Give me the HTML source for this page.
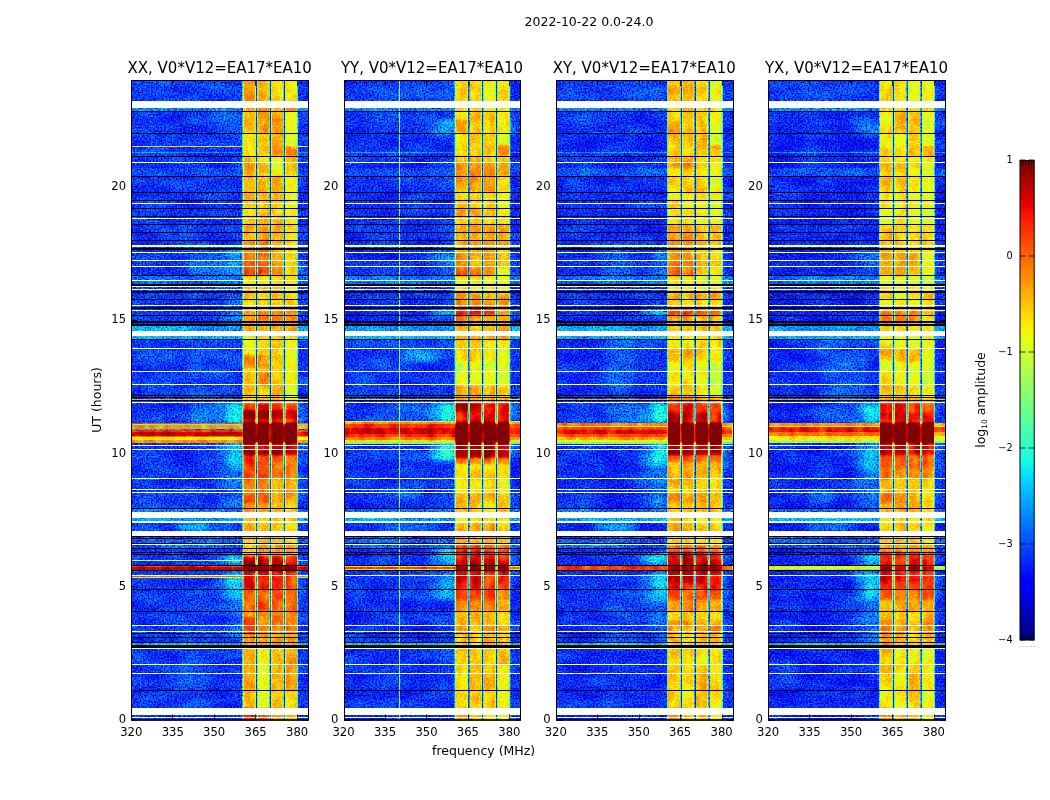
<!DOCTYPE html>
<html><head><meta charset="utf-8"><title>2022-10-22 0.0-24.0</title>
<style>html,body{margin:0;padding:0;background:#fff;overflow:hidden}svg{display:block}text{font-family:"DejaVu Sans","Liberation Sans",sans-serif;fill:#000}</style></head>
<body>
<svg width="1050" height="800" viewBox="0 0 1050 800">
<defs>
<filter id="jet0" filterUnits="userSpaceOnUse" x="131.5" y="80.5" width="177" height="639.5" color-interpolation-filters="sRGB">
<feTurbulence type="fractalNoise" baseFrequency="0.62 0.62" numOctaves="1" seed="3" result="t"/>
<feColorMatrix in="t" type="matrix" values="1 0 0 0 0 1 0 0 0 0 1 0 0 0 0 0 0 0 0 1" result="n0"/>
<feComponentTransfer in="n0" result="n"><feFuncR type="table" tableValues="0.000 0.000 0.000 0.000 0.000 0.000 0.006 0.062 0.113 0.162 0.207 0.249 0.287 0.322 0.355 0.385 0.412 0.437 0.460 0.481 0.500 0.518 0.534 0.549 0.563 0.576 0.588 0.600 0.610 0.620 0.630 0.639 0.647 0.655 0.663 0.670 0.677 0.684 0.690 0.691 0.691"/><feFuncG type="table" tableValues="0.000 0.000 0.000 0.000 0.000 0.000 0.006 0.062 0.113 0.162 0.207 0.249 0.287 0.322 0.355 0.385 0.412 0.437 0.460 0.481 0.500 0.518 0.534 0.549 0.563 0.576 0.588 0.600 0.610 0.620 0.630 0.639 0.647 0.655 0.663 0.670 0.677 0.684 0.690 0.691 0.691"/><feFuncB type="table" tableValues="0.000 0.000 0.000 0.000 0.000 0.000 0.006 0.062 0.113 0.162 0.207 0.249 0.287 0.322 0.355 0.385 0.412 0.437 0.460 0.481 0.500 0.518 0.534 0.549 0.563 0.576 0.588 0.600 0.610 0.620 0.630 0.639 0.647 0.655 0.663 0.670 0.677 0.684 0.690 0.691 0.691"/></feComponentTransfer>
<feTurbulence type="fractalNoise" baseFrequency="0.03 0.08" numOctaves="2" seed="11" result="t2"/>
<feColorMatrix in="t2" type="matrix" values="1 0 0 0 0 1 0 0 0 0 1 0 0 0 0 0 0 0 0 1" result="n2"/>
<feComposite in="SourceGraphic" in2="n2" operator="arithmetic" k1="-0.14" k2="1.07" k3="0.14" k4="-0.07" result="s1"/>
<feTurbulence type="fractalNoise" baseFrequency="0.11 0.07" numOctaves="2" seed="21" result="t3"/>
<feColorMatrix in="t3" type="matrix" values="1 0 0 0 0 1 0 0 0 0 1 0 0 0 0 0 0 0 0 1" result="n3"/>
<feComposite in="s1" in2="n3" operator="arithmetic" k1="0.22" k2="0.89" k3="0" k4="0" result="s2"/>
<feComposite in="s2" in2="n" operator="arithmetic" k1="-0.6624" k2="1.3312" k3="0.6429" k4="-0.3214" result="s"/>
<feComponentTransfer in="s"><feFuncR type="table" tableValues="0.000 0.000 0.000 0.000 0.000 0.000 0.000 0.000 0.000 0.000 0.000 0.000 0.000 0.000 0.000 0.000 0.000 0.000 0.000 0.000 0.000 0.000 0.000 0.000 0.000 0.000 0.000 0.000 0.000 0.000 0.000 0.000 0.022 0.060 0.098 0.136 0.174 0.212 0.237 0.275 0.313 0.351 0.389 0.427 0.465 0.503 0.528 0.566 0.604 0.642 0.680 0.718 0.756 0.781 0.819 0.857 0.895 0.933 0.971 1.000 1.000 1.000 1.000 1.000 1.000 1.000 1.000 1.000 1.000 1.000 1.000 1.000 1.000 1.000 1.000 1.000 1.000 1.000 1.000 1.000 0.963 0.910 0.857 0.821 0.767 0.714 0.660 0.607 0.553 0.500 0.500 0.500 0.500 0.500 0.500 0.500 0.500 0.500 0.500 0.500 0.500"/><feFuncG type="table" tableValues="0.000 0.000 0.000 0.000 0.000 0.000 0.000 0.000 0.000 0.000 0.000 0.000 0.033 0.080 0.127 0.175 0.206 0.253 0.300 0.347 0.394 0.441 0.488 0.520 0.567 0.614 0.661 0.708 0.755 0.802 0.849 0.880 0.927 0.975 1.000 1.000 1.000 1.000 1.000 1.000 1.000 1.000 1.000 1.000 1.000 1.000 1.000 1.000 1.000 1.000 1.000 1.000 1.000 1.000 1.000 1.000 1.000 1.000 0.959 0.916 0.872 0.843 0.800 0.756 0.712 0.669 0.625 0.582 0.553 0.509 0.466 0.422 0.378 0.335 0.291 0.248 0.219 0.175 0.131 0.088 0.044 0.001 0.000 0.000 0.000 0.000 0.000 0.000 0.000 0.000 0.000 0.000 0.000 0.000 0.000 0.000 0.000 0.000 0.000 0.000 0.000"/><feFuncB type="table" tableValues="0.500 0.536 0.589 0.643 0.696 0.750 0.803 0.857 0.892 0.946 0.999 1.000 1.000 1.000 1.000 1.000 1.000 1.000 1.000 1.000 1.000 1.000 1.000 1.000 1.000 1.000 1.000 1.000 1.000 1.000 1.000 0.984 0.946 0.908 0.870 0.832 0.794 0.756 0.731 0.693 0.655 0.617 0.579 0.541 0.503 0.465 0.440 0.402 0.364 0.326 0.288 0.250 0.212 0.187 0.149 0.111 0.073 0.035 0.000 0.000 0.000 0.000 0.000 0.000 0.000 0.000 0.000 0.000 0.000 0.000 0.000 0.000 0.000 0.000 0.000 0.000 0.000 0.000 0.000 0.000 0.000 0.000 0.000 0.000 0.000 0.000 0.000 0.000 0.000 0.000 0.000 0.000 0.000 0.000 0.000 0.000 0.000 0.000 0.000 0.000 0.000"/></feComponentTransfer>
</filter>
<filter id="jet1" filterUnits="userSpaceOnUse" x="344.5" y="80.5" width="176" height="639.5" color-interpolation-filters="sRGB">
<feTurbulence type="fractalNoise" baseFrequency="0.62 0.62" numOctaves="1" seed="4" result="t"/>
<feColorMatrix in="t" type="matrix" values="1 0 0 0 0 1 0 0 0 0 1 0 0 0 0 0 0 0 0 1" result="n0"/>
<feComponentTransfer in="n0" result="n"><feFuncR type="table" tableValues="0.000 0.000 0.000 0.000 0.000 0.000 0.006 0.062 0.113 0.162 0.207 0.249 0.287 0.322 0.355 0.385 0.412 0.437 0.460 0.481 0.500 0.518 0.534 0.549 0.563 0.576 0.588 0.600 0.610 0.620 0.630 0.639 0.647 0.655 0.663 0.670 0.677 0.684 0.690 0.691 0.691"/><feFuncG type="table" tableValues="0.000 0.000 0.000 0.000 0.000 0.000 0.006 0.062 0.113 0.162 0.207 0.249 0.287 0.322 0.355 0.385 0.412 0.437 0.460 0.481 0.500 0.518 0.534 0.549 0.563 0.576 0.588 0.600 0.610 0.620 0.630 0.639 0.647 0.655 0.663 0.670 0.677 0.684 0.690 0.691 0.691"/><feFuncB type="table" tableValues="0.000 0.000 0.000 0.000 0.000 0.000 0.006 0.062 0.113 0.162 0.207 0.249 0.287 0.322 0.355 0.385 0.412 0.437 0.460 0.481 0.500 0.518 0.534 0.549 0.563 0.576 0.588 0.600 0.610 0.620 0.630 0.639 0.647 0.655 0.663 0.670 0.677 0.684 0.690 0.691 0.691"/></feComponentTransfer>
<feTurbulence type="fractalNoise" baseFrequency="0.03 0.08" numOctaves="2" seed="12" result="t2"/>
<feColorMatrix in="t2" type="matrix" values="1 0 0 0 0 1 0 0 0 0 1 0 0 0 0 0 0 0 0 1" result="n2"/>
<feComposite in="SourceGraphic" in2="n2" operator="arithmetic" k1="-0.14" k2="1.07" k3="0.14" k4="-0.07" result="s1"/>
<feTurbulence type="fractalNoise" baseFrequency="0.11 0.07" numOctaves="2" seed="22" result="t3"/>
<feColorMatrix in="t3" type="matrix" values="1 0 0 0 0 1 0 0 0 0 1 0 0 0 0 0 0 0 0 1" result="n3"/>
<feComposite in="s1" in2="n3" operator="arithmetic" k1="0.22" k2="0.89" k3="0" k4="0" result="s2"/>
<feComposite in="s2" in2="n" operator="arithmetic" k1="-0.6624" k2="1.3312" k3="0.6429" k4="-0.3214" result="s"/>
<feComponentTransfer in="s"><feFuncR type="table" tableValues="0.000 0.000 0.000 0.000 0.000 0.000 0.000 0.000 0.000 0.000 0.000 0.000 0.000 0.000 0.000 0.000 0.000 0.000 0.000 0.000 0.000 0.000 0.000 0.000 0.000 0.000 0.000 0.000 0.000 0.000 0.000 0.000 0.022 0.060 0.098 0.136 0.174 0.212 0.237 0.275 0.313 0.351 0.389 0.427 0.465 0.503 0.528 0.566 0.604 0.642 0.680 0.718 0.756 0.781 0.819 0.857 0.895 0.933 0.971 1.000 1.000 1.000 1.000 1.000 1.000 1.000 1.000 1.000 1.000 1.000 1.000 1.000 1.000 1.000 1.000 1.000 1.000 1.000 1.000 1.000 0.963 0.910 0.857 0.821 0.767 0.714 0.660 0.607 0.553 0.500 0.500 0.500 0.500 0.500 0.500 0.500 0.500 0.500 0.500 0.500 0.500"/><feFuncG type="table" tableValues="0.000 0.000 0.000 0.000 0.000 0.000 0.000 0.000 0.000 0.000 0.000 0.000 0.033 0.080 0.127 0.175 0.206 0.253 0.300 0.347 0.394 0.441 0.488 0.520 0.567 0.614 0.661 0.708 0.755 0.802 0.849 0.880 0.927 0.975 1.000 1.000 1.000 1.000 1.000 1.000 1.000 1.000 1.000 1.000 1.000 1.000 1.000 1.000 1.000 1.000 1.000 1.000 1.000 1.000 1.000 1.000 1.000 1.000 0.959 0.916 0.872 0.843 0.800 0.756 0.712 0.669 0.625 0.582 0.553 0.509 0.466 0.422 0.378 0.335 0.291 0.248 0.219 0.175 0.131 0.088 0.044 0.001 0.000 0.000 0.000 0.000 0.000 0.000 0.000 0.000 0.000 0.000 0.000 0.000 0.000 0.000 0.000 0.000 0.000 0.000 0.000"/><feFuncB type="table" tableValues="0.500 0.536 0.589 0.643 0.696 0.750 0.803 0.857 0.892 0.946 0.999 1.000 1.000 1.000 1.000 1.000 1.000 1.000 1.000 1.000 1.000 1.000 1.000 1.000 1.000 1.000 1.000 1.000 1.000 1.000 1.000 0.984 0.946 0.908 0.870 0.832 0.794 0.756 0.731 0.693 0.655 0.617 0.579 0.541 0.503 0.465 0.440 0.402 0.364 0.326 0.288 0.250 0.212 0.187 0.149 0.111 0.073 0.035 0.000 0.000 0.000 0.000 0.000 0.000 0.000 0.000 0.000 0.000 0.000 0.000 0.000 0.000 0.000 0.000 0.000 0.000 0.000 0.000 0.000 0.000 0.000 0.000 0.000 0.000 0.000 0.000 0.000 0.000 0.000 0.000 0.000 0.000 0.000 0.000 0.000 0.000 0.000 0.000 0.000 0.000 0.000"/></feComponentTransfer>
</filter>
<filter id="jet2" filterUnits="userSpaceOnUse" x="556.5" y="80.5" width="177" height="639.5" color-interpolation-filters="sRGB">
<feTurbulence type="fractalNoise" baseFrequency="0.62 0.62" numOctaves="1" seed="5" result="t"/>
<feColorMatrix in="t" type="matrix" values="1 0 0 0 0 1 0 0 0 0 1 0 0 0 0 0 0 0 0 1" result="n0"/>
<feComponentTransfer in="n0" result="n"><feFuncR type="table" tableValues="0.000 0.000 0.000 0.000 0.000 0.000 0.006 0.062 0.113 0.162 0.207 0.249 0.287 0.322 0.355 0.385 0.412 0.437 0.460 0.481 0.500 0.518 0.534 0.549 0.563 0.576 0.588 0.600 0.610 0.620 0.630 0.639 0.647 0.655 0.663 0.670 0.677 0.684 0.690 0.691 0.691"/><feFuncG type="table" tableValues="0.000 0.000 0.000 0.000 0.000 0.000 0.006 0.062 0.113 0.162 0.207 0.249 0.287 0.322 0.355 0.385 0.412 0.437 0.460 0.481 0.500 0.518 0.534 0.549 0.563 0.576 0.588 0.600 0.610 0.620 0.630 0.639 0.647 0.655 0.663 0.670 0.677 0.684 0.690 0.691 0.691"/><feFuncB type="table" tableValues="0.000 0.000 0.000 0.000 0.000 0.000 0.006 0.062 0.113 0.162 0.207 0.249 0.287 0.322 0.355 0.385 0.412 0.437 0.460 0.481 0.500 0.518 0.534 0.549 0.563 0.576 0.588 0.600 0.610 0.620 0.630 0.639 0.647 0.655 0.663 0.670 0.677 0.684 0.690 0.691 0.691"/></feComponentTransfer>
<feTurbulence type="fractalNoise" baseFrequency="0.03 0.08" numOctaves="2" seed="13" result="t2"/>
<feColorMatrix in="t2" type="matrix" values="1 0 0 0 0 1 0 0 0 0 1 0 0 0 0 0 0 0 0 1" result="n2"/>
<feComposite in="SourceGraphic" in2="n2" operator="arithmetic" k1="-0.14" k2="1.07" k3="0.14" k4="-0.07" result="s1"/>
<feTurbulence type="fractalNoise" baseFrequency="0.11 0.07" numOctaves="2" seed="23" result="t3"/>
<feColorMatrix in="t3" type="matrix" values="1 0 0 0 0 1 0 0 0 0 1 0 0 0 0 0 0 0 0 1" result="n3"/>
<feComposite in="s1" in2="n3" operator="arithmetic" k1="0.22" k2="0.89" k3="0" k4="0" result="s2"/>
<feComposite in="s2" in2="n" operator="arithmetic" k1="-0.6624" k2="1.3312" k3="0.6429" k4="-0.3214" result="s"/>
<feComponentTransfer in="s"><feFuncR type="table" tableValues="0.000 0.000 0.000 0.000 0.000 0.000 0.000 0.000 0.000 0.000 0.000 0.000 0.000 0.000 0.000 0.000 0.000 0.000 0.000 0.000 0.000 0.000 0.000 0.000 0.000 0.000 0.000 0.000 0.000 0.000 0.000 0.000 0.022 0.060 0.098 0.136 0.174 0.212 0.237 0.275 0.313 0.351 0.389 0.427 0.465 0.503 0.528 0.566 0.604 0.642 0.680 0.718 0.756 0.781 0.819 0.857 0.895 0.933 0.971 1.000 1.000 1.000 1.000 1.000 1.000 1.000 1.000 1.000 1.000 1.000 1.000 1.000 1.000 1.000 1.000 1.000 1.000 1.000 1.000 1.000 0.963 0.910 0.857 0.821 0.767 0.714 0.660 0.607 0.553 0.500 0.500 0.500 0.500 0.500 0.500 0.500 0.500 0.500 0.500 0.500 0.500"/><feFuncG type="table" tableValues="0.000 0.000 0.000 0.000 0.000 0.000 0.000 0.000 0.000 0.000 0.000 0.000 0.033 0.080 0.127 0.175 0.206 0.253 0.300 0.347 0.394 0.441 0.488 0.520 0.567 0.614 0.661 0.708 0.755 0.802 0.849 0.880 0.927 0.975 1.000 1.000 1.000 1.000 1.000 1.000 1.000 1.000 1.000 1.000 1.000 1.000 1.000 1.000 1.000 1.000 1.000 1.000 1.000 1.000 1.000 1.000 1.000 1.000 0.959 0.916 0.872 0.843 0.800 0.756 0.712 0.669 0.625 0.582 0.553 0.509 0.466 0.422 0.378 0.335 0.291 0.248 0.219 0.175 0.131 0.088 0.044 0.001 0.000 0.000 0.000 0.000 0.000 0.000 0.000 0.000 0.000 0.000 0.000 0.000 0.000 0.000 0.000 0.000 0.000 0.000 0.000"/><feFuncB type="table" tableValues="0.500 0.536 0.589 0.643 0.696 0.750 0.803 0.857 0.892 0.946 0.999 1.000 1.000 1.000 1.000 1.000 1.000 1.000 1.000 1.000 1.000 1.000 1.000 1.000 1.000 1.000 1.000 1.000 1.000 1.000 1.000 0.984 0.946 0.908 0.870 0.832 0.794 0.756 0.731 0.693 0.655 0.617 0.579 0.541 0.503 0.465 0.440 0.402 0.364 0.326 0.288 0.250 0.212 0.187 0.149 0.111 0.073 0.035 0.000 0.000 0.000 0.000 0.000 0.000 0.000 0.000 0.000 0.000 0.000 0.000 0.000 0.000 0.000 0.000 0.000 0.000 0.000 0.000 0.000 0.000 0.000 0.000 0.000 0.000 0.000 0.000 0.000 0.000 0.000 0.000 0.000 0.000 0.000 0.000 0.000 0.000 0.000 0.000 0.000 0.000 0.000"/></feComponentTransfer>
</filter>
<filter id="jet3" filterUnits="userSpaceOnUse" x="768.5" y="80.5" width="177" height="639.5" color-interpolation-filters="sRGB">
<feTurbulence type="fractalNoise" baseFrequency="0.62 0.62" numOctaves="1" seed="6" result="t"/>
<feColorMatrix in="t" type="matrix" values="1 0 0 0 0 1 0 0 0 0 1 0 0 0 0 0 0 0 0 1" result="n0"/>
<feComponentTransfer in="n0" result="n"><feFuncR type="table" tableValues="0.000 0.000 0.000 0.000 0.000 0.000 0.006 0.062 0.113 0.162 0.207 0.249 0.287 0.322 0.355 0.385 0.412 0.437 0.460 0.481 0.500 0.518 0.534 0.549 0.563 0.576 0.588 0.600 0.610 0.620 0.630 0.639 0.647 0.655 0.663 0.670 0.677 0.684 0.690 0.691 0.691"/><feFuncG type="table" tableValues="0.000 0.000 0.000 0.000 0.000 0.000 0.006 0.062 0.113 0.162 0.207 0.249 0.287 0.322 0.355 0.385 0.412 0.437 0.460 0.481 0.500 0.518 0.534 0.549 0.563 0.576 0.588 0.600 0.610 0.620 0.630 0.639 0.647 0.655 0.663 0.670 0.677 0.684 0.690 0.691 0.691"/><feFuncB type="table" tableValues="0.000 0.000 0.000 0.000 0.000 0.000 0.006 0.062 0.113 0.162 0.207 0.249 0.287 0.322 0.355 0.385 0.412 0.437 0.460 0.481 0.500 0.518 0.534 0.549 0.563 0.576 0.588 0.600 0.610 0.620 0.630 0.639 0.647 0.655 0.663 0.670 0.677 0.684 0.690 0.691 0.691"/></feComponentTransfer>
<feTurbulence type="fractalNoise" baseFrequency="0.03 0.08" numOctaves="2" seed="14" result="t2"/>
<feColorMatrix in="t2" type="matrix" values="1 0 0 0 0 1 0 0 0 0 1 0 0 0 0 0 0 0 0 1" result="n2"/>
<feComposite in="SourceGraphic" in2="n2" operator="arithmetic" k1="-0.14" k2="1.07" k3="0.14" k4="-0.07" result="s1"/>
<feTurbulence type="fractalNoise" baseFrequency="0.11 0.07" numOctaves="2" seed="24" result="t3"/>
<feColorMatrix in="t3" type="matrix" values="1 0 0 0 0 1 0 0 0 0 1 0 0 0 0 0 0 0 0 1" result="n3"/>
<feComposite in="s1" in2="n3" operator="arithmetic" k1="0.22" k2="0.89" k3="0" k4="0" result="s2"/>
<feComposite in="s2" in2="n" operator="arithmetic" k1="-0.6624" k2="1.3312" k3="0.6429" k4="-0.3214" result="s"/>
<feComponentTransfer in="s"><feFuncR type="table" tableValues="0.000 0.000 0.000 0.000 0.000 0.000 0.000 0.000 0.000 0.000 0.000 0.000 0.000 0.000 0.000 0.000 0.000 0.000 0.000 0.000 0.000 0.000 0.000 0.000 0.000 0.000 0.000 0.000 0.000 0.000 0.000 0.000 0.022 0.060 0.098 0.136 0.174 0.212 0.237 0.275 0.313 0.351 0.389 0.427 0.465 0.503 0.528 0.566 0.604 0.642 0.680 0.718 0.756 0.781 0.819 0.857 0.895 0.933 0.971 1.000 1.000 1.000 1.000 1.000 1.000 1.000 1.000 1.000 1.000 1.000 1.000 1.000 1.000 1.000 1.000 1.000 1.000 1.000 1.000 1.000 0.963 0.910 0.857 0.821 0.767 0.714 0.660 0.607 0.553 0.500 0.500 0.500 0.500 0.500 0.500 0.500 0.500 0.500 0.500 0.500 0.500"/><feFuncG type="table" tableValues="0.000 0.000 0.000 0.000 0.000 0.000 0.000 0.000 0.000 0.000 0.000 0.000 0.033 0.080 0.127 0.175 0.206 0.253 0.300 0.347 0.394 0.441 0.488 0.520 0.567 0.614 0.661 0.708 0.755 0.802 0.849 0.880 0.927 0.975 1.000 1.000 1.000 1.000 1.000 1.000 1.000 1.000 1.000 1.000 1.000 1.000 1.000 1.000 1.000 1.000 1.000 1.000 1.000 1.000 1.000 1.000 1.000 1.000 0.959 0.916 0.872 0.843 0.800 0.756 0.712 0.669 0.625 0.582 0.553 0.509 0.466 0.422 0.378 0.335 0.291 0.248 0.219 0.175 0.131 0.088 0.044 0.001 0.000 0.000 0.000 0.000 0.000 0.000 0.000 0.000 0.000 0.000 0.000 0.000 0.000 0.000 0.000 0.000 0.000 0.000 0.000"/><feFuncB type="table" tableValues="0.500 0.536 0.589 0.643 0.696 0.750 0.803 0.857 0.892 0.946 0.999 1.000 1.000 1.000 1.000 1.000 1.000 1.000 1.000 1.000 1.000 1.000 1.000 1.000 1.000 1.000 1.000 1.000 1.000 1.000 1.000 0.984 0.946 0.908 0.870 0.832 0.794 0.756 0.731 0.693 0.655 0.617 0.579 0.541 0.503 0.465 0.440 0.402 0.364 0.326 0.288 0.250 0.212 0.187 0.149 0.111 0.073 0.035 0.000 0.000 0.000 0.000 0.000 0.000 0.000 0.000 0.000 0.000 0.000 0.000 0.000 0.000 0.000 0.000 0.000 0.000 0.000 0.000 0.000 0.000 0.000 0.000 0.000 0.000 0.000 0.000 0.000 0.000 0.000 0.000 0.000 0.000 0.000 0.000 0.000 0.000 0.000 0.000 0.000 0.000 0.000"/></feComponentTransfer>
</filter>
<filter id="bs" x="-10%" y="-5%" width="120%" height="110%" color-interpolation-filters="sRGB"><feGaussianBlur stdDeviation="3.5 2.5"/></filter>
<filter id="bm" x="-5%" y="-5%" width="110%" height="110%" color-interpolation-filters="sRGB"><feGaussianBlur stdDeviation="0 1.3"/></filter>
<linearGradient id="cb" x1="0" y1="0" x2="0" y2="1"><stop offset="0.0000" stop-color="#800000"/><stop offset="0.0156" stop-color="#8d0000"/><stop offset="0.0312" stop-color="#9f0000"/><stop offset="0.0469" stop-color="#b20000"/><stop offset="0.0625" stop-color="#c40000"/><stop offset="0.0781" stop-color="#d60000"/><stop offset="0.0938" stop-color="#e80000"/><stop offset="0.1094" stop-color="#fa0f00"/><stop offset="0.1250" stop-color="#ff1e00"/><stop offset="0.1406" stop-color="#ff2d00"/><stop offset="0.1562" stop-color="#ff3b00"/><stop offset="0.1719" stop-color="#ff4a00"/><stop offset="0.1875" stop-color="#ff5900"/><stop offset="0.2031" stop-color="#ff6800"/><stop offset="0.2188" stop-color="#ff7700"/><stop offset="0.2344" stop-color="#ff8600"/><stop offset="0.2500" stop-color="#ff9400"/><stop offset="0.2656" stop-color="#ffa300"/><stop offset="0.2812" stop-color="#ffb200"/><stop offset="0.2969" stop-color="#ffc100"/><stop offset="0.3125" stop-color="#ffd000"/><stop offset="0.3281" stop-color="#ffde00"/><stop offset="0.3438" stop-color="#feed00"/><stop offset="0.3594" stop-color="#f1fc06"/><stop offset="0.3750" stop-color="#e4ff13"/><stop offset="0.3906" stop-color="#d7ff1f"/><stop offset="0.4062" stop-color="#caff2c"/><stop offset="0.4219" stop-color="#beff39"/><stop offset="0.4375" stop-color="#b1ff46"/><stop offset="0.4531" stop-color="#a4ff53"/><stop offset="0.4688" stop-color="#97ff60"/><stop offset="0.4844" stop-color="#8aff6d"/><stop offset="0.5000" stop-color="#7dff7a"/><stop offset="0.5156" stop-color="#70ff87"/><stop offset="0.5312" stop-color="#63ff94"/><stop offset="0.5469" stop-color="#56ffa0"/><stop offset="0.5625" stop-color="#49ffad"/><stop offset="0.5781" stop-color="#3cffba"/><stop offset="0.5938" stop-color="#30ffc7"/><stop offset="0.6094" stop-color="#23ffd4"/><stop offset="0.6250" stop-color="#16ffe1"/><stop offset="0.6406" stop-color="#09f0ee"/><stop offset="0.6562" stop-color="#00e0fb"/><stop offset="0.6719" stop-color="#00d0ff"/><stop offset="0.6875" stop-color="#00c0ff"/><stop offset="0.7031" stop-color="#00b0ff"/><stop offset="0.7188" stop-color="#00a0ff"/><stop offset="0.7344" stop-color="#0090ff"/><stop offset="0.7500" stop-color="#0080ff"/><stop offset="0.7656" stop-color="#0070ff"/><stop offset="0.7812" stop-color="#0060ff"/><stop offset="0.7969" stop-color="#0050ff"/><stop offset="0.8125" stop-color="#0040ff"/><stop offset="0.8281" stop-color="#0030ff"/><stop offset="0.8438" stop-color="#0020ff"/><stop offset="0.8594" stop-color="#0010ff"/><stop offset="0.8750" stop-color="#0000ff"/><stop offset="0.8906" stop-color="#0000ff"/><stop offset="0.9062" stop-color="#0000ed"/><stop offset="0.9219" stop-color="#0000da"/><stop offset="0.9375" stop-color="#0000c8"/><stop offset="0.9531" stop-color="#0000b6"/><stop offset="0.9688" stop-color="#0000a4"/><stop offset="0.9844" stop-color="#000092"/><stop offset="1.0000" stop-color="#000080"/></linearGradient>
</defs>
<text x="589" y="26" font-size="12.5" text-anchor="middle">2022-10-22 0.0-24.0</text>
<g filter="url(#jet0)">
<g filter="url(#bs)"><rect x="119.25" y="60" width="200.9" height="680" fill="#292929"/><rect x="131.25" y="80" width="112" height="21" fill="#2c2c2c"/><rect x="188.25" y="246" width="52" height="30" fill="#353535"/><rect x="144.25" y="336" width="28" height="64" fill="#2c2c2c"/><rect x="188.25" y="336" width="48" height="64" fill="#2e2e2e"/><rect x="191.25" y="404" width="40" height="19" fill="#383838"/><rect x="178.25" y="523" width="28" height="8" fill="#4a4a4a"/><rect x="206.25" y="523" width="25" height="8" fill="#383838"/><rect x="181.25" y="648" width="30" height="60" fill="#2e2e2e"/><rect x="191.25" y="589" width="35" height="56" fill="#2c2c2c"/><rect x="217.25" y="108" width="10" height="25" fill="#2e2e2e"/><rect x="227.25" y="108" width="17" height="25" fill="#323232"/><rect x="296.25" y="108" width="6" height="25" fill="#2e2e2e"/><rect x="217.25" y="246" width="10" height="30" fill="#343434"/><rect x="227.25" y="246" width="17" height="30" fill="#404040"/><rect x="296.25" y="246" width="6" height="30" fill="#343434"/><rect x="217.25" y="276" width="10" height="60" fill="#2f2f2f"/><rect x="227.25" y="276" width="17" height="60" fill="#343434"/><rect x="296.25" y="276" width="6" height="60" fill="#2f2f2f"/><rect x="217.25" y="403" width="10" height="20" fill="#3d3d3d"/><rect x="227.25" y="403" width="17" height="20" fill="#525252"/><rect x="296.25" y="403" width="6" height="20" fill="#3d3d3d"/><rect x="217.25" y="443" width="10" height="27" fill="#393939"/><rect x="227.25" y="443" width="17" height="27" fill="#494949"/><rect x="296.25" y="443" width="6" height="27" fill="#393939"/><rect x="217.25" y="470" width="10" height="40" fill="#303030"/><rect x="227.25" y="470" width="17" height="40" fill="#373737"/><rect x="296.25" y="470" width="6" height="40" fill="#303030"/><rect x="217.25" y="556" width="10" height="9" fill="#3b3b3b"/><rect x="227.25" y="556" width="17" height="9" fill="#4d4d4d"/><rect x="296.25" y="556" width="6" height="9" fill="#3b3b3b"/><rect x="217.25" y="571" width="10" height="29" fill="#393939"/><rect x="227.25" y="571" width="17" height="29" fill="#494949"/><rect x="296.25" y="571" width="6" height="29" fill="#393939"/><rect x="217.25" y="600" width="10" height="48" fill="#2f2f2f"/><rect x="227.25" y="600" width="17" height="48" fill="#343434"/><rect x="296.25" y="600" width="6" height="48" fill="#2f2f2f"/></g>
<g filter="url(#bm)"><rect x="242.25" y="60" width="55.8" height="48" fill="#5b5b5b"/><rect x="255.95" y="60" width="1.3" height="48" fill="#242424"/><rect x="269.65" y="60" width="1.4" height="48" fill="#242424"/><rect x="283.65" y="60" width="1.3" height="48" fill="#242424"/><rect x="243.25" y="60" width="12.3" height="48" fill="#a8a8a8"/><rect x="257.65" y="60" width="11.6" height="48" fill="#a6a6a6"/><rect x="271.45" y="60" width="11.8" height="48" fill="#9a9a9a"/><rect x="285.35" y="60" width="11.7" height="48" fill="#989898"/><rect x="242.25" y="108" width="55.8" height="3" fill="#5b5b5b"/><rect x="255.95" y="108" width="1.3" height="3" fill="#2a2a2a"/><rect x="269.65" y="108" width="1.4" height="3" fill="#2a2a2a"/><rect x="283.65" y="108" width="1.3" height="3" fill="#2a2a2a"/><rect x="243.25" y="108" width="12.3" height="3" fill="#a6a6a6"/><rect x="257.65" y="108" width="11.6" height="3" fill="#aaaaaa"/><rect x="271.45" y="108" width="11.8" height="3" fill="#a6a6a6"/><rect x="285.35" y="108" width="11.7" height="3" fill="#b8b8b8"/><rect x="242.25" y="111" width="55.8" height="22" fill="#5b5b5b"/><rect x="255.95" y="111" width="1.3" height="22" fill="#242424"/><rect x="269.65" y="111" width="1.4" height="22" fill="#242424"/><rect x="283.65" y="111" width="1.3" height="22" fill="#242424"/><rect x="243.25" y="111" width="12.3" height="22" fill="#a1a1a1"/><rect x="257.65" y="111" width="11.6" height="22" fill="#aaaaaa"/><rect x="271.45" y="111" width="11.8" height="22" fill="#a6a6a6"/><rect x="285.35" y="111" width="11.7" height="22" fill="#919191"/><rect x="242.25" y="133" width="55.8" height="13" fill="#5b5b5b"/><rect x="255.95" y="133" width="1.3" height="13" fill="#242424"/><rect x="269.65" y="133" width="1.4" height="13" fill="#242424"/><rect x="283.65" y="133" width="1.3" height="13" fill="#242424"/><rect x="243.25" y="133" width="12.3" height="13" fill="#989898"/><rect x="257.65" y="133" width="11.6" height="13" fill="#9d9d9d"/><rect x="271.45" y="133" width="11.8" height="13" fill="#a6a6a6"/><rect x="285.35" y="133" width="11.7" height="13" fill="#8a8a8a"/><rect x="242.25" y="146" width="55.8" height="10" fill="#5b5b5b"/><rect x="255.95" y="146" width="1.3" height="10" fill="#242424"/><rect x="269.65" y="146" width="1.4" height="10" fill="#242424"/><rect x="283.65" y="146" width="1.3" height="10" fill="#242424"/><rect x="243.25" y="146" width="12.3" height="10" fill="#9d9d9d"/><rect x="257.65" y="146" width="11.6" height="10" fill="#9d9d9d"/><rect x="271.45" y="146" width="11.8" height="10" fill="#aaaaaa"/><rect x="285.35" y="146" width="11.7" height="10" fill="#adadad"/><rect x="242.25" y="156" width="55.8" height="6" fill="#5b5b5b"/><rect x="255.95" y="156" width="1.3" height="6" fill="#242424"/><rect x="269.65" y="156" width="1.4" height="6" fill="#242424"/><rect x="283.65" y="156" width="1.3" height="6" fill="#242424"/><rect x="243.25" y="156" width="12.3" height="6" fill="#9d9d9d"/><rect x="257.65" y="156" width="11.6" height="6" fill="#989898"/><rect x="271.45" y="156" width="11.8" height="6" fill="#949494"/><rect x="285.35" y="156" width="11.7" height="6" fill="#a1a1a1"/><rect x="242.25" y="162" width="55.8" height="14" fill="#5b5b5b"/><rect x="255.95" y="162" width="1.3" height="14" fill="#242424"/><rect x="269.65" y="162" width="1.4" height="14" fill="#242424"/><rect x="283.65" y="162" width="1.3" height="14" fill="#242424"/><rect x="243.25" y="162" width="12.3" height="14" fill="#a3a3a3"/><rect x="257.65" y="162" width="11.6" height="14" fill="#a1a1a1"/><rect x="271.45" y="162" width="11.8" height="14" fill="#8f8f8f"/><rect x="285.35" y="162" width="11.7" height="14" fill="#9d9d9d"/><rect x="242.25" y="176" width="55.8" height="16" fill="#5b5b5b"/><rect x="255.95" y="176" width="1.3" height="16" fill="#242424"/><rect x="269.65" y="176" width="1.4" height="16" fill="#242424"/><rect x="283.65" y="176" width="1.3" height="16" fill="#242424"/><rect x="243.25" y="176" width="12.3" height="16" fill="#a1a1a1"/><rect x="257.65" y="176" width="11.6" height="16" fill="#a6a6a6"/><rect x="271.45" y="176" width="11.8" height="16" fill="#a3a3a3"/><rect x="285.35" y="176" width="11.7" height="16" fill="#949494"/><rect x="242.25" y="192" width="55.8" height="8" fill="#5b5b5b"/><rect x="255.95" y="192" width="1.3" height="8" fill="#242424"/><rect x="269.65" y="192" width="1.4" height="8" fill="#242424"/><rect x="283.65" y="192" width="1.3" height="8" fill="#242424"/><rect x="243.25" y="192" width="12.3" height="8" fill="#a6a6a6"/><rect x="257.65" y="192" width="11.6" height="8" fill="#a1a1a1"/><rect x="271.45" y="192" width="11.8" height="8" fill="#a1a1a1"/><rect x="285.35" y="192" width="11.7" height="8" fill="#949494"/><rect x="242.25" y="200" width="55.8" height="8" fill="#5b5b5b"/><rect x="255.95" y="200" width="1.3" height="8" fill="#242424"/><rect x="269.65" y="200" width="1.4" height="8" fill="#242424"/><rect x="283.65" y="200" width="1.3" height="8" fill="#242424"/><rect x="243.25" y="200" width="12.3" height="8" fill="#a1a1a1"/><rect x="257.65" y="200" width="11.6" height="8" fill="#a1a1a1"/><rect x="271.45" y="200" width="11.8" height="8" fill="#9d9d9d"/><rect x="285.35" y="200" width="11.7" height="8" fill="#949494"/><rect x="242.25" y="208" width="55.8" height="16" fill="#5b5b5b"/><rect x="255.95" y="208" width="1.3" height="16" fill="#242424"/><rect x="269.65" y="208" width="1.4" height="16" fill="#242424"/><rect x="283.65" y="208" width="1.3" height="16" fill="#242424"/><rect x="243.25" y="208" width="12.3" height="16" fill="#989898"/><rect x="257.65" y="208" width="11.6" height="16" fill="#a1a1a1"/><rect x="271.45" y="208" width="11.8" height="16" fill="#9d9d9d"/><rect x="285.35" y="208" width="11.7" height="16" fill="#949494"/><rect x="242.25" y="224" width="55.8" height="16" fill="#5b5b5b"/><rect x="255.95" y="224" width="1.3" height="16" fill="#242424"/><rect x="269.65" y="224" width="1.4" height="16" fill="#242424"/><rect x="283.65" y="224" width="1.3" height="16" fill="#242424"/><rect x="243.25" y="224" width="12.3" height="16" fill="#a6a6a6"/><rect x="257.65" y="224" width="11.6" height="16" fill="#aaaaaa"/><rect x="271.45" y="224" width="11.8" height="16" fill="#a1a1a1"/><rect x="285.35" y="224" width="11.7" height="16" fill="#989898"/><rect x="242.25" y="240" width="55.8" height="13" fill="#5b5b5b"/><rect x="255.95" y="240" width="1.3" height="13" fill="#272727"/><rect x="269.65" y="240" width="1.4" height="13" fill="#272727"/><rect x="283.65" y="240" width="1.3" height="13" fill="#272727"/><rect x="243.25" y="240" width="12.3" height="13" fill="#afafaf"/><rect x="257.65" y="240" width="11.6" height="13" fill="#afafaf"/><rect x="271.45" y="240" width="11.8" height="13" fill="#a6a6a6"/><rect x="285.35" y="240" width="11.7" height="13" fill="#9d9d9d"/><rect x="242.25" y="253" width="55.8" height="8" fill="#5b5b5b"/><rect x="255.95" y="253" width="1.3" height="8" fill="#2b2b2b"/><rect x="269.65" y="253" width="1.4" height="8" fill="#2b2b2b"/><rect x="283.65" y="253" width="1.3" height="8" fill="#2b2b2b"/><rect x="243.25" y="253" width="12.3" height="8" fill="#b3b3b3"/><rect x="257.65" y="253" width="11.6" height="8" fill="#b3b3b3"/><rect x="271.45" y="253" width="11.8" height="8" fill="#aaaaaa"/><rect x="285.35" y="253" width="11.7" height="8" fill="#a1a1a1"/><rect x="242.25" y="261" width="55.8" height="7" fill="#5b5b5b"/><rect x="255.95" y="261" width="1.3" height="7" fill="#303030"/><rect x="269.65" y="261" width="1.4" height="7" fill="#303030"/><rect x="283.65" y="261" width="1.3" height="7" fill="#303030"/><rect x="243.25" y="261" width="12.3" height="7" fill="#bdbdbd"/><rect x="257.65" y="261" width="11.6" height="7" fill="#bababa"/><rect x="271.45" y="261" width="11.8" height="7" fill="#afafaf"/><rect x="285.35" y="261" width="11.7" height="7" fill="#a1a1a1"/><rect x="242.25" y="268" width="55.8" height="8" fill="#5b5b5b"/><rect x="255.95" y="268" width="1.3" height="8" fill="#303030"/><rect x="269.65" y="268" width="1.4" height="8" fill="#303030"/><rect x="283.65" y="268" width="1.3" height="8" fill="#303030"/><rect x="243.25" y="268" width="12.3" height="8" fill="#bfbfbf"/><rect x="257.65" y="268" width="11.6" height="8" fill="#bababa"/><rect x="271.45" y="268" width="11.8" height="8" fill="#afafaf"/><rect x="285.35" y="268" width="11.7" height="8" fill="#9d9d9d"/><rect x="242.25" y="276" width="55.8" height="10" fill="#5b5b5b"/><rect x="255.95" y="276" width="1.3" height="10" fill="#242424"/><rect x="269.65" y="276" width="1.4" height="10" fill="#242424"/><rect x="283.65" y="276" width="1.3" height="10" fill="#242424"/><rect x="243.25" y="276" width="12.3" height="10" fill="#949494"/><rect x="257.65" y="276" width="11.6" height="10" fill="#989898"/><rect x="271.45" y="276" width="11.8" height="10" fill="#989898"/><rect x="285.35" y="276" width="11.7" height="10" fill="#949494"/><rect x="242.25" y="286" width="55.8" height="7" fill="#5b5b5b"/><rect x="255.95" y="286" width="1.3" height="7" fill="#242424"/><rect x="269.65" y="286" width="1.4" height="7" fill="#242424"/><rect x="283.65" y="286" width="1.3" height="7" fill="#242424"/><rect x="243.25" y="286" width="12.3" height="7" fill="#9d9d9d"/><rect x="257.65" y="286" width="11.6" height="7" fill="#9d9d9d"/><rect x="271.45" y="286" width="11.8" height="7" fill="#a1a1a1"/><rect x="285.35" y="286" width="11.7" height="7" fill="#9d9d9d"/><rect x="242.25" y="293" width="55.8" height="7" fill="#5b5b5b"/><rect x="255.95" y="293" width="1.3" height="7" fill="#242424"/><rect x="269.65" y="293" width="1.4" height="7" fill="#242424"/><rect x="283.65" y="293" width="1.3" height="7" fill="#242424"/><rect x="243.25" y="293" width="12.3" height="7" fill="#a1a1a1"/><rect x="257.65" y="293" width="11.6" height="7" fill="#989898"/><rect x="271.45" y="293" width="11.8" height="7" fill="#a6a6a6"/><rect x="285.35" y="293" width="11.7" height="7" fill="#a1a1a1"/><rect x="242.25" y="300" width="55.8" height="9" fill="#5b5b5b"/><rect x="255.95" y="300" width="1.3" height="9" fill="#242424"/><rect x="269.65" y="300" width="1.4" height="9" fill="#242424"/><rect x="283.65" y="300" width="1.3" height="9" fill="#242424"/><rect x="243.25" y="300" width="12.3" height="9" fill="#989898"/><rect x="257.65" y="300" width="11.6" height="9" fill="#9d9d9d"/><rect x="271.45" y="300" width="11.8" height="9" fill="#9d9d9d"/><rect x="285.35" y="300" width="11.7" height="9" fill="#9d9d9d"/><rect x="242.25" y="309" width="55.8" height="7" fill="#5b5b5b"/><rect x="255.95" y="309" width="1.3" height="7" fill="#2c2c2c"/><rect x="269.65" y="309" width="1.4" height="7" fill="#2c2c2c"/><rect x="283.65" y="309" width="1.3" height="7" fill="#2c2c2c"/><rect x="243.25" y="309" width="12.3" height="7" fill="#afafaf"/><rect x="257.65" y="309" width="11.6" height="7" fill="#afafaf"/><rect x="271.45" y="309" width="11.8" height="7" fill="#afafaf"/><rect x="285.35" y="309" width="11.7" height="7" fill="#aaaaaa"/><rect x="242.25" y="316" width="55.8" height="8" fill="#5b5b5b"/><rect x="255.95" y="316" width="1.3" height="8" fill="#2f2f2f"/><rect x="269.65" y="316" width="1.4" height="8" fill="#2f2f2f"/><rect x="283.65" y="316" width="1.3" height="8" fill="#2f2f2f"/><rect x="243.25" y="316" width="12.3" height="8" fill="#aaaaaa"/><rect x="257.65" y="316" width="11.6" height="8" fill="#afafaf"/><rect x="271.45" y="316" width="11.8" height="8" fill="#b3b3b3"/><rect x="285.35" y="316" width="11.7" height="8" fill="#b3b3b3"/><rect x="242.25" y="324" width="55.8" height="12" fill="#5b5b5b"/><rect x="255.95" y="324" width="1.3" height="12" fill="#242424"/><rect x="269.65" y="324" width="1.4" height="12" fill="#242424"/><rect x="283.65" y="324" width="1.3" height="12" fill="#242424"/><rect x="243.25" y="324" width="12.3" height="12" fill="#a6a6a6"/><rect x="257.65" y="324" width="11.6" height="12" fill="#a6a6a6"/><rect x="271.45" y="324" width="11.8" height="12" fill="#a6a6a6"/><rect x="285.35" y="324" width="11.7" height="12" fill="#a6a6a6"/><rect x="242.25" y="336" width="55.8" height="13" fill="#5b5b5b"/><rect x="255.95" y="336" width="1.3" height="13" fill="#242424"/><rect x="269.65" y="336" width="1.4" height="13" fill="#242424"/><rect x="283.65" y="336" width="1.3" height="13" fill="#242424"/><rect x="243.25" y="336" width="12.3" height="13" fill="#949494"/><rect x="257.65" y="336" width="11.6" height="13" fill="#989898"/><rect x="271.45" y="336" width="11.8" height="13" fill="#9d9d9d"/><rect x="285.35" y="336" width="11.7" height="13" fill="#949494"/><rect x="242.25" y="349" width="55.8" height="6" fill="#5b5b5b"/><rect x="255.95" y="349" width="1.3" height="6" fill="#242424"/><rect x="269.65" y="349" width="1.4" height="6" fill="#242424"/><rect x="283.65" y="349" width="1.3" height="6" fill="#242424"/><rect x="243.25" y="349" width="12.3" height="6" fill="#989898"/><rect x="257.65" y="349" width="11.6" height="6" fill="#9d9d9d"/><rect x="271.45" y="349" width="11.8" height="6" fill="#9d9d9d"/><rect x="285.35" y="349" width="11.7" height="6" fill="#949494"/><rect x="242.25" y="355" width="55.8" height="13" fill="#5b5b5b"/><rect x="255.95" y="355" width="1.3" height="13" fill="#242424"/><rect x="269.65" y="355" width="1.4" height="13" fill="#242424"/><rect x="283.65" y="355" width="1.3" height="13" fill="#242424"/><rect x="243.25" y="355" width="12.3" height="13" fill="#adadad"/><rect x="257.65" y="355" width="11.6" height="13" fill="#aaaaaa"/><rect x="271.45" y="355" width="11.8" height="13" fill="#a1a1a1"/><rect x="285.35" y="355" width="11.7" height="13" fill="#949494"/><rect x="242.25" y="368" width="55.8" height="4" fill="#5b5b5b"/><rect x="255.95" y="368" width="1.3" height="4" fill="#242424"/><rect x="269.65" y="368" width="1.4" height="4" fill="#242424"/><rect x="283.65" y="368" width="1.3" height="4" fill="#242424"/><rect x="243.25" y="368" width="12.3" height="4" fill="#989898"/><rect x="257.65" y="368" width="11.6" height="4" fill="#989898"/><rect x="271.45" y="368" width="11.8" height="4" fill="#9d9d9d"/><rect x="285.35" y="368" width="11.7" height="4" fill="#8f8f8f"/><rect x="242.25" y="372" width="55.8" height="14" fill="#5b5b5b"/><rect x="255.95" y="372" width="1.3" height="14" fill="#242424"/><rect x="269.65" y="372" width="1.4" height="14" fill="#242424"/><rect x="283.65" y="372" width="1.3" height="14" fill="#242424"/><rect x="243.25" y="372" width="12.3" height="14" fill="#a1a1a1"/><rect x="257.65" y="372" width="11.6" height="14" fill="#adadad"/><rect x="271.45" y="372" width="11.8" height="14" fill="#a1a1a1"/><rect x="285.35" y="372" width="11.7" height="14" fill="#8f8f8f"/><rect x="242.25" y="386" width="55.8" height="17" fill="#5b5b5b"/><rect x="255.95" y="386" width="1.3" height="17" fill="#242424"/><rect x="269.65" y="386" width="1.4" height="17" fill="#242424"/><rect x="283.65" y="386" width="1.3" height="17" fill="#242424"/><rect x="243.25" y="386" width="12.3" height="17" fill="#9d9d9d"/><rect x="257.65" y="386" width="11.6" height="17" fill="#a1a1a1"/><rect x="271.45" y="386" width="11.8" height="17" fill="#a1a1a1"/><rect x="285.35" y="386" width="11.7" height="17" fill="#949494"/><rect x="242.25" y="403" width="55.8" height="7" fill="#5b5b5b"/><rect x="255.95" y="403" width="1.3" height="7" fill="#404040"/><rect x="269.65" y="403" width="1.4" height="7" fill="#404040"/><rect x="283.65" y="403" width="1.3" height="7" fill="#404040"/><rect x="243.25" y="403" width="12.3" height="7" fill="#c6c6c6"/><rect x="257.65" y="403" width="11.6" height="7" fill="#c6c6c6"/><rect x="271.45" y="403" width="11.8" height="7" fill="#c1c1c1"/><rect x="285.35" y="403" width="11.7" height="7" fill="#b8b8b8"/><rect x="242.25" y="410" width="55.8" height="9" fill="#898989"/><rect x="255.95" y="410" width="1.3" height="9" fill="#585858"/><rect x="269.65" y="410" width="1.4" height="9" fill="#585858"/><rect x="283.65" y="410" width="1.3" height="9" fill="#585858"/><rect x="243.25" y="410" width="12.3" height="9" fill="#e1e1e1"/><rect x="257.65" y="410" width="11.6" height="9" fill="#dcdcdc"/><rect x="271.45" y="410" width="11.8" height="9" fill="#d8d8d8"/><rect x="285.35" y="410" width="11.7" height="9" fill="#cfcfcf"/><rect x="242.25" y="419" width="55.8" height="4" fill="#5b5b5b"/><rect x="255.95" y="419" width="1.3" height="4" fill="#454545"/><rect x="269.65" y="419" width="1.4" height="4" fill="#454545"/><rect x="283.65" y="419" width="1.3" height="4" fill="#454545"/><rect x="243.25" y="419" width="12.3" height="4" fill="#cacaca"/><rect x="257.65" y="419" width="11.6" height="4" fill="#cacaca"/><rect x="271.45" y="419" width="11.8" height="4" fill="#c6c6c6"/><rect x="285.35" y="419" width="11.7" height="4" fill="#c1c1c1"/><rect x="242.25" y="423" width="55.8" height="20" fill="#bfbfbf"/><rect x="255.95" y="423" width="1.3" height="20" fill="#dbdbdb"/><rect x="269.65" y="423" width="1.4" height="20" fill="#dbdbdb"/><rect x="283.65" y="423" width="1.3" height="20" fill="#dbdbdb"/><rect x="243.25" y="423" width="12.3" height="20" fill="#fafafa"/><rect x="257.65" y="423" width="11.6" height="20" fill="#fafafa"/><rect x="271.45" y="423" width="11.8" height="20" fill="#fafafa"/><rect x="285.35" y="423" width="11.7" height="20" fill="#fafafa"/><rect x="242.25" y="443" width="55.8" height="7" fill="#5b5b5b"/><rect x="255.95" y="443" width="1.3" height="7" fill="#515151"/><rect x="269.65" y="443" width="1.4" height="7" fill="#515151"/><rect x="283.65" y="443" width="1.3" height="7" fill="#515151"/><rect x="243.25" y="443" width="12.3" height="7" fill="#d3d3d3"/><rect x="257.65" y="443" width="11.6" height="7" fill="#d3d3d3"/><rect x="271.45" y="443" width="11.8" height="7" fill="#d3d3d3"/><rect x="285.35" y="443" width="11.7" height="7" fill="#cfcfcf"/><rect x="242.25" y="450" width="55.8" height="5" fill="#898989"/><rect x="255.95" y="450" width="1.3" height="5" fill="#5c5c5c"/><rect x="269.65" y="450" width="1.4" height="5" fill="#5c5c5c"/><rect x="283.65" y="450" width="1.3" height="5" fill="#5c5c5c"/><rect x="243.25" y="450" width="12.3" height="5" fill="#e1e1e1"/><rect x="257.65" y="450" width="11.6" height="5" fill="#e1e1e1"/><rect x="271.45" y="450" width="11.8" height="5" fill="#dcdcdc"/><rect x="285.35" y="450" width="11.7" height="5" fill="#d8d8d8"/><rect x="242.25" y="455" width="55.8" height="24" fill="#5b5b5b"/><rect x="255.95" y="455" width="1.3" height="24" fill="#373737"/><rect x="269.65" y="455" width="1.4" height="24" fill="#373737"/><rect x="283.65" y="455" width="1.3" height="24" fill="#373737"/><rect x="243.25" y="455" width="12.3" height="24" fill="#bdbdbd"/><rect x="257.65" y="455" width="11.6" height="24" fill="#bdbdbd"/><rect x="271.45" y="455" width="11.8" height="24" fill="#b8b8b8"/><rect x="285.35" y="455" width="11.7" height="24" fill="#b1b1b1"/><rect x="242.25" y="479" width="55.8" height="14" fill="#5b5b5b"/><rect x="255.95" y="479" width="1.3" height="14" fill="#292929"/><rect x="269.65" y="479" width="1.4" height="14" fill="#292929"/><rect x="283.65" y="479" width="1.3" height="14" fill="#292929"/><rect x="243.25" y="479" width="12.3" height="14" fill="#afafaf"/><rect x="257.65" y="479" width="11.6" height="14" fill="#afafaf"/><rect x="271.45" y="479" width="11.8" height="14" fill="#a6a6a6"/><rect x="285.35" y="479" width="11.7" height="14" fill="#a6a6a6"/><rect x="242.25" y="493" width="55.8" height="10" fill="#5b5b5b"/><rect x="255.95" y="493" width="1.3" height="10" fill="#303030"/><rect x="269.65" y="493" width="1.4" height="10" fill="#303030"/><rect x="283.65" y="493" width="1.3" height="10" fill="#303030"/><rect x="243.25" y="493" width="12.3" height="10" fill="#bdbdbd"/><rect x="257.65" y="493" width="11.6" height="10" fill="#b8b8b8"/><rect x="271.45" y="493" width="11.8" height="10" fill="#aaaaaa"/><rect x="285.35" y="493" width="11.7" height="10" fill="#a6a6a6"/><rect x="242.25" y="503" width="55.8" height="15" fill="#5b5b5b"/><rect x="255.95" y="503" width="1.3" height="15" fill="#242424"/><rect x="269.65" y="503" width="1.4" height="15" fill="#242424"/><rect x="283.65" y="503" width="1.3" height="15" fill="#242424"/><rect x="243.25" y="503" width="12.3" height="15" fill="#aaaaaa"/><rect x="257.65" y="503" width="11.6" height="15" fill="#aaaaaa"/><rect x="271.45" y="503" width="11.8" height="15" fill="#a1a1a1"/><rect x="285.35" y="503" width="11.7" height="15" fill="#a1a1a1"/><rect x="242.25" y="518" width="55.8" height="5" fill="#5b5b5b"/><rect x="255.95" y="518" width="1.3" height="5" fill="#242424"/><rect x="269.65" y="518" width="1.4" height="5" fill="#242424"/><rect x="283.65" y="518" width="1.3" height="5" fill="#242424"/><rect x="243.25" y="518" width="12.3" height="5" fill="#9d9d9d"/><rect x="257.65" y="518" width="11.6" height="5" fill="#9d9d9d"/><rect x="271.45" y="518" width="11.8" height="5" fill="#9d9d9d"/><rect x="285.35" y="518" width="11.7" height="5" fill="#9d9d9d"/><rect x="242.25" y="523" width="55.8" height="14" fill="#5b5b5b"/><rect x="255.95" y="523" width="1.3" height="14" fill="#242424"/><rect x="269.65" y="523" width="1.4" height="14" fill="#242424"/><rect x="283.65" y="523" width="1.3" height="14" fill="#242424"/><rect x="243.25" y="523" width="12.3" height="14" fill="#a1a1a1"/><rect x="257.65" y="523" width="11.6" height="14" fill="#a1a1a1"/><rect x="271.45" y="523" width="11.8" height="14" fill="#9d9d9d"/><rect x="285.35" y="523" width="11.7" height="14" fill="#989898"/><rect x="242.25" y="537" width="55.8" height="8" fill="#5b5b5b"/><rect x="255.95" y="537" width="1.3" height="8" fill="#242424"/><rect x="269.65" y="537" width="1.4" height="8" fill="#242424"/><rect x="283.65" y="537" width="1.3" height="8" fill="#242424"/><rect x="243.25" y="537" width="12.3" height="8" fill="#a1a1a1"/><rect x="257.65" y="537" width="11.6" height="8" fill="#a1a1a1"/><rect x="271.45" y="537" width="11.8" height="8" fill="#a1a1a1"/><rect x="285.35" y="537" width="11.7" height="8" fill="#9d9d9d"/><rect x="242.25" y="545" width="55.8" height="11" fill="#5b5b5b"/><rect x="255.95" y="545" width="1.3" height="11" fill="#262626"/><rect x="269.65" y="545" width="1.4" height="11" fill="#262626"/><rect x="283.65" y="545" width="1.3" height="11" fill="#262626"/><rect x="243.25" y="545" width="12.3" height="11" fill="#aaaaaa"/><rect x="257.65" y="545" width="11.6" height="11" fill="#aaaaaa"/><rect x="271.45" y="545" width="11.8" height="11" fill="#a6a6a6"/><rect x="285.35" y="545" width="11.7" height="11" fill="#a1a1a1"/><rect x="242.25" y="556" width="55.8" height="4" fill="#5b5b5b"/><rect x="255.95" y="556" width="1.3" height="4" fill="#4a4a4a"/><rect x="269.65" y="556" width="1.4" height="4" fill="#4a4a4a"/><rect x="283.65" y="556" width="1.3" height="4" fill="#4a4a4a"/><rect x="243.25" y="556" width="12.3" height="4" fill="#cfcfcf"/><rect x="257.65" y="556" width="11.6" height="4" fill="#cfcfcf"/><rect x="271.45" y="556" width="11.8" height="4" fill="#cacaca"/><rect x="285.35" y="556" width="11.7" height="4" fill="#c6c6c6"/><rect x="242.25" y="560" width="55.8" height="5" fill="#5b5b5b"/><rect x="255.95" y="560" width="1.3" height="5" fill="#4f4f4f"/><rect x="269.65" y="560" width="1.4" height="5" fill="#4f4f4f"/><rect x="283.65" y="560" width="1.3" height="5" fill="#4f4f4f"/><rect x="243.25" y="560" width="12.3" height="5" fill="#d3d3d3"/><rect x="257.65" y="560" width="11.6" height="5" fill="#d3d3d3"/><rect x="271.45" y="560" width="11.8" height="5" fill="#cfcfcf"/><rect x="285.35" y="560" width="11.7" height="5" fill="#cacaca"/><rect x="242.25" y="565" width="55.8" height="6" fill="#bfbfbf"/><rect x="255.95" y="565" width="1.3" height="6" fill="#dbdbdb"/><rect x="269.65" y="565" width="1.4" height="6" fill="#dbdbdb"/><rect x="283.65" y="565" width="1.3" height="6" fill="#dbdbdb"/><rect x="243.25" y="565" width="12.3" height="6" fill="#f1f1f1"/><rect x="257.65" y="565" width="11.6" height="6" fill="#f1f1f1"/><rect x="271.45" y="565" width="11.8" height="6" fill="#f1f1f1"/><rect x="285.35" y="565" width="11.7" height="6" fill="#ededed"/><rect x="242.25" y="571" width="55.8" height="5" fill="#5b5b5b"/><rect x="255.95" y="571" width="1.3" height="5" fill="#4a4a4a"/><rect x="269.65" y="571" width="1.4" height="5" fill="#4a4a4a"/><rect x="283.65" y="571" width="1.3" height="5" fill="#4a4a4a"/><rect x="243.25" y="571" width="12.3" height="5" fill="#cfcfcf"/><rect x="257.65" y="571" width="11.6" height="5" fill="#cfcfcf"/><rect x="271.45" y="571" width="11.8" height="5" fill="#cacaca"/><rect x="285.35" y="571" width="11.7" height="5" fill="#c6c6c6"/><rect x="242.25" y="576" width="55.8" height="13" fill="#5b5b5b"/><rect x="255.95" y="576" width="1.3" height="13" fill="#444444"/><rect x="269.65" y="576" width="1.4" height="13" fill="#444444"/><rect x="283.65" y="576" width="1.3" height="13" fill="#444444"/><rect x="243.25" y="576" width="12.3" height="13" fill="#cacaca"/><rect x="257.65" y="576" width="11.6" height="13" fill="#cacaca"/><rect x="271.45" y="576" width="11.8" height="13" fill="#c6c6c6"/><rect x="285.35" y="576" width="11.7" height="13" fill="#bdbdbd"/><rect x="242.25" y="589" width="55.8" height="22" fill="#5b5b5b"/><rect x="255.95" y="589" width="1.3" height="22" fill="#363636"/><rect x="269.65" y="589" width="1.4" height="22" fill="#363636"/><rect x="283.65" y="589" width="1.3" height="22" fill="#363636"/><rect x="243.25" y="589" width="12.3" height="22" fill="#b6b6b6"/><rect x="257.65" y="589" width="11.6" height="22" fill="#b8b8b8"/><rect x="271.45" y="589" width="11.8" height="22" fill="#bababa"/><rect x="285.35" y="589" width="11.7" height="22" fill="#b3b3b3"/><rect x="242.25" y="611" width="55.8" height="6" fill="#5b5b5b"/><rect x="255.95" y="611" width="1.3" height="6" fill="#2d2d2d"/><rect x="269.65" y="611" width="1.4" height="6" fill="#2d2d2d"/><rect x="283.65" y="611" width="1.3" height="6" fill="#2d2d2d"/><rect x="243.25" y="611" width="12.3" height="6" fill="#afafaf"/><rect x="257.65" y="611" width="11.6" height="6" fill="#afafaf"/><rect x="271.45" y="611" width="11.8" height="6" fill="#afafaf"/><rect x="285.35" y="611" width="11.7" height="6" fill="#adadad"/><rect x="242.25" y="617" width="55.8" height="9" fill="#5b5b5b"/><rect x="255.95" y="617" width="1.3" height="9" fill="#313131"/><rect x="269.65" y="617" width="1.4" height="9" fill="#313131"/><rect x="283.65" y="617" width="1.3" height="9" fill="#313131"/><rect x="243.25" y="617" width="12.3" height="9" fill="#bfbfbf"/><rect x="257.65" y="617" width="11.6" height="9" fill="#afafaf"/><rect x="271.45" y="617" width="11.8" height="9" fill="#afafaf"/><rect x="285.35" y="617" width="11.7" height="9" fill="#adadad"/><rect x="242.25" y="626" width="55.8" height="8" fill="#5b5b5b"/><rect x="255.95" y="626" width="1.3" height="8" fill="#323232"/><rect x="269.65" y="626" width="1.4" height="8" fill="#323232"/><rect x="283.65" y="626" width="1.3" height="8" fill="#323232"/><rect x="243.25" y="626" width="12.3" height="8" fill="#bdbdbd"/><rect x="257.65" y="626" width="11.6" height="8" fill="#afafaf"/><rect x="271.45" y="626" width="11.8" height="8" fill="#afafaf"/><rect x="285.35" y="626" width="11.7" height="8" fill="#b3b3b3"/><rect x="242.25" y="634" width="55.8" height="14" fill="#5b5b5b"/><rect x="255.95" y="634" width="1.3" height="14" fill="#2a2a2a"/><rect x="269.65" y="634" width="1.4" height="14" fill="#2a2a2a"/><rect x="283.65" y="634" width="1.3" height="14" fill="#2a2a2a"/><rect x="243.25" y="634" width="12.3" height="14" fill="#afafaf"/><rect x="257.65" y="634" width="11.6" height="14" fill="#aaaaaa"/><rect x="271.45" y="634" width="11.8" height="14" fill="#aaaaaa"/><rect x="285.35" y="634" width="11.7" height="14" fill="#aaaaaa"/><rect x="242.25" y="648" width="55.8" height="17" fill="#5b5b5b"/><rect x="255.95" y="648" width="1.3" height="17" fill="#242424"/><rect x="269.65" y="648" width="1.4" height="17" fill="#242424"/><rect x="283.65" y="648" width="1.3" height="17" fill="#242424"/><rect x="243.25" y="648" width="12.3" height="17" fill="#a6a6a6"/><rect x="257.65" y="648" width="11.6" height="17" fill="#949494"/><rect x="271.45" y="648" width="11.8" height="17" fill="#9d9d9d"/><rect x="285.35" y="648" width="11.7" height="17" fill="#a8a8a8"/><rect x="242.25" y="665" width="55.8" height="9" fill="#5b5b5b"/><rect x="255.95" y="665" width="1.3" height="9" fill="#242424"/><rect x="269.65" y="665" width="1.4" height="9" fill="#242424"/><rect x="283.65" y="665" width="1.3" height="9" fill="#242424"/><rect x="243.25" y="665" width="12.3" height="9" fill="#aaaaaa"/><rect x="257.65" y="665" width="11.6" height="9" fill="#8f8f8f"/><rect x="271.45" y="665" width="11.8" height="9" fill="#a1a1a1"/><rect x="285.35" y="665" width="11.7" height="9" fill="#a6a6a6"/><rect x="242.25" y="674" width="55.8" height="17" fill="#5b5b5b"/><rect x="255.95" y="674" width="1.3" height="17" fill="#242424"/><rect x="269.65" y="674" width="1.4" height="17" fill="#242424"/><rect x="283.65" y="674" width="1.3" height="17" fill="#242424"/><rect x="243.25" y="674" width="12.3" height="17" fill="#a8a8a8"/><rect x="257.65" y="674" width="11.6" height="17" fill="#8f8f8f"/><rect x="271.45" y="674" width="11.8" height="17" fill="#a1a1a1"/><rect x="285.35" y="674" width="11.7" height="17" fill="#a6a6a6"/><rect x="242.25" y="691" width="55.8" height="17" fill="#5b5b5b"/><rect x="255.95" y="691" width="1.3" height="17" fill="#242424"/><rect x="269.65" y="691" width="1.4" height="17" fill="#242424"/><rect x="283.65" y="691" width="1.3" height="17" fill="#242424"/><rect x="243.25" y="691" width="12.3" height="17" fill="#a1a1a1"/><rect x="257.65" y="691" width="11.6" height="17" fill="#8f8f8f"/><rect x="271.45" y="691" width="11.8" height="17" fill="#9d9d9d"/><rect x="285.35" y="691" width="11.7" height="17" fill="#9a9a9a"/><rect x="242.25" y="708" width="55.8" height="32" fill="#5b5b5b"/><rect x="255.95" y="708" width="1.3" height="32" fill="#323232"/><rect x="269.65" y="708" width="1.4" height="32" fill="#323232"/><rect x="283.65" y="708" width="1.3" height="32" fill="#323232"/><rect x="243.25" y="708" width="12.3" height="32" fill="#cacaca"/><rect x="257.65" y="708" width="11.6" height="32" fill="#b8b8b8"/><rect x="271.45" y="708" width="11.8" height="32" fill="#aaaaaa"/><rect x="285.35" y="708" width="11.7" height="32" fill="#a1a1a1"/></g>
<rect x="131.25" y="108" width="111.2" height="3" fill="#3b3b3b"/><rect x="297.85" y="108" width="10.3" height="3" fill="#3b3b3b"/><rect x="131.25" y="168" width="111.2" height="8" fill="#303030"/><rect x="297.85" y="168" width="10.3" height="8" fill="#303030"/><rect x="131.25" y="276" width="111.2" height="8" fill="#343434"/><rect x="297.85" y="276" width="10.3" height="8" fill="#343434"/><rect x="131.25" y="326" width="111.2" height="5" fill="#404040"/><rect x="297.85" y="326" width="10.3" height="5" fill="#404040"/><rect x="131.25" y="336" width="111.2" height="3" fill="#444444"/><rect x="297.85" y="336" width="10.3" height="3" fill="#444444"/><rect x="131.25" y="509" width="111.2" height="3" fill="#373737"/><rect x="297.85" y="509" width="10.3" height="3" fill="#373737"/><rect x="131.25" y="518" width="111.2" height="3" fill="#444444"/><rect x="297.85" y="518" width="10.3" height="3" fill="#444444"/><rect x="131.25" y="643" width="111.2" height="2" fill="#474747"/><rect x="297.85" y="643" width="10.3" height="2" fill="#474747"/><rect x="131.25" y="152" width="111.2" height="1" fill="#404040"/><rect x="297.85" y="152" width="10.3" height="1" fill="#404040"/><rect x="131.25" y="536" width="111.2" height="12" fill="#323232"/><rect x="297.85" y="536" width="10.3" height="12" fill="#323232"/><rect x="131.25" y="423" width="111.6" height="1" fill="#bbbbbb"/><rect x="297.45" y="423" width="10.7" height="1" fill="#b2b2b2"/><rect x="131.25" y="424" width="111.6" height="1" fill="#696969"/><rect x="297.45" y="424" width="10.7" height="1" fill="#606060"/><rect x="131.25" y="425" width="111.6" height="4" fill="#ababab"/><rect x="297.45" y="425" width="10.7" height="4" fill="#a2a2a2"/><rect x="131.25" y="429" width="111.6" height="1" fill="#404040"/><rect x="297.45" y="429" width="10.7" height="1" fill="#373737"/><rect x="131.25" y="430" width="111.6" height="2" fill="#c4c4c4"/><rect x="297.45" y="430" width="10.7" height="2" fill="#bbbbbb"/><rect x="131.25" y="432" width="111.6" height="4" fill="#d6d6d6"/><rect x="297.45" y="432" width="10.7" height="4" fill="#cdcdcd"/><rect x="131.25" y="436" width="111.6" height="1" fill="#b6b6b6"/><rect x="297.45" y="436" width="10.7" height="1" fill="#adadad"/><rect x="131.25" y="437" width="111.6" height="3" fill="#969696"/><rect x="297.45" y="437" width="10.7" height="3" fill="#8d8d8d"/><rect x="131.25" y="440" width="111.6" height="3" fill="#adadad"/><rect x="297.45" y="440" width="10.7" height="3" fill="#a4a4a4"/><rect x="131.25" y="566" width="111.6" height="1" fill="#c4c4c4"/><rect x="297.45" y="566" width="10.7" height="1" fill="#bbbbbb"/><rect x="131.25" y="567" width="111.6" height="3" fill="#d8d8d8"/><rect x="297.45" y="567" width="10.7" height="3" fill="#cfcfcf"/><rect x="131.25" y="576" width="111.6" height="1" fill="#b6b6b6"/><rect x="297.45" y="576" width="10.7" height="1" fill="#adadad"/><rect x="131.25" y="577" width="111.6" height="1" fill="#7f7f7f"/><rect x="297.45" y="577" width="10.7" height="1" fill="#767676"/><rect x="131.25" y="399" width="111.6" height="1" fill="#a8a8a8"/><rect x="297.45" y="399" width="10.7" height="1" fill="#9f9f9f"/><rect x="131.25" y="146" width="111.6" height="1" fill="#9b9b9b"/><rect x="297.45" y="146" width="10.7" height="1" fill="#929292"/><rect x="131.25" y="560" width="111.6" height="1" fill="#898989"/><rect x="297.45" y="560" width="10.7" height="1" fill="#7f7f7f"/>
</g>
<path d="M132 101h176v7h-176zM132 162h176v1h-176zM132 203h176v1h-176zM132 218h176v1h-176zM132 245h176v2h-176zM132 252h176v1h-176zM132 260h176v1h-176zM132 266h176v1h-176zM132 280h176v1h-176zM132 286h176v1h-176zM132 289h176v1h-176zM132 305h176v1h-176zM132 310h176v1h-176zM132 331h176v5h-176zM132 348h176v1h-176zM132 371h176v1h-176zM132 384h176v1h-176zM132 402h176v1h-176zM132 445h176v1h-176zM132 449h176v1h-176zM132 478h176v1h-176zM132 489h176v1h-176zM132 492h176v1h-176zM132 512h176v6h-176zM132 521h176v2h-176zM132 531h176v5h-176zM132 544h176v1h-176zM132 575h176v1h-176zM132 625h176v1h-176zM132 631h176v1h-176zM132 648h176v1h-176zM132 664h176v1h-176zM132 673h176v1h-176zM132 708h176v7h-176zM132 717h176v1h-176z" fill="#fff"/>
<path d="M132 111h176v1h-176zM132 133h176v1h-176zM132 156h176v1h-176zM132 176h176v1h-176zM132 192h176v1h-176zM132 200h176v1h-176zM132 208h176v1h-176zM132 216h176v1h-176zM132 224h176v1h-176zM132 232h176v1h-176zM132 240h176v1h-176zM132 248h176v2h-176zM132 275h176v1h-176zM132 284h176v2h-176zM132 291h176v2h-176zM132 299h176v1h-176zM132 307h176v2h-176zM132 315h176v1h-176zM132 321h176v2h-176zM132 324h176v2h-176zM132 339h176v1h-176zM132 395h176v1h-176zM132 397h176v1h-176zM132 400h176v1h-176zM132 508h176v1h-176zM132 536h176v1h-176zM132 538h176v1h-176zM132 543h176v1h-176zM132 548h176v1h-176zM132 552h176v1h-176zM132 554h176v1h-176zM132 565h176v1h-176zM132 570h176v1h-176zM132 589h176v1h-176zM132 611h176v1h-176zM132 633h176v1h-176zM132 637h176v1h-176zM132 642h176v1h-176zM132 645h176v3h-176zM132 690h176v1h-176z" fill="#000"/>
<path d="M131.5 720V80.5H308.5V720M131 720H309" fill="none" stroke="#000" stroke-width="1"/><path d="M131 720H309" fill="none" stroke="#000" stroke-width="1.3"/>
<path d="M131.5 720v-5.56M131.5 80.5v5.56M172.5 720v-5.56M172.5 80.5v5.56M214.5 720v-5.56M214.5 80.5v5.56M255.5 720v-5.56M255.5 80.5v5.56M297.5 720v-5.56M297.5 80.5v5.56M131.5 720.5h5.56M308.5 720.5h-5.56M131.5 586.5h5.56M308.5 586.5h-5.56M131.5 453.5h5.56M308.5 453.5h-5.56M131.5 320.5h5.56M308.5 320.5h-5.56M131.5 186.5h5.56M308.5 186.5h-5.56" stroke="#000" stroke-width="0.8" fill="none"/>
<text x="131.25" y="735.6" font-size="11.6" text-anchor="middle">320</text><text x="172.71" y="735.6" font-size="11.6" text-anchor="middle">335</text><text x="214.17" y="735.6" font-size="11.6" text-anchor="middle">350</text><text x="255.63" y="735.6" font-size="11.6" text-anchor="middle">365</text><text x="297.09" y="735.6" font-size="11.6" text-anchor="middle">380</text><text x="126.05" y="723.3" font-size="11.6" text-anchor="end">0</text><text x="126.05" y="589.97" font-size="11.6" text-anchor="end">5</text><text x="126.05" y="456.63" font-size="11.6" text-anchor="end">10</text><text x="126.05" y="323.3" font-size="11.6" text-anchor="end">15</text><text x="126.05" y="189.97" font-size="11.6" text-anchor="end">20</text>
<text x="219.7" y="73" font-size="16.67" font-family="DejaVu Sans Condensed,DejaVu Sans,sans-serif" font-stretch="condensed" text-anchor="middle">XX, V0*V12=EA17*EA10</text>
<g filter="url(#jet1)">
<g filter="url(#bs)"><rect x="331.53" y="60" width="200.9" height="680" fill="#282828"/><rect x="343.53" y="80" width="112" height="21" fill="#2c2c2c"/><rect x="401.53" y="349" width="34" height="13" fill="#434343"/><rect x="353.53" y="340" width="40" height="60" fill="#2c2c2c"/><rect x="398.53" y="404" width="40" height="19" fill="#333333"/><rect x="383.53" y="523" width="50" height="8" fill="#383838"/><rect x="398.53" y="480" width="25" height="20" fill="#333333"/><rect x="429.53" y="120" width="10" height="15" fill="#363636"/><rect x="439.53" y="120" width="17" height="15" fill="#444444"/><rect x="508.53" y="120" width="6" height="15" fill="#363636"/><rect x="429.53" y="246" width="10" height="30" fill="#2f2f2f"/><rect x="439.53" y="246" width="17" height="30" fill="#373737"/><rect x="508.53" y="246" width="6" height="30" fill="#2f2f2f"/><rect x="429.53" y="309" width="10" height="7" fill="#3b3b3b"/><rect x="439.53" y="309" width="17" height="7" fill="#4d4d4d"/><rect x="508.53" y="309" width="6" height="7" fill="#3b3b3b"/><rect x="429.53" y="403" width="10" height="20" fill="#414141"/><rect x="439.53" y="403" width="17" height="20" fill="#5b5b5b"/><rect x="508.53" y="403" width="6" height="20" fill="#414141"/><rect x="429.53" y="443" width="10" height="17" fill="#414141"/><rect x="439.53" y="443" width="17" height="17" fill="#5b5b5b"/><rect x="508.53" y="443" width="6" height="17" fill="#414141"/><rect x="429.53" y="545" width="10" height="20" fill="#383838"/><rect x="439.53" y="545" width="17" height="20" fill="#494949"/><rect x="508.53" y="545" width="6" height="20" fill="#383838"/><rect x="429.53" y="571" width="10" height="29" fill="#363636"/><rect x="439.53" y="571" width="17" height="29" fill="#444444"/><rect x="508.53" y="571" width="6" height="29" fill="#363636"/></g>
<g filter="url(#bm)"><rect x="454.53" y="60" width="55.8" height="48" fill="#5b5b5b"/><rect x="468.23" y="60" width="1.3" height="48" fill="#242424"/><rect x="481.93" y="60" width="1.4" height="48" fill="#242424"/><rect x="495.93" y="60" width="1.3" height="48" fill="#242424"/><rect x="455.53" y="60" width="12.3" height="48" fill="#9c9c9c"/><rect x="469.93" y="60" width="11.6" height="48" fill="#9c9c9c"/><rect x="483.73" y="60" width="11.8" height="48" fill="#939393"/><rect x="497.63" y="60" width="11.7" height="48" fill="#979797"/><rect x="454.53" y="108" width="55.8" height="3" fill="#5b5b5b"/><rect x="468.23" y="108" width="1.3" height="3" fill="#242424"/><rect x="481.93" y="108" width="1.4" height="3" fill="#242424"/><rect x="495.93" y="108" width="1.3" height="3" fill="#242424"/><rect x="455.53" y="108" width="12.3" height="3" fill="#a0a0a0"/><rect x="469.93" y="108" width="11.6" height="3" fill="#a0a0a0"/><rect x="483.73" y="108" width="11.8" height="3" fill="#9c9c9c"/><rect x="497.63" y="108" width="11.7" height="3" fill="#979797"/><rect x="454.53" y="111" width="55.8" height="9" fill="#5b5b5b"/><rect x="468.23" y="111" width="1.3" height="9" fill="#242424"/><rect x="481.93" y="111" width="1.4" height="9" fill="#242424"/><rect x="495.93" y="111" width="1.3" height="9" fill="#242424"/><rect x="455.53" y="111" width="12.3" height="9" fill="#979797"/><rect x="469.93" y="111" width="11.6" height="9" fill="#a0a0a0"/><rect x="483.73" y="111" width="11.8" height="9" fill="#a0a0a0"/><rect x="497.63" y="111" width="11.7" height="9" fill="#979797"/><rect x="454.53" y="120" width="55.8" height="13" fill="#5b5b5b"/><rect x="468.23" y="120" width="1.3" height="13" fill="#242424"/><rect x="481.93" y="120" width="1.4" height="13" fill="#242424"/><rect x="495.93" y="120" width="1.3" height="13" fill="#242424"/><rect x="455.53" y="120" width="12.3" height="13" fill="#a9a9a9"/><rect x="469.93" y="120" width="11.6" height="13" fill="#9c9c9c"/><rect x="483.73" y="120" width="11.8" height="13" fill="#9c9c9c"/><rect x="497.63" y="120" width="11.7" height="13" fill="#979797"/><rect x="454.53" y="133" width="55.8" height="12" fill="#5b5b5b"/><rect x="468.23" y="133" width="1.3" height="12" fill="#242424"/><rect x="481.93" y="133" width="1.4" height="12" fill="#242424"/><rect x="495.93" y="133" width="1.3" height="12" fill="#242424"/><rect x="455.53" y="133" width="12.3" height="12" fill="#979797"/><rect x="469.93" y="133" width="11.6" height="12" fill="#9c9c9c"/><rect x="483.73" y="133" width="11.8" height="12" fill="#9c9c9c"/><rect x="497.63" y="133" width="11.7" height="12" fill="#8e8e8e"/><rect x="454.53" y="145" width="55.8" height="11" fill="#5b5b5b"/><rect x="468.23" y="145" width="1.3" height="11" fill="#242424"/><rect x="481.93" y="145" width="1.4" height="11" fill="#242424"/><rect x="495.93" y="145" width="1.3" height="11" fill="#242424"/><rect x="455.53" y="145" width="12.3" height="11" fill="#979797"/><rect x="469.93" y="145" width="11.6" height="11" fill="#9c9c9c"/><rect x="483.73" y="145" width="11.8" height="11" fill="#a0a0a0"/><rect x="497.63" y="145" width="11.7" height="11" fill="#a9a9a9"/><rect x="454.53" y="156" width="55.8" height="6" fill="#5b5b5b"/><rect x="468.23" y="156" width="1.3" height="6" fill="#242424"/><rect x="481.93" y="156" width="1.4" height="6" fill="#242424"/><rect x="495.93" y="156" width="1.3" height="6" fill="#242424"/><rect x="455.53" y="156" width="12.3" height="6" fill="#a0a0a0"/><rect x="469.93" y="156" width="11.6" height="6" fill="#a5a5a5"/><rect x="483.73" y="156" width="11.8" height="6" fill="#a0a0a0"/><rect x="497.63" y="156" width="11.7" height="6" fill="#9c9c9c"/><rect x="454.53" y="162" width="55.8" height="14" fill="#5b5b5b"/><rect x="468.23" y="162" width="1.3" height="14" fill="#2b2b2b"/><rect x="481.93" y="162" width="1.4" height="14" fill="#2b2b2b"/><rect x="495.93" y="162" width="1.3" height="14" fill="#2b2b2b"/><rect x="455.53" y="162" width="12.3" height="14" fill="#a9a9a9"/><rect x="469.93" y="162" width="11.6" height="14" fill="#aeaeae"/><rect x="483.73" y="162" width="11.8" height="14" fill="#b0b0b0"/><rect x="497.63" y="162" width="11.7" height="14" fill="#a5a5a5"/><rect x="454.53" y="176" width="55.8" height="16" fill="#5b5b5b"/><rect x="468.23" y="176" width="1.3" height="16" fill="#242424"/><rect x="481.93" y="176" width="1.4" height="16" fill="#242424"/><rect x="495.93" y="176" width="1.3" height="16" fill="#242424"/><rect x="455.53" y="176" width="12.3" height="16" fill="#a5a5a5"/><rect x="469.93" y="176" width="11.6" height="16" fill="#a9a9a9"/><rect x="483.73" y="176" width="11.8" height="16" fill="#a9a9a9"/><rect x="497.63" y="176" width="11.7" height="16" fill="#9c9c9c"/><rect x="454.53" y="192" width="55.8" height="8" fill="#5b5b5b"/><rect x="468.23" y="192" width="1.3" height="8" fill="#242424"/><rect x="481.93" y="192" width="1.4" height="8" fill="#242424"/><rect x="495.93" y="192" width="1.3" height="8" fill="#242424"/><rect x="455.53" y="192" width="12.3" height="8" fill="#9c9c9c"/><rect x="469.93" y="192" width="11.6" height="8" fill="#9c9c9c"/><rect x="483.73" y="192" width="11.8" height="8" fill="#979797"/><rect x="497.63" y="192" width="11.7" height="8" fill="#939393"/><rect x="454.53" y="200" width="55.8" height="8" fill="#5b5b5b"/><rect x="468.23" y="200" width="1.3" height="8" fill="#242424"/><rect x="481.93" y="200" width="1.4" height="8" fill="#242424"/><rect x="495.93" y="200" width="1.3" height="8" fill="#242424"/><rect x="455.53" y="200" width="12.3" height="8" fill="#9c9c9c"/><rect x="469.93" y="200" width="11.6" height="8" fill="#979797"/><rect x="483.73" y="200" width="11.8" height="8" fill="#9c9c9c"/><rect x="497.63" y="200" width="11.7" height="8" fill="#939393"/><rect x="454.53" y="208" width="55.8" height="10" fill="#5b5b5b"/><rect x="468.23" y="208" width="1.3" height="10" fill="#242424"/><rect x="481.93" y="208" width="1.4" height="10" fill="#242424"/><rect x="495.93" y="208" width="1.3" height="10" fill="#242424"/><rect x="455.53" y="208" width="12.3" height="10" fill="#a9a9a9"/><rect x="469.93" y="208" width="11.6" height="10" fill="#a5a5a5"/><rect x="483.73" y="208" width="11.8" height="10" fill="#a0a0a0"/><rect x="497.63" y="208" width="11.7" height="10" fill="#979797"/><rect x="454.53" y="218" width="55.8" height="6" fill="#5b5b5b"/><rect x="468.23" y="218" width="1.3" height="6" fill="#242424"/><rect x="481.93" y="218" width="1.4" height="6" fill="#242424"/><rect x="495.93" y="218" width="1.3" height="6" fill="#242424"/><rect x="455.53" y="218" width="12.3" height="6" fill="#a0a0a0"/><rect x="469.93" y="218" width="11.6" height="6" fill="#a0a0a0"/><rect x="483.73" y="218" width="11.8" height="6" fill="#9c9c9c"/><rect x="497.63" y="218" width="11.7" height="6" fill="#979797"/><rect x="454.53" y="224" width="55.8" height="8" fill="#5b5b5b"/><rect x="468.23" y="224" width="1.3" height="8" fill="#2a2a2a"/><rect x="481.93" y="224" width="1.4" height="8" fill="#2a2a2a"/><rect x="495.93" y="224" width="1.3" height="8" fill="#2a2a2a"/><rect x="455.53" y="224" width="12.3" height="8" fill="#a9a9a9"/><rect x="469.93" y="224" width="11.6" height="8" fill="#a9a9a9"/><rect x="483.73" y="224" width="11.8" height="8" fill="#acacac"/><rect x="497.63" y="224" width="11.7" height="8" fill="#a9a9a9"/><rect x="454.53" y="232" width="55.8" height="8" fill="#5b5b5b"/><rect x="468.23" y="232" width="1.3" height="8" fill="#242424"/><rect x="481.93" y="232" width="1.4" height="8" fill="#242424"/><rect x="495.93" y="232" width="1.3" height="8" fill="#242424"/><rect x="455.53" y="232" width="12.3" height="8" fill="#a5a5a5"/><rect x="469.93" y="232" width="11.6" height="8" fill="#a5a5a5"/><rect x="483.73" y="232" width="11.8" height="8" fill="#a5a5a5"/><rect x="497.63" y="232" width="11.7" height="8" fill="#a5a5a5"/><rect x="454.53" y="240" width="55.8" height="7" fill="#5b5b5b"/><rect x="468.23" y="240" width="1.3" height="7" fill="#292929"/><rect x="481.93" y="240" width="1.4" height="7" fill="#292929"/><rect x="495.93" y="240" width="1.3" height="7" fill="#292929"/><rect x="455.53" y="240" width="12.3" height="7" fill="#a9a9a9"/><rect x="469.93" y="240" width="11.6" height="7" fill="#a9a9a9"/><rect x="483.73" y="240" width="11.8" height="7" fill="#a9a9a9"/><rect x="497.63" y="240" width="11.7" height="7" fill="#a9a9a9"/><rect x="454.53" y="247" width="55.8" height="6" fill="#5b5b5b"/><rect x="468.23" y="247" width="1.3" height="6" fill="#242424"/><rect x="481.93" y="247" width="1.4" height="6" fill="#242424"/><rect x="495.93" y="247" width="1.3" height="6" fill="#242424"/><rect x="455.53" y="247" width="12.3" height="6" fill="#a5a5a5"/><rect x="469.93" y="247" width="11.6" height="6" fill="#a0a0a0"/><rect x="483.73" y="247" width="11.8" height="6" fill="#a5a5a5"/><rect x="497.63" y="247" width="11.7" height="6" fill="#a0a0a0"/><rect x="454.53" y="253" width="55.8" height="8" fill="#5b5b5b"/><rect x="468.23" y="253" width="1.3" height="8" fill="#272727"/><rect x="481.93" y="253" width="1.4" height="8" fill="#272727"/><rect x="495.93" y="253" width="1.3" height="8" fill="#272727"/><rect x="455.53" y="253" width="12.3" height="8" fill="#a9a9a9"/><rect x="469.93" y="253" width="11.6" height="8" fill="#a5a5a5"/><rect x="483.73" y="253" width="11.8" height="8" fill="#a9a9a9"/><rect x="497.63" y="253" width="11.7" height="8" fill="#a5a5a5"/><rect x="454.53" y="261" width="55.8" height="7" fill="#5b5b5b"/><rect x="468.23" y="261" width="1.3" height="7" fill="#282828"/><rect x="481.93" y="261" width="1.4" height="7" fill="#282828"/><rect x="495.93" y="261" width="1.3" height="7" fill="#282828"/><rect x="455.53" y="261" width="12.3" height="7" fill="#aeaeae"/><rect x="469.93" y="261" width="11.6" height="7" fill="#a9a9a9"/><rect x="483.73" y="261" width="11.8" height="7" fill="#acacac"/><rect x="497.63" y="261" width="11.7" height="7" fill="#a0a0a0"/><rect x="454.53" y="268" width="55.8" height="8" fill="#5b5b5b"/><rect x="468.23" y="268" width="1.3" height="8" fill="#2a2a2a"/><rect x="481.93" y="268" width="1.4" height="8" fill="#2a2a2a"/><rect x="495.93" y="268" width="1.3" height="8" fill="#2a2a2a"/><rect x="455.53" y="268" width="12.3" height="8" fill="#b7b7b7"/><rect x="469.93" y="268" width="11.6" height="8" fill="#b2b2b2"/><rect x="483.73" y="268" width="11.8" height="8" fill="#aeaeae"/><rect x="497.63" y="268" width="11.7" height="8" fill="#939393"/><rect x="454.53" y="276" width="55.8" height="10" fill="#5b5b5b"/><rect x="468.23" y="276" width="1.3" height="10" fill="#242424"/><rect x="481.93" y="276" width="1.4" height="10" fill="#242424"/><rect x="495.93" y="276" width="1.3" height="10" fill="#242424"/><rect x="455.53" y="276" width="12.3" height="10" fill="#939393"/><rect x="469.93" y="276" width="11.6" height="10" fill="#939393"/><rect x="483.73" y="276" width="11.8" height="10" fill="#8e8e8e"/><rect x="497.63" y="276" width="11.7" height="10" fill="#8e8e8e"/><rect x="454.53" y="286" width="55.8" height="7" fill="#5b5b5b"/><rect x="468.23" y="286" width="1.3" height="7" fill="#242424"/><rect x="481.93" y="286" width="1.4" height="7" fill="#242424"/><rect x="495.93" y="286" width="1.3" height="7" fill="#242424"/><rect x="455.53" y="286" width="12.3" height="7" fill="#979797"/><rect x="469.93" y="286" width="11.6" height="7" fill="#979797"/><rect x="483.73" y="286" width="11.8" height="7" fill="#979797"/><rect x="497.63" y="286" width="11.7" height="7" fill="#979797"/><rect x="454.53" y="293" width="55.8" height="7" fill="#5b5b5b"/><rect x="468.23" y="293" width="1.3" height="7" fill="#282828"/><rect x="481.93" y="293" width="1.4" height="7" fill="#282828"/><rect x="495.93" y="293" width="1.3" height="7" fill="#282828"/><rect x="455.53" y="293" width="12.3" height="7" fill="#acacac"/><rect x="469.93" y="293" width="11.6" height="7" fill="#a9a9a9"/><rect x="483.73" y="293" width="11.8" height="7" fill="#a5a5a5"/><rect x="497.63" y="293" width="11.7" height="7" fill="#a9a9a9"/><rect x="454.53" y="300" width="55.8" height="9" fill="#5b5b5b"/><rect x="468.23" y="300" width="1.3" height="9" fill="#292929"/><rect x="481.93" y="300" width="1.4" height="9" fill="#292929"/><rect x="495.93" y="300" width="1.3" height="9" fill="#292929"/><rect x="455.53" y="300" width="12.3" height="9" fill="#a9a9a9"/><rect x="469.93" y="300" width="11.6" height="9" fill="#a9a9a9"/><rect x="483.73" y="300" width="11.8" height="9" fill="#a9a9a9"/><rect x="497.63" y="300" width="11.7" height="9" fill="#a9a9a9"/><rect x="454.53" y="309" width="55.8" height="7" fill="#5b5b5b"/><rect x="468.23" y="309" width="1.3" height="7" fill="#3f3f3f"/><rect x="481.93" y="309" width="1.4" height="7" fill="#3f3f3f"/><rect x="495.93" y="309" width="1.3" height="7" fill="#3f3f3f"/><rect x="455.53" y="309" width="12.3" height="7" fill="#c7c7c7"/><rect x="469.93" y="309" width="11.6" height="7" fill="#c7c7c7"/><rect x="483.73" y="309" width="11.8" height="7" fill="#c2c2c2"/><rect x="497.63" y="309" width="11.7" height="7" fill="#acacac"/><rect x="454.53" y="316" width="55.8" height="8" fill="#5b5b5b"/><rect x="468.23" y="316" width="1.3" height="8" fill="#2b2b2b"/><rect x="481.93" y="316" width="1.4" height="8" fill="#2b2b2b"/><rect x="495.93" y="316" width="1.3" height="8" fill="#2b2b2b"/><rect x="455.53" y="316" width="12.3" height="8" fill="#b2b2b2"/><rect x="469.93" y="316" width="11.6" height="8" fill="#aeaeae"/><rect x="483.73" y="316" width="11.8" height="8" fill="#a9a9a9"/><rect x="497.63" y="316" width="11.7" height="8" fill="#a5a5a5"/><rect x="454.53" y="324" width="55.8" height="12" fill="#5b5b5b"/><rect x="468.23" y="324" width="1.3" height="12" fill="#242424"/><rect x="481.93" y="324" width="1.4" height="12" fill="#242424"/><rect x="495.93" y="324" width="1.3" height="12" fill="#242424"/><rect x="455.53" y="324" width="12.3" height="12" fill="#a5a5a5"/><rect x="469.93" y="324" width="11.6" height="12" fill="#a0a0a0"/><rect x="483.73" y="324" width="11.8" height="12" fill="#a0a0a0"/><rect x="497.63" y="324" width="11.7" height="12" fill="#a5a5a5"/><rect x="454.53" y="336" width="55.8" height="4" fill="#5b5b5b"/><rect x="468.23" y="336" width="1.3" height="4" fill="#242424"/><rect x="481.93" y="336" width="1.4" height="4" fill="#242424"/><rect x="495.93" y="336" width="1.3" height="4" fill="#242424"/><rect x="455.53" y="336" width="12.3" height="4" fill="#a9a9a9"/><rect x="469.93" y="336" width="11.6" height="4" fill="#a5a5a5"/><rect x="483.73" y="336" width="11.8" height="4" fill="#a0a0a0"/><rect x="497.63" y="336" width="11.7" height="4" fill="#a0a0a0"/><rect x="454.53" y="340" width="55.8" height="9" fill="#5b5b5b"/><rect x="468.23" y="340" width="1.3" height="9" fill="#242424"/><rect x="481.93" y="340" width="1.4" height="9" fill="#242424"/><rect x="495.93" y="340" width="1.3" height="9" fill="#242424"/><rect x="455.53" y="340" width="12.3" height="9" fill="#9c9c9c"/><rect x="469.93" y="340" width="11.6" height="9" fill="#9c9c9c"/><rect x="483.73" y="340" width="11.8" height="9" fill="#979797"/><rect x="497.63" y="340" width="11.7" height="9" fill="#979797"/><rect x="454.53" y="349" width="55.8" height="13" fill="#5b5b5b"/><rect x="468.23" y="349" width="1.3" height="13" fill="#242424"/><rect x="481.93" y="349" width="1.4" height="13" fill="#242424"/><rect x="495.93" y="349" width="1.3" height="13" fill="#242424"/><rect x="455.53" y="349" width="12.3" height="13" fill="#9c9c9c"/><rect x="469.93" y="349" width="11.6" height="13" fill="#a0a0a0"/><rect x="483.73" y="349" width="11.8" height="13" fill="#979797"/><rect x="497.63" y="349" width="11.7" height="13" fill="#939393"/><rect x="454.53" y="362" width="55.8" height="10" fill="#5b5b5b"/><rect x="468.23" y="362" width="1.3" height="10" fill="#242424"/><rect x="481.93" y="362" width="1.4" height="10" fill="#242424"/><rect x="495.93" y="362" width="1.3" height="10" fill="#242424"/><rect x="455.53" y="362" width="12.3" height="10" fill="#8a8a8a"/><rect x="469.93" y="362" width="11.6" height="10" fill="#939393"/><rect x="483.73" y="362" width="11.8" height="10" fill="#8e8e8e"/><rect x="497.63" y="362" width="11.7" height="10" fill="#8e8e8e"/><rect x="454.53" y="372" width="55.8" height="14" fill="#5b5b5b"/><rect x="468.23" y="372" width="1.3" height="14" fill="#242424"/><rect x="481.93" y="372" width="1.4" height="14" fill="#242424"/><rect x="495.93" y="372" width="1.3" height="14" fill="#242424"/><rect x="455.53" y="372" width="12.3" height="14" fill="#8e8e8e"/><rect x="469.93" y="372" width="11.6" height="14" fill="#939393"/><rect x="483.73" y="372" width="11.8" height="14" fill="#8e8e8e"/><rect x="497.63" y="372" width="11.7" height="14" fill="#8e8e8e"/><rect x="454.53" y="386" width="55.8" height="10" fill="#5b5b5b"/><rect x="468.23" y="386" width="1.3" height="10" fill="#242424"/><rect x="481.93" y="386" width="1.4" height="10" fill="#242424"/><rect x="495.93" y="386" width="1.3" height="10" fill="#242424"/><rect x="455.53" y="386" width="12.3" height="10" fill="#a9a9a9"/><rect x="469.93" y="386" width="11.6" height="10" fill="#a9a9a9"/><rect x="483.73" y="386" width="11.8" height="10" fill="#a5a5a5"/><rect x="497.63" y="386" width="11.7" height="10" fill="#9c9c9c"/><rect x="454.53" y="396" width="55.8" height="7" fill="#5b5b5b"/><rect x="468.23" y="396" width="1.3" height="7" fill="#242424"/><rect x="481.93" y="396" width="1.4" height="7" fill="#242424"/><rect x="495.93" y="396" width="1.3" height="7" fill="#242424"/><rect x="455.53" y="396" width="12.3" height="7" fill="#a5a5a5"/><rect x="469.93" y="396" width="11.6" height="7" fill="#a5a5a5"/><rect x="483.73" y="396" width="11.8" height="7" fill="#a5a5a5"/><rect x="497.63" y="396" width="11.7" height="7" fill="#a0a0a0"/><rect x="454.53" y="403" width="55.8" height="9" fill="#898989"/><rect x="468.23" y="403" width="1.3" height="9" fill="#525252"/><rect x="481.93" y="403" width="1.4" height="9" fill="#525252"/><rect x="495.93" y="403" width="1.3" height="9" fill="#525252"/><rect x="455.53" y="403" width="12.3" height="9" fill="#d7d7d7"/><rect x="469.93" y="403" width="11.6" height="9" fill="#d7d7d7"/><rect x="483.73" y="403" width="11.8" height="9" fill="#d2d2d2"/><rect x="497.63" y="403" width="11.7" height="9" fill="#c9c9c9"/><rect x="454.53" y="412" width="55.8" height="8" fill="#5b5b5b"/><rect x="468.23" y="412" width="1.3" height="8" fill="#494949"/><rect x="481.93" y="412" width="1.4" height="8" fill="#494949"/><rect x="495.93" y="412" width="1.3" height="8" fill="#494949"/><rect x="455.53" y="412" width="12.3" height="8" fill="#c9c9c9"/><rect x="469.93" y="412" width="11.6" height="8" fill="#c9c9c9"/><rect x="483.73" y="412" width="11.8" height="8" fill="#cecece"/><rect x="497.63" y="412" width="11.7" height="8" fill="#c5c5c5"/><rect x="454.53" y="420" width="55.8" height="3" fill="#5b5b5b"/><rect x="468.23" y="420" width="1.3" height="3" fill="#515151"/><rect x="481.93" y="420" width="1.4" height="3" fill="#515151"/><rect x="495.93" y="420" width="1.3" height="3" fill="#515151"/><rect x="455.53" y="420" width="12.3" height="3" fill="#d2d2d2"/><rect x="469.93" y="420" width="11.6" height="3" fill="#d2d2d2"/><rect x="483.73" y="420" width="11.8" height="3" fill="#d2d2d2"/><rect x="497.63" y="420" width="11.7" height="3" fill="#cecece"/><rect x="454.53" y="423" width="55.8" height="20" fill="#bfbfbf"/><rect x="468.23" y="423" width="1.3" height="20" fill="#dbdbdb"/><rect x="481.93" y="423" width="1.4" height="20" fill="#dbdbdb"/><rect x="495.93" y="423" width="1.3" height="20" fill="#dbdbdb"/><rect x="455.53" y="423" width="12.3" height="20" fill="#fafafa"/><rect x="469.93" y="423" width="11.6" height="20" fill="#fafafa"/><rect x="483.73" y="423" width="11.8" height="20" fill="#fafafa"/><rect x="497.63" y="423" width="11.7" height="20" fill="#fafafa"/><rect x="454.53" y="443" width="55.8" height="7" fill="#898989"/><rect x="468.23" y="443" width="1.3" height="7" fill="#555555"/><rect x="481.93" y="443" width="1.4" height="7" fill="#555555"/><rect x="495.93" y="443" width="1.3" height="7" fill="#555555"/><rect x="455.53" y="443" width="12.3" height="7" fill="#d7d7d7"/><rect x="469.93" y="443" width="11.6" height="7" fill="#d7d7d7"/><rect x="483.73" y="443" width="11.8" height="7" fill="#d7d7d7"/><rect x="497.63" y="443" width="11.7" height="7" fill="#d2d2d2"/><rect x="454.53" y="450" width="55.8" height="8" fill="#898989"/><rect x="468.23" y="450" width="1.3" height="8" fill="#5a5a5a"/><rect x="481.93" y="450" width="1.4" height="8" fill="#5a5a5a"/><rect x="495.93" y="450" width="1.3" height="8" fill="#5a5a5a"/><rect x="455.53" y="450" width="12.3" height="8" fill="#dbdbdb"/><rect x="469.93" y="450" width="11.6" height="8" fill="#dbdbdb"/><rect x="483.73" y="450" width="11.8" height="8" fill="#dbdbdb"/><rect x="497.63" y="450" width="11.7" height="8" fill="#d7d7d7"/><rect x="454.53" y="458" width="55.8" height="6" fill="#5b5b5b"/><rect x="468.23" y="458" width="1.3" height="6" fill="#323232"/><rect x="481.93" y="458" width="1.4" height="6" fill="#323232"/><rect x="495.93" y="458" width="1.3" height="6" fill="#323232"/><rect x="455.53" y="458" width="12.3" height="6" fill="#b2b2b2"/><rect x="469.93" y="458" width="11.6" height="6" fill="#b2b2b2"/><rect x="483.73" y="458" width="11.8" height="6" fill="#b2b2b2"/><rect x="497.63" y="458" width="11.7" height="6" fill="#b2b2b2"/><rect x="454.53" y="464" width="55.8" height="15" fill="#5b5b5b"/><rect x="468.23" y="464" width="1.3" height="15" fill="#242424"/><rect x="481.93" y="464" width="1.4" height="15" fill="#242424"/><rect x="495.93" y="464" width="1.3" height="15" fill="#242424"/><rect x="455.53" y="464" width="12.3" height="15" fill="#999999"/><rect x="469.93" y="464" width="11.6" height="15" fill="#9c9c9c"/><rect x="483.73" y="464" width="11.8" height="15" fill="#9c9c9c"/><rect x="497.63" y="464" width="11.7" height="15" fill="#9c9c9c"/><rect x="454.53" y="479" width="55.8" height="14" fill="#5b5b5b"/><rect x="468.23" y="479" width="1.3" height="14" fill="#242424"/><rect x="481.93" y="479" width="1.4" height="14" fill="#242424"/><rect x="495.93" y="479" width="1.3" height="14" fill="#242424"/><rect x="455.53" y="479" width="12.3" height="14" fill="#979797"/><rect x="469.93" y="479" width="11.6" height="14" fill="#979797"/><rect x="483.73" y="479" width="11.8" height="14" fill="#979797"/><rect x="497.63" y="479" width="11.7" height="14" fill="#979797"/><rect x="454.53" y="493" width="55.8" height="10" fill="#5b5b5b"/><rect x="468.23" y="493" width="1.3" height="10" fill="#242424"/><rect x="481.93" y="493" width="1.4" height="10" fill="#242424"/><rect x="495.93" y="493" width="1.3" height="10" fill="#242424"/><rect x="455.53" y="493" width="12.3" height="10" fill="#a5a5a5"/><rect x="469.93" y="493" width="11.6" height="10" fill="#a5a5a5"/><rect x="483.73" y="493" width="11.8" height="10" fill="#a5a5a5"/><rect x="497.63" y="493" width="11.7" height="10" fill="#a0a0a0"/><rect x="454.53" y="503" width="55.8" height="15" fill="#5b5b5b"/><rect x="468.23" y="503" width="1.3" height="15" fill="#242424"/><rect x="481.93" y="503" width="1.4" height="15" fill="#242424"/><rect x="495.93" y="503" width="1.3" height="15" fill="#242424"/><rect x="455.53" y="503" width="12.3" height="15" fill="#9e9e9e"/><rect x="469.93" y="503" width="11.6" height="15" fill="#9e9e9e"/><rect x="483.73" y="503" width="11.8" height="15" fill="#9e9e9e"/><rect x="497.63" y="503" width="11.7" height="15" fill="#9c9c9c"/><rect x="454.53" y="518" width="55.8" height="5" fill="#5b5b5b"/><rect x="468.23" y="518" width="1.3" height="5" fill="#242424"/><rect x="481.93" y="518" width="1.4" height="5" fill="#242424"/><rect x="495.93" y="518" width="1.3" height="5" fill="#242424"/><rect x="455.53" y="518" width="12.3" height="5" fill="#939393"/><rect x="469.93" y="518" width="11.6" height="5" fill="#939393"/><rect x="483.73" y="518" width="11.8" height="5" fill="#939393"/><rect x="497.63" y="518" width="11.7" height="5" fill="#939393"/><rect x="454.53" y="523" width="55.8" height="14" fill="#5b5b5b"/><rect x="468.23" y="523" width="1.3" height="14" fill="#242424"/><rect x="481.93" y="523" width="1.4" height="14" fill="#242424"/><rect x="495.93" y="523" width="1.3" height="14" fill="#242424"/><rect x="455.53" y="523" width="12.3" height="14" fill="#a5a5a5"/><rect x="469.93" y="523" width="11.6" height="14" fill="#a0a0a0"/><rect x="483.73" y="523" width="11.8" height="14" fill="#a7a7a7"/><rect x="497.63" y="523" width="11.7" height="14" fill="#a0a0a0"/><rect x="454.53" y="537" width="55.8" height="8" fill="#5b5b5b"/><rect x="468.23" y="537" width="1.3" height="8" fill="#242424"/><rect x="481.93" y="537" width="1.4" height="8" fill="#242424"/><rect x="495.93" y="537" width="1.3" height="8" fill="#242424"/><rect x="455.53" y="537" width="12.3" height="8" fill="#a5a5a5"/><rect x="469.93" y="537" width="11.6" height="8" fill="#a0a0a0"/><rect x="483.73" y="537" width="11.8" height="8" fill="#a5a5a5"/><rect x="497.63" y="537" width="11.7" height="8" fill="#a0a0a0"/><rect x="454.53" y="545" width="55.8" height="5" fill="#5b5b5b"/><rect x="468.23" y="545" width="1.3" height="5" fill="#3d3d3d"/><rect x="481.93" y="545" width="1.4" height="5" fill="#3d3d3d"/><rect x="495.93" y="545" width="1.3" height="5" fill="#3d3d3d"/><rect x="455.53" y="545" width="12.3" height="5" fill="#c0c0c0"/><rect x="469.93" y="545" width="11.6" height="5" fill="#c0c0c0"/><rect x="483.73" y="545" width="11.8" height="5" fill="#c0c0c0"/><rect x="497.63" y="545" width="11.7" height="5" fill="#b7b7b7"/><rect x="454.53" y="550" width="55.8" height="6" fill="#5b5b5b"/><rect x="468.23" y="550" width="1.3" height="6" fill="#4b4b4b"/><rect x="481.93" y="550" width="1.4" height="6" fill="#4b4b4b"/><rect x="495.93" y="550" width="1.3" height="6" fill="#4b4b4b"/><rect x="455.53" y="550" width="12.3" height="6" fill="#cecece"/><rect x="469.93" y="550" width="11.6" height="6" fill="#cecece"/><rect x="483.73" y="550" width="11.8" height="6" fill="#cecece"/><rect x="497.63" y="550" width="11.7" height="6" fill="#c5c5c5"/><rect x="454.53" y="556" width="55.8" height="4" fill="#5b5b5b"/><rect x="468.23" y="556" width="1.3" height="4" fill="#474747"/><rect x="481.93" y="556" width="1.4" height="4" fill="#474747"/><rect x="495.93" y="556" width="1.3" height="4" fill="#474747"/><rect x="455.53" y="556" width="12.3" height="4" fill="#c8c8c8"/><rect x="469.93" y="556" width="11.6" height="4" fill="#c8c8c8"/><rect x="483.73" y="556" width="11.8" height="4" fill="#c8c8c8"/><rect x="497.63" y="556" width="11.7" height="4" fill="#c4c4c4"/><rect x="454.53" y="560" width="55.8" height="5" fill="#5b5b5b"/><rect x="468.23" y="560" width="1.3" height="5" fill="#505050"/><rect x="481.93" y="560" width="1.4" height="5" fill="#505050"/><rect x="495.93" y="560" width="1.3" height="5" fill="#505050"/><rect x="455.53" y="560" width="12.3" height="5" fill="#d1d1d1"/><rect x="469.93" y="560" width="11.6" height="5" fill="#d1d1d1"/><rect x="483.73" y="560" width="11.8" height="5" fill="#d1d1d1"/><rect x="497.63" y="560" width="11.7" height="5" fill="#cdcdcd"/><rect x="454.53" y="565" width="55.8" height="6" fill="#898989"/><rect x="468.23" y="565" width="1.3" height="6" fill="#616161"/><rect x="481.93" y="565" width="1.4" height="6" fill="#616161"/><rect x="495.93" y="565" width="1.3" height="6" fill="#616161"/><rect x="455.53" y="565" width="12.3" height="6" fill="#dfdfdf"/><rect x="469.93" y="565" width="11.6" height="6" fill="#e0e0e0"/><rect x="483.73" y="565" width="11.8" height="6" fill="#dfdfdf"/><rect x="497.63" y="565" width="11.7" height="6" fill="#dbdbdb"/><rect x="454.53" y="571" width="55.8" height="5" fill="#5b5b5b"/><rect x="468.23" y="571" width="1.3" height="5" fill="#4a4a4a"/><rect x="481.93" y="571" width="1.4" height="5" fill="#4a4a4a"/><rect x="495.93" y="571" width="1.3" height="5" fill="#4a4a4a"/><rect x="455.53" y="571" width="12.3" height="5" fill="#cdcdcd"/><rect x="469.93" y="571" width="11.6" height="5" fill="#cdcdcd"/><rect x="483.73" y="571" width="11.8" height="5" fill="#c8c8c8"/><rect x="497.63" y="571" width="11.7" height="5" fill="#c8c8c8"/><rect x="454.53" y="576" width="55.8" height="7" fill="#5b5b5b"/><rect x="468.23" y="576" width="1.3" height="7" fill="#484848"/><rect x="481.93" y="576" width="1.4" height="7" fill="#484848"/><rect x="495.93" y="576" width="1.3" height="7" fill="#484848"/><rect x="455.53" y="576" width="12.3" height="7" fill="#d1d1d1"/><rect x="469.93" y="576" width="11.6" height="7" fill="#cdcdcd"/><rect x="483.73" y="576" width="11.8" height="7" fill="#bfbfbf"/><rect x="497.63" y="576" width="11.7" height="7" fill="#c4c4c4"/><rect x="454.53" y="583" width="55.8" height="6" fill="#5b5b5b"/><rect x="468.23" y="583" width="1.3" height="6" fill="#424242"/><rect x="481.93" y="583" width="1.4" height="6" fill="#424242"/><rect x="495.93" y="583" width="1.3" height="6" fill="#424242"/><rect x="455.53" y="583" width="12.3" height="6" fill="#c4c4c4"/><rect x="469.93" y="583" width="11.6" height="6" fill="#c8c8c8"/><rect x="483.73" y="583" width="11.8" height="6" fill="#bfbfbf"/><rect x="497.63" y="583" width="11.7" height="6" fill="#bfbfbf"/><rect x="454.53" y="589" width="55.8" height="11" fill="#5b5b5b"/><rect x="468.23" y="589" width="1.3" height="11" fill="#3c3c3c"/><rect x="481.93" y="589" width="1.4" height="11" fill="#3c3c3c"/><rect x="495.93" y="589" width="1.3" height="11" fill="#3c3c3c"/><rect x="455.53" y="589" width="12.3" height="11" fill="#c0c0c0"/><rect x="469.93" y="589" width="11.6" height="11" fill="#c0c0c0"/><rect x="483.73" y="589" width="11.8" height="11" fill="#c0c0c0"/><rect x="497.63" y="589" width="11.7" height="11" fill="#b2b2b2"/><rect x="454.53" y="600" width="55.8" height="11" fill="#5b5b5b"/><rect x="468.23" y="600" width="1.3" height="11" fill="#2c2c2c"/><rect x="481.93" y="600" width="1.4" height="11" fill="#2c2c2c"/><rect x="495.93" y="600" width="1.3" height="11" fill="#2c2c2c"/><rect x="455.53" y="600" width="12.3" height="11" fill="#aeaeae"/><rect x="469.93" y="600" width="11.6" height="11" fill="#b2b2b2"/><rect x="483.73" y="600" width="11.8" height="11" fill="#b2b2b2"/><rect x="497.63" y="600" width="11.7" height="11" fill="#a0a0a0"/><rect x="454.53" y="611" width="55.8" height="15" fill="#5b5b5b"/><rect x="468.23" y="611" width="1.3" height="15" fill="#242424"/><rect x="481.93" y="611" width="1.4" height="15" fill="#242424"/><rect x="495.93" y="611" width="1.3" height="15" fill="#242424"/><rect x="455.53" y="611" width="12.3" height="15" fill="#a0a0a0"/><rect x="469.93" y="611" width="11.6" height="15" fill="#a0a0a0"/><rect x="483.73" y="611" width="11.8" height="15" fill="#a0a0a0"/><rect x="497.63" y="611" width="11.7" height="15" fill="#9c9c9c"/><rect x="454.53" y="626" width="55.8" height="8" fill="#5b5b5b"/><rect x="468.23" y="626" width="1.3" height="8" fill="#282828"/><rect x="481.93" y="626" width="1.4" height="8" fill="#282828"/><rect x="495.93" y="626" width="1.3" height="8" fill="#282828"/><rect x="455.53" y="626" width="12.3" height="8" fill="#a9a9a9"/><rect x="469.93" y="626" width="11.6" height="8" fill="#a0a0a0"/><rect x="483.73" y="626" width="11.8" height="8" fill="#aeaeae"/><rect x="497.63" y="626" width="11.7" height="8" fill="#a9a9a9"/><rect x="454.53" y="634" width="55.8" height="14" fill="#5b5b5b"/><rect x="468.23" y="634" width="1.3" height="14" fill="#242424"/><rect x="481.93" y="634" width="1.4" height="14" fill="#242424"/><rect x="495.93" y="634" width="1.3" height="14" fill="#242424"/><rect x="455.53" y="634" width="12.3" height="14" fill="#a0a0a0"/><rect x="469.93" y="634" width="11.6" height="14" fill="#9c9c9c"/><rect x="483.73" y="634" width="11.8" height="14" fill="#a5a5a5"/><rect x="497.63" y="634" width="11.7" height="14" fill="#a5a5a5"/><rect x="454.53" y="648" width="55.8" height="17" fill="#5b5b5b"/><rect x="468.23" y="648" width="1.3" height="17" fill="#242424"/><rect x="481.93" y="648" width="1.4" height="17" fill="#242424"/><rect x="495.93" y="648" width="1.3" height="17" fill="#242424"/><rect x="455.53" y="648" width="12.3" height="17" fill="#a0a0a0"/><rect x="469.93" y="648" width="11.6" height="17" fill="#9e9e9e"/><rect x="483.73" y="648" width="11.8" height="17" fill="#9c9c9c"/><rect x="497.63" y="648" width="11.7" height="17" fill="#a0a0a0"/><rect x="454.53" y="665" width="55.8" height="9" fill="#5b5b5b"/><rect x="468.23" y="665" width="1.3" height="9" fill="#242424"/><rect x="481.93" y="665" width="1.4" height="9" fill="#242424"/><rect x="495.93" y="665" width="1.3" height="9" fill="#242424"/><rect x="455.53" y="665" width="12.3" height="9" fill="#979797"/><rect x="469.93" y="665" width="11.6" height="9" fill="#a0a0a0"/><rect x="483.73" y="665" width="11.8" height="9" fill="#9c9c9c"/><rect x="497.63" y="665" width="11.7" height="9" fill="#939393"/><rect x="454.53" y="674" width="55.8" height="17" fill="#5b5b5b"/><rect x="468.23" y="674" width="1.3" height="17" fill="#242424"/><rect x="481.93" y="674" width="1.4" height="17" fill="#242424"/><rect x="495.93" y="674" width="1.3" height="17" fill="#242424"/><rect x="455.53" y="674" width="12.3" height="17" fill="#939393"/><rect x="469.93" y="674" width="11.6" height="17" fill="#a5a5a5"/><rect x="483.73" y="674" width="11.8" height="17" fill="#a7a7a7"/><rect x="497.63" y="674" width="11.7" height="17" fill="#939393"/><rect x="454.53" y="691" width="55.8" height="17" fill="#5b5b5b"/><rect x="468.23" y="691" width="1.3" height="17" fill="#242424"/><rect x="481.93" y="691" width="1.4" height="17" fill="#242424"/><rect x="495.93" y="691" width="1.3" height="17" fill="#242424"/><rect x="455.53" y="691" width="12.3" height="17" fill="#9c9c9c"/><rect x="469.93" y="691" width="11.6" height="17" fill="#9e9e9e"/><rect x="483.73" y="691" width="11.8" height="17" fill="#9c9c9c"/><rect x="497.63" y="691" width="11.7" height="17" fill="#959595"/><rect x="454.53" y="708" width="55.8" height="32" fill="#5b5b5b"/><rect x="468.23" y="708" width="1.3" height="32" fill="#242424"/><rect x="481.93" y="708" width="1.4" height="32" fill="#242424"/><rect x="495.93" y="708" width="1.3" height="32" fill="#242424"/><rect x="455.53" y="708" width="12.3" height="32" fill="#aeaeae"/><rect x="469.93" y="708" width="11.6" height="32" fill="#a0a0a0"/><rect x="483.73" y="708" width="11.8" height="32" fill="#979797"/><rect x="497.63" y="708" width="11.7" height="32" fill="#939393"/></g>
<rect x="343.53" y="108" width="111.2" height="3" fill="#3b3b3b"/><rect x="510.13" y="108" width="10.3" height="3" fill="#3b3b3b"/><rect x="343.53" y="168" width="111.2" height="8" fill="#303030"/><rect x="510.13" y="168" width="10.3" height="8" fill="#303030"/><rect x="343.53" y="276" width="111.2" height="8" fill="#343434"/><rect x="510.13" y="276" width="10.3" height="8" fill="#343434"/><rect x="343.53" y="326" width="111.2" height="5" fill="#404040"/><rect x="510.13" y="326" width="10.3" height="5" fill="#404040"/><rect x="343.53" y="336" width="111.2" height="3" fill="#444444"/><rect x="510.13" y="336" width="10.3" height="3" fill="#444444"/><rect x="343.53" y="509" width="111.2" height="3" fill="#373737"/><rect x="510.13" y="509" width="10.3" height="3" fill="#373737"/><rect x="343.53" y="518" width="111.2" height="3" fill="#444444"/><rect x="510.13" y="518" width="10.3" height="3" fill="#444444"/><rect x="343.53" y="643" width="111.2" height="2" fill="#474747"/><rect x="510.13" y="643" width="10.3" height="2" fill="#474747"/><rect x="343.53" y="152" width="111.2" height="1" fill="#404040"/><rect x="510.13" y="152" width="10.3" height="1" fill="#404040"/><rect x="343.53" y="536" width="111.2" height="12" fill="#323232"/><rect x="510.13" y="536" width="10.3" height="12" fill="#323232"/><rect x="343.53" y="421" width="111.6" height="1" fill="#8d8d8d"/><rect x="509.73" y="421" width="10.7" height="1" fill="#848484"/><rect x="343.53" y="422" width="111.6" height="2" fill="#adadad"/><rect x="509.73" y="422" width="10.7" height="2" fill="#a4a4a4"/><rect x="343.53" y="424" width="111.6" height="4" fill="#c4c4c4"/><rect x="509.73" y="424" width="10.7" height="4" fill="#bbbbbb"/><rect x="343.53" y="428" width="111.6" height="6" fill="#d1d1d1"/><rect x="509.73" y="428" width="10.7" height="6" fill="#c8c8c8"/><rect x="343.53" y="434" width="111.6" height="3" fill="#c4c4c4"/><rect x="509.73" y="434" width="10.7" height="3" fill="#bbbbbb"/><rect x="343.53" y="437" width="111.6" height="3" fill="#b2b2b2"/><rect x="509.73" y="437" width="10.7" height="3" fill="#a8a8a8"/><rect x="343.53" y="440" width="111.6" height="2" fill="#9b9b9b"/><rect x="509.73" y="440" width="10.7" height="2" fill="#929292"/><rect x="343.53" y="442" width="111.6" height="2" fill="#727272"/><rect x="509.73" y="442" width="10.7" height="2" fill="#696969"/><rect x="343.53" y="566" width="111.6" height="1" fill="#969696"/><rect x="509.73" y="566" width="10.7" height="1" fill="#8d8d8d"/><rect x="343.53" y="567" width="111.6" height="2" fill="#c4c4c4"/><rect x="509.73" y="567" width="10.7" height="2" fill="#bbbbbb"/><rect x="343.53" y="569" width="111.6" height="1" fill="#969696"/><rect x="509.73" y="569" width="10.7" height="1" fill="#8d8d8d"/><rect x="343.53" y="399" width="111.6" height="1" fill="#9f9f9f"/><rect x="509.73" y="399" width="10.7" height="1" fill="#969696"/><rect x="399" y="80" width="1" height="640" fill="#727272"/>
</g>
<path d="M345 101h175v7h-175zM345 162h175v1h-175zM345 203h175v1h-175zM345 218h175v1h-175zM345 245h175v2h-175zM345 252h175v1h-175zM345 260h175v1h-175zM345 266h175v1h-175zM345 280h175v1h-175zM345 286h175v1h-175zM345 289h175v1h-175zM345 305h175v1h-175zM345 310h175v1h-175zM345 331h175v5h-175zM345 348h175v1h-175zM345 371h175v1h-175zM345 384h175v1h-175zM345 402h175v1h-175zM345 445h175v1h-175zM345 449h175v1h-175zM345 478h175v1h-175zM345 489h175v1h-175zM345 492h175v1h-175zM345 512h175v6h-175zM345 521h175v2h-175zM345 531h175v5h-175zM345 544h175v1h-175zM345 575h175v1h-175zM345 625h175v1h-175zM345 631h175v1h-175zM345 648h175v1h-175zM345 664h175v1h-175zM345 673h175v1h-175zM345 708h175v7h-175zM345 717h175v1h-175z" fill="#fff"/>
<path d="M345 111h175v1h-175zM345 133h175v1h-175zM345 156h175v1h-175zM345 176h175v1h-175zM345 192h175v1h-175zM345 200h175v1h-175zM345 208h175v1h-175zM345 216h175v1h-175zM345 224h175v1h-175zM345 232h175v1h-175zM345 240h175v1h-175zM345 248h175v2h-175zM345 275h175v1h-175zM345 284h175v2h-175zM345 291h175v2h-175zM345 299h175v1h-175zM345 307h175v2h-175zM345 315h175v1h-175zM345 321h175v2h-175zM345 324h175v2h-175zM345 339h175v1h-175zM345 395h175v1h-175zM345 397h175v1h-175zM345 400h175v1h-175zM345 508h175v1h-175zM345 536h175v1h-175zM345 538h175v1h-175zM345 543h175v1h-175zM345 548h175v1h-175zM345 552h175v1h-175zM345 554h175v1h-175zM345 565h175v1h-175zM345 570h175v1h-175zM345 589h175v1h-175zM345 611h175v1h-175zM345 633h175v1h-175zM345 637h175v1h-175zM345 642h175v1h-175zM345 645h175v3h-175zM345 690h175v1h-175z" fill="#000"/>
<path d="M344.5 720V80.5H520.5V720M344 720H521" fill="none" stroke="#000" stroke-width="1"/><path d="M344 720H521" fill="none" stroke="#000" stroke-width="1.3"/>
<path d="M344.5 720v-5.56M344.5 80.5v5.56M385.5 720v-5.56M385.5 80.5v5.56M426.5 720v-5.56M426.5 80.5v5.56M468.5 720v-5.56M468.5 80.5v5.56M509.5 720v-5.56M509.5 80.5v5.56M344.5 720.5h5.56M520.5 720.5h-5.56M344.5 586.5h5.56M520.5 586.5h-5.56M344.5 453.5h5.56M520.5 453.5h-5.56M344.5 320.5h5.56M520.5 320.5h-5.56M344.5 186.5h5.56M520.5 186.5h-5.56" stroke="#000" stroke-width="0.8" fill="none"/>
<text x="343.53" y="735.6" font-size="11.6" text-anchor="middle">320</text><text x="384.99" y="735.6" font-size="11.6" text-anchor="middle">335</text><text x="426.45" y="735.6" font-size="11.6" text-anchor="middle">350</text><text x="467.91" y="735.6" font-size="11.6" text-anchor="middle">365</text><text x="509.37" y="735.6" font-size="11.6" text-anchor="middle">380</text><text x="338.33" y="723.3" font-size="11.6" text-anchor="end">0</text><text x="338.33" y="589.97" font-size="11.6" text-anchor="end">5</text><text x="338.33" y="456.63" font-size="11.6" text-anchor="end">10</text><text x="338.33" y="323.3" font-size="11.6" text-anchor="end">15</text><text x="338.33" y="189.97" font-size="11.6" text-anchor="end">20</text>
<text x="431.98" y="73" font-size="16.67" font-family="DejaVu Sans Condensed,DejaVu Sans,sans-serif" font-stretch="condensed" text-anchor="middle">YY, V0*V12=EA17*EA10</text>
<g filter="url(#jet2)">
<g filter="url(#bs)"><rect x="543.81" y="60" width="200.9" height="680" fill="#272727"/><rect x="555.81" y="80" width="112" height="21" fill="#2c2c2c"/><rect x="595.81" y="246" width="60" height="30" fill="#2c2c2c"/><rect x="605.81" y="336" width="30" height="64" fill="#313131"/><rect x="605.81" y="404" width="45" height="19" fill="#353535"/><rect x="595.81" y="523" width="40" height="8" fill="#3c3c3c"/><rect x="605.81" y="589" width="45" height="56" fill="#2c2c2c"/><rect x="641.81" y="246" width="10" height="30" fill="#2f2f2f"/><rect x="651.81" y="246" width="17" height="30" fill="#373737"/><rect x="720.81" y="246" width="6" height="30" fill="#2f2f2f"/><rect x="641.81" y="309" width="10" height="7" fill="#3a3a3a"/><rect x="651.81" y="309" width="17" height="7" fill="#4d4d4d"/><rect x="720.81" y="309" width="6" height="7" fill="#3a3a3a"/><rect x="641.81" y="403" width="10" height="20" fill="#3f3f3f"/><rect x="651.81" y="403" width="17" height="20" fill="#575757"/><rect x="720.81" y="403" width="6" height="20" fill="#3f3f3f"/><rect x="641.81" y="443" width="10" height="22" fill="#3c3c3c"/><rect x="651.81" y="443" width="17" height="22" fill="#525252"/><rect x="720.81" y="443" width="6" height="22" fill="#3c3c3c"/><rect x="641.81" y="465" width="10" height="45" fill="#2f2f2f"/><rect x="651.81" y="465" width="17" height="45" fill="#373737"/><rect x="720.81" y="465" width="6" height="45" fill="#2f2f2f"/><rect x="641.81" y="552" width="10" height="13" fill="#3a3a3a"/><rect x="651.81" y="552" width="17" height="13" fill="#4d4d4d"/><rect x="720.81" y="552" width="6" height="13" fill="#3a3a3a"/><rect x="641.81" y="571" width="10" height="29" fill="#3a3a3a"/><rect x="651.81" y="571" width="17" height="29" fill="#4d4d4d"/><rect x="720.81" y="571" width="6" height="29" fill="#3a3a3a"/><rect x="641.81" y="600" width="10" height="48" fill="#2e2e2e"/><rect x="651.81" y="600" width="17" height="48" fill="#343434"/><rect x="720.81" y="600" width="6" height="48" fill="#2e2e2e"/></g>
<g filter="url(#bm)"><rect x="667.21" y="60" width="55.8" height="48" fill="#5b5b5b"/><rect x="680.91" y="60" width="1.3" height="48" fill="#242424"/><rect x="694.61" y="60" width="1.4" height="48" fill="#242424"/><rect x="708.61" y="60" width="1.3" height="48" fill="#242424"/><rect x="667.81" y="60" width="12.3" height="48" fill="#a2a2a2"/><rect x="682.21" y="60" width="11.6" height="48" fill="#a2a2a2"/><rect x="696.01" y="60" width="11.8" height="48" fill="#9b9b9b"/><rect x="709.91" y="60" width="11.7" height="48" fill="#929292"/><rect x="667.21" y="108" width="55.8" height="3" fill="#5b5b5b"/><rect x="680.91" y="108" width="1.3" height="3" fill="#242424"/><rect x="694.61" y="108" width="1.4" height="3" fill="#242424"/><rect x="708.61" y="108" width="1.3" height="3" fill="#242424"/><rect x="667.81" y="108" width="12.3" height="3" fill="#9f9f9f"/><rect x="682.21" y="108" width="11.6" height="3" fill="#9f9f9f"/><rect x="696.01" y="108" width="11.8" height="3" fill="#9b9b9b"/><rect x="709.91" y="108" width="11.7" height="3" fill="#969696"/><rect x="667.21" y="111" width="55.8" height="11" fill="#5b5b5b"/><rect x="680.91" y="111" width="1.3" height="11" fill="#242424"/><rect x="694.61" y="111" width="1.4" height="11" fill="#242424"/><rect x="708.61" y="111" width="1.3" height="11" fill="#242424"/><rect x="667.81" y="111" width="12.3" height="11" fill="#9b9b9b"/><rect x="682.21" y="111" width="11.6" height="11" fill="#a4a4a4"/><rect x="696.01" y="111" width="11.8" height="11" fill="#9f9f9f"/><rect x="709.91" y="111" width="11.7" height="11" fill="#929292"/><rect x="667.21" y="122" width="55.8" height="11" fill="#5b5b5b"/><rect x="680.91" y="122" width="1.3" height="11" fill="#242424"/><rect x="694.61" y="122" width="1.4" height="11" fill="#242424"/><rect x="708.61" y="122" width="1.3" height="11" fill="#242424"/><rect x="667.81" y="122" width="12.3" height="11" fill="#a6a6a6"/><rect x="682.21" y="122" width="11.6" height="11" fill="#a2a2a2"/><rect x="696.01" y="122" width="11.8" height="11" fill="#9d9d9d"/><rect x="709.91" y="122" width="11.7" height="11" fill="#8d8d8d"/><rect x="667.21" y="133" width="55.8" height="12" fill="#5b5b5b"/><rect x="680.91" y="133" width="1.3" height="12" fill="#242424"/><rect x="694.61" y="133" width="1.4" height="12" fill="#242424"/><rect x="708.61" y="133" width="1.3" height="12" fill="#242424"/><rect x="667.81" y="133" width="12.3" height="12" fill="#9d9d9d"/><rect x="682.21" y="133" width="11.6" height="12" fill="#9f9f9f"/><rect x="696.01" y="133" width="11.8" height="12" fill="#9f9f9f"/><rect x="709.91" y="133" width="11.7" height="12" fill="#898989"/><rect x="667.21" y="145" width="55.8" height="11" fill="#5b5b5b"/><rect x="680.91" y="145" width="1.3" height="11" fill="#242424"/><rect x="694.61" y="145" width="1.4" height="11" fill="#242424"/><rect x="708.61" y="145" width="1.3" height="11" fill="#242424"/><rect x="667.81" y="145" width="12.3" height="11" fill="#9b9b9b"/><rect x="682.21" y="145" width="11.6" height="11" fill="#9b9b9b"/><rect x="696.01" y="145" width="11.8" height="11" fill="#a4a4a4"/><rect x="709.91" y="145" width="11.7" height="11" fill="#a6a6a6"/><rect x="667.21" y="156" width="55.8" height="6" fill="#5b5b5b"/><rect x="680.91" y="156" width="1.3" height="6" fill="#242424"/><rect x="694.61" y="156" width="1.4" height="6" fill="#242424"/><rect x="708.61" y="156" width="1.3" height="6" fill="#242424"/><rect x="667.81" y="156" width="12.3" height="6" fill="#9f9f9f"/><rect x="682.21" y="156" width="11.6" height="6" fill="#a4a4a4"/><rect x="696.01" y="156" width="11.8" height="6" fill="#969696"/><rect x="709.91" y="156" width="11.7" height="6" fill="#969696"/><rect x="667.21" y="162" width="55.8" height="6" fill="#5b5b5b"/><rect x="680.91" y="162" width="1.3" height="6" fill="#242424"/><rect x="694.61" y="162" width="1.4" height="6" fill="#242424"/><rect x="708.61" y="162" width="1.3" height="6" fill="#242424"/><rect x="667.81" y="162" width="12.3" height="6" fill="#a8a8a8"/><rect x="682.21" y="162" width="11.6" height="6" fill="#ababab"/><rect x="696.01" y="162" width="11.8" height="6" fill="#9b9b9b"/><rect x="709.91" y="162" width="11.7" height="6" fill="#969696"/><rect x="667.21" y="168" width="55.8" height="8" fill="#5b5b5b"/><rect x="680.91" y="168" width="1.3" height="8" fill="#242424"/><rect x="694.61" y="168" width="1.4" height="8" fill="#242424"/><rect x="708.61" y="168" width="1.3" height="8" fill="#242424"/><rect x="667.81" y="168" width="12.3" height="8" fill="#969696"/><rect x="682.21" y="168" width="11.6" height="8" fill="#9b9b9b"/><rect x="696.01" y="168" width="11.8" height="8" fill="#969696"/><rect x="709.91" y="168" width="11.7" height="8" fill="#929292"/><rect x="667.21" y="176" width="55.8" height="16" fill="#5b5b5b"/><rect x="680.91" y="176" width="1.3" height="16" fill="#242424"/><rect x="694.61" y="176" width="1.4" height="16" fill="#242424"/><rect x="708.61" y="176" width="1.3" height="16" fill="#242424"/><rect x="667.81" y="176" width="12.3" height="16" fill="#9b9b9b"/><rect x="682.21" y="176" width="11.6" height="16" fill="#9f9f9f"/><rect x="696.01" y="176" width="11.8" height="16" fill="#9f9f9f"/><rect x="709.91" y="176" width="11.7" height="16" fill="#929292"/><rect x="667.21" y="192" width="55.8" height="8" fill="#5b5b5b"/><rect x="680.91" y="192" width="1.3" height="8" fill="#242424"/><rect x="694.61" y="192" width="1.4" height="8" fill="#242424"/><rect x="708.61" y="192" width="1.3" height="8" fill="#242424"/><rect x="667.81" y="192" width="12.3" height="8" fill="#969696"/><rect x="682.21" y="192" width="11.6" height="8" fill="#969696"/><rect x="696.01" y="192" width="11.8" height="8" fill="#969696"/><rect x="709.91" y="192" width="11.7" height="8" fill="#8d8d8d"/><rect x="667.21" y="200" width="55.8" height="8" fill="#5b5b5b"/><rect x="680.91" y="200" width="1.3" height="8" fill="#242424"/><rect x="694.61" y="200" width="1.4" height="8" fill="#242424"/><rect x="708.61" y="200" width="1.3" height="8" fill="#242424"/><rect x="667.81" y="200" width="12.3" height="8" fill="#9b9b9b"/><rect x="682.21" y="200" width="11.6" height="8" fill="#969696"/><rect x="696.01" y="200" width="11.8" height="8" fill="#969696"/><rect x="709.91" y="200" width="11.7" height="8" fill="#8d8d8d"/><rect x="667.21" y="208" width="55.8" height="10" fill="#5b5b5b"/><rect x="680.91" y="208" width="1.3" height="10" fill="#242424"/><rect x="694.61" y="208" width="1.4" height="10" fill="#242424"/><rect x="708.61" y="208" width="1.3" height="10" fill="#242424"/><rect x="667.81" y="208" width="12.3" height="10" fill="#969696"/><rect x="682.21" y="208" width="11.6" height="10" fill="#9b9b9b"/><rect x="696.01" y="208" width="11.8" height="10" fill="#969696"/><rect x="709.91" y="208" width="11.7" height="10" fill="#8d8d8d"/><rect x="667.21" y="218" width="55.8" height="6" fill="#5b5b5b"/><rect x="680.91" y="218" width="1.3" height="6" fill="#242424"/><rect x="694.61" y="218" width="1.4" height="6" fill="#242424"/><rect x="708.61" y="218" width="1.3" height="6" fill="#242424"/><rect x="667.81" y="218" width="12.3" height="6" fill="#969696"/><rect x="682.21" y="218" width="11.6" height="6" fill="#969696"/><rect x="696.01" y="218" width="11.8" height="6" fill="#929292"/><rect x="709.91" y="218" width="11.7" height="6" fill="#8d8d8d"/><rect x="667.21" y="224" width="55.8" height="8" fill="#5b5b5b"/><rect x="680.91" y="224" width="1.3" height="8" fill="#242424"/><rect x="694.61" y="224" width="1.4" height="8" fill="#242424"/><rect x="708.61" y="224" width="1.3" height="8" fill="#242424"/><rect x="667.81" y="224" width="12.3" height="8" fill="#a8a8a8"/><rect x="682.21" y="224" width="11.6" height="8" fill="#a4a4a4"/><rect x="696.01" y="224" width="11.8" height="8" fill="#9f9f9f"/><rect x="709.91" y="224" width="11.7" height="8" fill="#a4a4a4"/><rect x="667.21" y="232" width="55.8" height="8" fill="#5b5b5b"/><rect x="680.91" y="232" width="1.3" height="8" fill="#262626"/><rect x="694.61" y="232" width="1.4" height="8" fill="#262626"/><rect x="708.61" y="232" width="1.3" height="8" fill="#262626"/><rect x="667.81" y="232" width="12.3" height="8" fill="#a8a8a8"/><rect x="682.21" y="232" width="11.6" height="8" fill="#ababab"/><rect x="696.01" y="232" width="11.8" height="8" fill="#a4a4a4"/><rect x="709.91" y="232" width="11.7" height="8" fill="#9f9f9f"/><rect x="667.21" y="240" width="55.8" height="7" fill="#5b5b5b"/><rect x="680.91" y="240" width="1.3" height="7" fill="#272727"/><rect x="694.61" y="240" width="1.4" height="7" fill="#272727"/><rect x="708.61" y="240" width="1.3" height="7" fill="#272727"/><rect x="667.81" y="240" width="12.3" height="7" fill="#adadad"/><rect x="682.21" y="240" width="11.6" height="7" fill="#ababab"/><rect x="696.01" y="240" width="11.8" height="7" fill="#a4a4a4"/><rect x="709.91" y="240" width="11.7" height="7" fill="#9f9f9f"/><rect x="667.21" y="247" width="55.8" height="6" fill="#5b5b5b"/><rect x="680.91" y="247" width="1.3" height="6" fill="#242424"/><rect x="694.61" y="247" width="1.4" height="6" fill="#242424"/><rect x="708.61" y="247" width="1.3" height="6" fill="#242424"/><rect x="667.81" y="247" width="12.3" height="6" fill="#a4a4a4"/><rect x="682.21" y="247" width="11.6" height="6" fill="#a4a4a4"/><rect x="696.01" y="247" width="11.8" height="6" fill="#9f9f9f"/><rect x="709.91" y="247" width="11.7" height="6" fill="#9b9b9b"/><rect x="667.21" y="253" width="55.8" height="8" fill="#5b5b5b"/><rect x="680.91" y="253" width="1.3" height="8" fill="#242424"/><rect x="694.61" y="253" width="1.4" height="8" fill="#242424"/><rect x="708.61" y="253" width="1.3" height="8" fill="#242424"/><rect x="667.81" y="253" width="12.3" height="8" fill="#a8a8a8"/><rect x="682.21" y="253" width="11.6" height="8" fill="#a8a8a8"/><rect x="696.01" y="253" width="11.8" height="8" fill="#a4a4a4"/><rect x="709.91" y="253" width="11.7" height="8" fill="#9b9b9b"/><rect x="667.21" y="261" width="55.8" height="7" fill="#5b5b5b"/><rect x="680.91" y="261" width="1.3" height="7" fill="#2d2d2d"/><rect x="694.61" y="261" width="1.4" height="7" fill="#2d2d2d"/><rect x="708.61" y="261" width="1.3" height="7" fill="#2d2d2d"/><rect x="667.81" y="261" width="12.3" height="7" fill="#b8b8b8"/><rect x="682.21" y="261" width="11.6" height="7" fill="#b6b6b6"/><rect x="696.01" y="261" width="11.8" height="7" fill="#a8a8a8"/><rect x="709.91" y="261" width="11.7" height="7" fill="#9b9b9b"/><rect x="667.21" y="268" width="55.8" height="8" fill="#5b5b5b"/><rect x="680.91" y="268" width="1.3" height="8" fill="#282828"/><rect x="694.61" y="268" width="1.4" height="8" fill="#282828"/><rect x="708.61" y="268" width="1.3" height="8" fill="#282828"/><rect x="667.81" y="268" width="12.3" height="8" fill="#b4b4b4"/><rect x="682.21" y="268" width="11.6" height="8" fill="#b2b2b2"/><rect x="696.01" y="268" width="11.8" height="8" fill="#a4a4a4"/><rect x="709.91" y="268" width="11.7" height="8" fill="#969696"/><rect x="667.21" y="276" width="55.8" height="10" fill="#5b5b5b"/><rect x="680.91" y="276" width="1.3" height="10" fill="#242424"/><rect x="694.61" y="276" width="1.4" height="10" fill="#242424"/><rect x="708.61" y="276" width="1.3" height="10" fill="#242424"/><rect x="667.81" y="276" width="12.3" height="10" fill="#929292"/><rect x="682.21" y="276" width="11.6" height="10" fill="#929292"/><rect x="696.01" y="276" width="11.8" height="10" fill="#8d8d8d"/><rect x="709.91" y="276" width="11.7" height="10" fill="#8d8d8d"/><rect x="667.21" y="286" width="55.8" height="7" fill="#5b5b5b"/><rect x="680.91" y="286" width="1.3" height="7" fill="#242424"/><rect x="694.61" y="286" width="1.4" height="7" fill="#242424"/><rect x="708.61" y="286" width="1.3" height="7" fill="#242424"/><rect x="667.81" y="286" width="12.3" height="7" fill="#969696"/><rect x="682.21" y="286" width="11.6" height="7" fill="#969696"/><rect x="696.01" y="286" width="11.8" height="7" fill="#969696"/><rect x="709.91" y="286" width="11.7" height="7" fill="#969696"/><rect x="667.21" y="293" width="55.8" height="7" fill="#5b5b5b"/><rect x="680.91" y="293" width="1.3" height="7" fill="#272727"/><rect x="694.61" y="293" width="1.4" height="7" fill="#272727"/><rect x="708.61" y="293" width="1.3" height="7" fill="#272727"/><rect x="667.81" y="293" width="12.3" height="7" fill="#a8a8a8"/><rect x="682.21" y="293" width="11.6" height="7" fill="#a4a4a4"/><rect x="696.01" y="293" width="11.8" height="7" fill="#a8a8a8"/><rect x="709.91" y="293" width="11.7" height="7" fill="#a4a4a4"/><rect x="667.21" y="300" width="55.8" height="9" fill="#5b5b5b"/><rect x="680.91" y="300" width="1.3" height="9" fill="#242424"/><rect x="694.61" y="300" width="1.4" height="9" fill="#242424"/><rect x="708.61" y="300" width="1.3" height="9" fill="#242424"/><rect x="667.81" y="300" width="12.3" height="9" fill="#9b9b9b"/><rect x="682.21" y="300" width="11.6" height="9" fill="#9b9b9b"/><rect x="696.01" y="300" width="11.8" height="9" fill="#9b9b9b"/><rect x="709.91" y="300" width="11.7" height="9" fill="#9b9b9b"/><rect x="667.21" y="309" width="55.8" height="7" fill="#5b5b5b"/><rect x="680.91" y="309" width="1.3" height="7" fill="#3d3d3d"/><rect x="694.61" y="309" width="1.4" height="7" fill="#3d3d3d"/><rect x="708.61" y="309" width="1.3" height="7" fill="#3d3d3d"/><rect x="667.81" y="309" width="12.3" height="7" fill="#c2c2c2"/><rect x="682.21" y="309" width="11.6" height="7" fill="#bfbfbf"/><rect x="696.01" y="309" width="11.8" height="7" fill="#bbbbbb"/><rect x="709.91" y="309" width="11.7" height="7" fill="#b6b6b6"/><rect x="667.21" y="316" width="55.8" height="8" fill="#5b5b5b"/><rect x="680.91" y="316" width="1.3" height="8" fill="#272727"/><rect x="694.61" y="316" width="1.4" height="8" fill="#272727"/><rect x="708.61" y="316" width="1.3" height="8" fill="#272727"/><rect x="667.81" y="316" width="12.3" height="8" fill="#a8a8a8"/><rect x="682.21" y="316" width="11.6" height="8" fill="#a8a8a8"/><rect x="696.01" y="316" width="11.8" height="8" fill="#a4a4a4"/><rect x="709.91" y="316" width="11.7" height="8" fill="#a4a4a4"/><rect x="667.21" y="324" width="55.8" height="12" fill="#5b5b5b"/><rect x="680.91" y="324" width="1.3" height="12" fill="#242424"/><rect x="694.61" y="324" width="1.4" height="12" fill="#242424"/><rect x="708.61" y="324" width="1.3" height="12" fill="#242424"/><rect x="667.81" y="324" width="12.3" height="12" fill="#9f9f9f"/><rect x="682.21" y="324" width="11.6" height="12" fill="#9f9f9f"/><rect x="696.01" y="324" width="11.8" height="12" fill="#9f9f9f"/><rect x="709.91" y="324" width="11.7" height="12" fill="#9f9f9f"/><rect x="667.21" y="336" width="55.8" height="13" fill="#5b5b5b"/><rect x="680.91" y="336" width="1.3" height="13" fill="#242424"/><rect x="694.61" y="336" width="1.4" height="13" fill="#242424"/><rect x="708.61" y="336" width="1.3" height="13" fill="#242424"/><rect x="667.81" y="336" width="12.3" height="13" fill="#969696"/><rect x="682.21" y="336" width="11.6" height="13" fill="#969696"/><rect x="696.01" y="336" width="11.8" height="13" fill="#9b9b9b"/><rect x="709.91" y="336" width="11.7" height="13" fill="#969696"/><rect x="667.21" y="349" width="55.8" height="13" fill="#5b5b5b"/><rect x="680.91" y="349" width="1.3" height="13" fill="#242424"/><rect x="694.61" y="349" width="1.4" height="13" fill="#242424"/><rect x="708.61" y="349" width="1.3" height="13" fill="#242424"/><rect x="667.81" y="349" width="12.3" height="13" fill="#a4a4a4"/><rect x="682.21" y="349" width="11.6" height="13" fill="#a4a4a4"/><rect x="696.01" y="349" width="11.8" height="13" fill="#9b9b9b"/><rect x="709.91" y="349" width="11.7" height="13" fill="#929292"/><rect x="667.21" y="362" width="55.8" height="10" fill="#5b5b5b"/><rect x="680.91" y="362" width="1.3" height="10" fill="#242424"/><rect x="694.61" y="362" width="1.4" height="10" fill="#242424"/><rect x="708.61" y="362" width="1.3" height="10" fill="#242424"/><rect x="667.81" y="362" width="12.3" height="10" fill="#929292"/><rect x="682.21" y="362" width="11.6" height="10" fill="#9b9b9b"/><rect x="696.01" y="362" width="11.8" height="10" fill="#929292"/><rect x="709.91" y="362" width="11.7" height="10" fill="#898989"/><rect x="667.21" y="372" width="55.8" height="14" fill="#5b5b5b"/><rect x="680.91" y="372" width="1.3" height="14" fill="#242424"/><rect x="694.61" y="372" width="1.4" height="14" fill="#242424"/><rect x="708.61" y="372" width="1.3" height="14" fill="#242424"/><rect x="667.81" y="372" width="12.3" height="14" fill="#969696"/><rect x="682.21" y="372" width="11.6" height="14" fill="#9b9b9b"/><rect x="696.01" y="372" width="11.8" height="14" fill="#929292"/><rect x="709.91" y="372" width="11.7" height="14" fill="#898989"/><rect x="667.21" y="386" width="55.8" height="10" fill="#5b5b5b"/><rect x="680.91" y="386" width="1.3" height="10" fill="#242424"/><rect x="694.61" y="386" width="1.4" height="10" fill="#242424"/><rect x="708.61" y="386" width="1.3" height="10" fill="#242424"/><rect x="667.81" y="386" width="12.3" height="10" fill="#9f9f9f"/><rect x="682.21" y="386" width="11.6" height="10" fill="#9f9f9f"/><rect x="696.01" y="386" width="11.8" height="10" fill="#969696"/><rect x="709.91" y="386" width="11.7" height="10" fill="#8d8d8d"/><rect x="667.21" y="396" width="55.8" height="7" fill="#5b5b5b"/><rect x="680.91" y="396" width="1.3" height="7" fill="#2a2a2a"/><rect x="694.61" y="396" width="1.4" height="7" fill="#2a2a2a"/><rect x="708.61" y="396" width="1.3" height="7" fill="#2a2a2a"/><rect x="667.81" y="396" width="12.3" height="7" fill="#adadad"/><rect x="682.21" y="396" width="11.6" height="7" fill="#adadad"/><rect x="696.01" y="396" width="11.8" height="7" fill="#a8a8a8"/><rect x="709.91" y="396" width="11.7" height="7" fill="#a4a4a4"/><rect x="667.21" y="403" width="55.8" height="9" fill="#5b5b5b"/><rect x="680.91" y="403" width="1.3" height="9" fill="#444444"/><rect x="694.61" y="403" width="1.4" height="9" fill="#444444"/><rect x="708.61" y="403" width="1.3" height="9" fill="#444444"/><rect x="667.81" y="403" width="12.3" height="9" fill="#c8c8c8"/><rect x="682.21" y="403" width="11.6" height="9" fill="#c8c8c8"/><rect x="696.01" y="403" width="11.8" height="9" fill="#c4c4c4"/><rect x="709.91" y="403" width="11.7" height="9" fill="#bbbbbb"/><rect x="667.21" y="412" width="55.8" height="8" fill="#5b5b5b"/><rect x="680.91" y="412" width="1.3" height="8" fill="#515151"/><rect x="694.61" y="412" width="1.4" height="8" fill="#515151"/><rect x="708.61" y="412" width="1.3" height="8" fill="#515151"/><rect x="667.81" y="412" width="12.3" height="8" fill="#d6d6d6"/><rect x="682.21" y="412" width="11.6" height="8" fill="#d1d1d1"/><rect x="696.01" y="412" width="11.8" height="8" fill="#d1d1d1"/><rect x="709.91" y="412" width="11.7" height="8" fill="#c8c8c8"/><rect x="667.21" y="420" width="55.8" height="3" fill="#5b5b5b"/><rect x="680.91" y="420" width="1.3" height="3" fill="#4c4c4c"/><rect x="694.61" y="420" width="1.4" height="3" fill="#4c4c4c"/><rect x="708.61" y="420" width="1.3" height="3" fill="#4c4c4c"/><rect x="667.81" y="420" width="12.3" height="3" fill="#cdcdcd"/><rect x="682.21" y="420" width="11.6" height="3" fill="#cdcdcd"/><rect x="696.01" y="420" width="11.8" height="3" fill="#cdcdcd"/><rect x="709.91" y="420" width="11.7" height="3" fill="#c8c8c8"/><rect x="667.21" y="423" width="55.8" height="20" fill="#bfbfbf"/><rect x="680.91" y="423" width="1.3" height="20" fill="#dbdbdb"/><rect x="694.61" y="423" width="1.4" height="20" fill="#dbdbdb"/><rect x="708.61" y="423" width="1.3" height="20" fill="#dbdbdb"/><rect x="667.81" y="423" width="12.3" height="20" fill="#fafafa"/><rect x="682.21" y="423" width="11.6" height="20" fill="#fafafa"/><rect x="696.01" y="423" width="11.8" height="20" fill="#fafafa"/><rect x="709.91" y="423" width="11.7" height="20" fill="#fafafa"/><rect x="667.21" y="443" width="55.8" height="7" fill="#898989"/><rect x="680.91" y="443" width="1.3" height="7" fill="#525252"/><rect x="694.61" y="443" width="1.4" height="7" fill="#525252"/><rect x="708.61" y="443" width="1.3" height="7" fill="#525252"/><rect x="667.81" y="443" width="12.3" height="7" fill="#d1d1d1"/><rect x="682.21" y="443" width="11.6" height="7" fill="#d1d1d1"/><rect x="696.01" y="443" width="11.8" height="7" fill="#d1d1d1"/><rect x="709.91" y="443" width="11.7" height="7" fill="#d1d1d1"/><rect x="667.21" y="450" width="55.8" height="5" fill="#898989"/><rect x="680.91" y="450" width="1.3" height="5" fill="#5c5c5c"/><rect x="694.61" y="450" width="1.4" height="5" fill="#5c5c5c"/><rect x="708.61" y="450" width="1.3" height="5" fill="#5c5c5c"/><rect x="667.81" y="450" width="12.3" height="5" fill="#dfdfdf"/><rect x="682.21" y="450" width="11.6" height="5" fill="#dbdbdb"/><rect x="696.01" y="450" width="11.8" height="5" fill="#dfdfdf"/><rect x="709.91" y="450" width="11.7" height="5" fill="#d6d6d6"/><rect x="667.21" y="455" width="55.8" height="7" fill="#5b5b5b"/><rect x="680.91" y="455" width="1.3" height="7" fill="#393939"/><rect x="694.61" y="455" width="1.4" height="7" fill="#393939"/><rect x="708.61" y="455" width="1.3" height="7" fill="#393939"/><rect x="667.81" y="455" width="12.3" height="7" fill="#bbbbbb"/><rect x="682.21" y="455" width="11.6" height="7" fill="#bbbbbb"/><rect x="696.01" y="455" width="11.8" height="7" fill="#b6b6b6"/><rect x="709.91" y="455" width="11.7" height="7" fill="#b6b6b6"/><rect x="667.21" y="462" width="55.8" height="17" fill="#5b5b5b"/><rect x="680.91" y="462" width="1.3" height="17" fill="#252525"/><rect x="694.61" y="462" width="1.4" height="17" fill="#252525"/><rect x="708.61" y="462" width="1.3" height="17" fill="#252525"/><rect x="667.81" y="462" width="12.3" height="17" fill="#a4a4a4"/><rect x="682.21" y="462" width="11.6" height="17" fill="#a6a6a6"/><rect x="696.01" y="462" width="11.8" height="17" fill="#a4a4a4"/><rect x="709.91" y="462" width="11.7" height="17" fill="#a4a4a4"/><rect x="667.21" y="479" width="55.8" height="14" fill="#5b5b5b"/><rect x="680.91" y="479" width="1.3" height="14" fill="#242424"/><rect x="694.61" y="479" width="1.4" height="14" fill="#242424"/><rect x="708.61" y="479" width="1.3" height="14" fill="#242424"/><rect x="667.81" y="479" width="12.3" height="14" fill="#9f9f9f"/><rect x="682.21" y="479" width="11.6" height="14" fill="#9f9f9f"/><rect x="696.01" y="479" width="11.8" height="14" fill="#9b9b9b"/><rect x="709.91" y="479" width="11.7" height="14" fill="#9f9f9f"/><rect x="667.21" y="493" width="55.8" height="10" fill="#5b5b5b"/><rect x="680.91" y="493" width="1.3" height="10" fill="#2a2a2a"/><rect x="694.61" y="493" width="1.4" height="10" fill="#2a2a2a"/><rect x="708.61" y="493" width="1.3" height="10" fill="#2a2a2a"/><rect x="667.81" y="493" width="12.3" height="10" fill="#adadad"/><rect x="682.21" y="493" width="11.6" height="10" fill="#adadad"/><rect x="696.01" y="493" width="11.8" height="10" fill="#a6a6a6"/><rect x="709.91" y="493" width="11.7" height="10" fill="#a4a4a4"/><rect x="667.21" y="503" width="55.8" height="15" fill="#5b5b5b"/><rect x="680.91" y="503" width="1.3" height="15" fill="#242424"/><rect x="694.61" y="503" width="1.4" height="15" fill="#242424"/><rect x="708.61" y="503" width="1.3" height="15" fill="#242424"/><rect x="667.81" y="503" width="12.3" height="15" fill="#a2a2a2"/><rect x="682.21" y="503" width="11.6" height="15" fill="#a2a2a2"/><rect x="696.01" y="503" width="11.8" height="15" fill="#9f9f9f"/><rect x="709.91" y="503" width="11.7" height="15" fill="#9f9f9f"/><rect x="667.21" y="518" width="55.8" height="5" fill="#5b5b5b"/><rect x="680.91" y="518" width="1.3" height="5" fill="#242424"/><rect x="694.61" y="518" width="1.4" height="5" fill="#242424"/><rect x="708.61" y="518" width="1.3" height="5" fill="#242424"/><rect x="667.81" y="518" width="12.3" height="5" fill="#969696"/><rect x="682.21" y="518" width="11.6" height="5" fill="#969696"/><rect x="696.01" y="518" width="11.8" height="5" fill="#969696"/><rect x="709.91" y="518" width="11.7" height="5" fill="#969696"/><rect x="667.21" y="523" width="55.8" height="14" fill="#5b5b5b"/><rect x="680.91" y="523" width="1.3" height="14" fill="#242424"/><rect x="694.61" y="523" width="1.4" height="14" fill="#242424"/><rect x="708.61" y="523" width="1.3" height="14" fill="#242424"/><rect x="667.81" y="523" width="12.3" height="14" fill="#a4a4a4"/><rect x="682.21" y="523" width="11.6" height="14" fill="#a2a2a2"/><rect x="696.01" y="523" width="11.8" height="14" fill="#9f9f9f"/><rect x="709.91" y="523" width="11.7" height="14" fill="#9b9b9b"/><rect x="667.21" y="537" width="55.8" height="8" fill="#5b5b5b"/><rect x="680.91" y="537" width="1.3" height="8" fill="#242424"/><rect x="694.61" y="537" width="1.4" height="8" fill="#242424"/><rect x="708.61" y="537" width="1.3" height="8" fill="#242424"/><rect x="667.81" y="537" width="12.3" height="8" fill="#9b9b9b"/><rect x="682.21" y="537" width="11.6" height="8" fill="#9b9b9b"/><rect x="696.01" y="537" width="11.8" height="8" fill="#9b9b9b"/><rect x="709.91" y="537" width="11.7" height="8" fill="#9b9b9b"/><rect x="667.21" y="545" width="55.8" height="7" fill="#5b5b5b"/><rect x="680.91" y="545" width="1.3" height="7" fill="#313131"/><rect x="694.61" y="545" width="1.4" height="7" fill="#313131"/><rect x="708.61" y="545" width="1.3" height="7" fill="#313131"/><rect x="667.81" y="545" width="12.3" height="7" fill="#b2b2b2"/><rect x="682.21" y="545" width="11.6" height="7" fill="#b2b2b2"/><rect x="696.01" y="545" width="11.8" height="7" fill="#b2b2b2"/><rect x="709.91" y="545" width="11.7" height="7" fill="#adadad"/><rect x="667.21" y="552" width="55.8" height="8" fill="#5b5b5b"/><rect x="680.91" y="552" width="1.3" height="8" fill="#4b4b4b"/><rect x="694.61" y="552" width="1.4" height="8" fill="#4b4b4b"/><rect x="708.61" y="552" width="1.3" height="8" fill="#4b4b4b"/><rect x="667.81" y="552" width="12.3" height="8" fill="#cccccc"/><rect x="682.21" y="552" width="11.6" height="8" fill="#d1d1d1"/><rect x="696.01" y="552" width="11.8" height="8" fill="#cccccc"/><rect x="709.91" y="552" width="11.7" height="8" fill="#c3c3c3"/><rect x="667.21" y="560" width="55.8" height="5" fill="#898989"/><rect x="680.91" y="560" width="1.3" height="5" fill="#545454"/><rect x="694.61" y="560" width="1.4" height="5" fill="#545454"/><rect x="708.61" y="560" width="1.3" height="5" fill="#545454"/><rect x="667.81" y="560" width="12.3" height="5" fill="#d5d5d5"/><rect x="682.21" y="560" width="11.6" height="5" fill="#d5d5d5"/><rect x="696.01" y="560" width="11.8" height="5" fill="#d5d5d5"/><rect x="709.91" y="560" width="11.7" height="5" fill="#d1d1d1"/><rect x="667.21" y="565" width="55.8" height="6" fill="#bfbfbf"/><rect x="680.91" y="565" width="1.3" height="6" fill="#dbdbdb"/><rect x="694.61" y="565" width="1.4" height="6" fill="#dbdbdb"/><rect x="708.61" y="565" width="1.3" height="6" fill="#dbdbdb"/><rect x="667.81" y="565" width="12.3" height="6" fill="#dfdfdf"/><rect x="682.21" y="565" width="11.6" height="6" fill="#dfdfdf"/><rect x="696.01" y="565" width="11.8" height="6" fill="#dfdfdf"/><rect x="709.91" y="565" width="11.7" height="6" fill="#dfdfdf"/><rect x="667.21" y="571" width="55.8" height="5" fill="#898989"/><rect x="680.91" y="571" width="1.3" height="5" fill="#525252"/><rect x="694.61" y="571" width="1.4" height="5" fill="#525252"/><rect x="708.61" y="571" width="1.3" height="5" fill="#525252"/><rect x="667.81" y="571" width="12.3" height="5" fill="#d5d5d5"/><rect x="682.21" y="571" width="11.6" height="5" fill="#d1d1d1"/><rect x="696.01" y="571" width="11.8" height="5" fill="#d1d1d1"/><rect x="709.91" y="571" width="11.7" height="5" fill="#d1d1d1"/><rect x="667.21" y="576" width="55.8" height="7" fill="#5b5b5b"/><rect x="680.91" y="576" width="1.3" height="7" fill="#515151"/><rect x="694.61" y="576" width="1.4" height="7" fill="#515151"/><rect x="708.61" y="576" width="1.3" height="7" fill="#515151"/><rect x="667.81" y="576" width="12.3" height="7" fill="#dadada"/><rect x="682.21" y="576" width="11.6" height="7" fill="#d1d1d1"/><rect x="696.01" y="576" width="11.8" height="7" fill="#cccccc"/><rect x="709.91" y="576" width="11.7" height="7" fill="#cccccc"/><rect x="667.21" y="583" width="55.8" height="6" fill="#5b5b5b"/><rect x="680.91" y="583" width="1.3" height="6" fill="#494949"/><rect x="694.61" y="583" width="1.4" height="6" fill="#494949"/><rect x="708.61" y="583" width="1.3" height="6" fill="#494949"/><rect x="667.81" y="583" width="12.3" height="6" fill="#cccccc"/><rect x="682.21" y="583" width="11.6" height="6" fill="#c7c7c7"/><rect x="696.01" y="583" width="11.8" height="6" fill="#c7c7c7"/><rect x="709.91" y="583" width="11.7" height="6" fill="#c7c7c7"/><rect x="667.21" y="589" width="55.8" height="11" fill="#5b5b5b"/><rect x="680.91" y="589" width="1.3" height="11" fill="#3a3a3a"/><rect x="694.61" y="589" width="1.4" height="11" fill="#3a3a3a"/><rect x="708.61" y="589" width="1.3" height="11" fill="#3a3a3a"/><rect x="667.81" y="589" width="12.3" height="11" fill="#bbbbbb"/><rect x="682.21" y="589" width="11.6" height="11" fill="#bbbbbb"/><rect x="696.01" y="589" width="11.8" height="11" fill="#bbbbbb"/><rect x="709.91" y="589" width="11.7" height="11" fill="#b6b6b6"/><rect x="667.21" y="600" width="55.8" height="11" fill="#5b5b5b"/><rect x="680.91" y="600" width="1.3" height="11" fill="#2a2a2a"/><rect x="694.61" y="600" width="1.4" height="11" fill="#2a2a2a"/><rect x="708.61" y="600" width="1.3" height="11" fill="#2a2a2a"/><rect x="667.81" y="600" width="12.3" height="11" fill="#a8a8a8"/><rect x="682.21" y="600" width="11.6" height="11" fill="#adadad"/><rect x="696.01" y="600" width="11.8" height="11" fill="#a8a8a8"/><rect x="709.91" y="600" width="11.7" height="11" fill="#a8a8a8"/><rect x="667.21" y="611" width="55.8" height="9" fill="#5b5b5b"/><rect x="680.91" y="611" width="1.3" height="9" fill="#242424"/><rect x="694.61" y="611" width="1.4" height="9" fill="#242424"/><rect x="708.61" y="611" width="1.3" height="9" fill="#242424"/><rect x="667.81" y="611" width="12.3" height="9" fill="#9b9b9b"/><rect x="682.21" y="611" width="11.6" height="9" fill="#9f9f9f"/><rect x="696.01" y="611" width="11.8" height="9" fill="#9b9b9b"/><rect x="709.91" y="611" width="11.7" height="9" fill="#9f9f9f"/><rect x="667.21" y="620" width="55.8" height="6" fill="#5b5b5b"/><rect x="680.91" y="620" width="1.3" height="6" fill="#282828"/><rect x="694.61" y="620" width="1.4" height="6" fill="#282828"/><rect x="708.61" y="620" width="1.3" height="6" fill="#282828"/><rect x="667.81" y="620" width="12.3" height="6" fill="#adadad"/><rect x="682.21" y="620" width="11.6" height="6" fill="#a8a8a8"/><rect x="696.01" y="620" width="11.8" height="6" fill="#a4a4a4"/><rect x="709.91" y="620" width="11.7" height="6" fill="#a4a4a4"/><rect x="667.21" y="626" width="55.8" height="8" fill="#5b5b5b"/><rect x="680.91" y="626" width="1.3" height="8" fill="#282828"/><rect x="694.61" y="626" width="1.4" height="8" fill="#282828"/><rect x="708.61" y="626" width="1.3" height="8" fill="#282828"/><rect x="667.81" y="626" width="12.3" height="8" fill="#a8a8a8"/><rect x="682.21" y="626" width="11.6" height="8" fill="#9f9f9f"/><rect x="696.01" y="626" width="11.8" height="8" fill="#a4a4a4"/><rect x="709.91" y="626" width="11.7" height="8" fill="#b2b2b2"/><rect x="667.21" y="634" width="55.8" height="14" fill="#5b5b5b"/><rect x="680.91" y="634" width="1.3" height="14" fill="#242424"/><rect x="694.61" y="634" width="1.4" height="14" fill="#242424"/><rect x="708.61" y="634" width="1.3" height="14" fill="#242424"/><rect x="667.81" y="634" width="12.3" height="14" fill="#9f9f9f"/><rect x="682.21" y="634" width="11.6" height="14" fill="#9b9b9b"/><rect x="696.01" y="634" width="11.8" height="14" fill="#9f9f9f"/><rect x="709.91" y="634" width="11.7" height="14" fill="#9f9f9f"/><rect x="667.21" y="648" width="55.8" height="17" fill="#5b5b5b"/><rect x="680.91" y="648" width="1.3" height="17" fill="#242424"/><rect x="694.61" y="648" width="1.4" height="17" fill="#242424"/><rect x="708.61" y="648" width="1.3" height="17" fill="#242424"/><rect x="667.81" y="648" width="12.3" height="17" fill="#9f9f9f"/><rect x="682.21" y="648" width="11.6" height="17" fill="#9b9b9b"/><rect x="696.01" y="648" width="11.8" height="17" fill="#969696"/><rect x="709.91" y="648" width="11.7" height="17" fill="#969696"/><rect x="667.21" y="665" width="55.8" height="9" fill="#5b5b5b"/><rect x="680.91" y="665" width="1.3" height="9" fill="#242424"/><rect x="694.61" y="665" width="1.4" height="9" fill="#242424"/><rect x="708.61" y="665" width="1.3" height="9" fill="#242424"/><rect x="667.81" y="665" width="12.3" height="9" fill="#9f9f9f"/><rect x="682.21" y="665" width="11.6" height="9" fill="#9b9b9b"/><rect x="696.01" y="665" width="11.8" height="9" fill="#9b9b9b"/><rect x="709.91" y="665" width="11.7" height="9" fill="#929292"/><rect x="667.21" y="674" width="55.8" height="17" fill="#5b5b5b"/><rect x="680.91" y="674" width="1.3" height="17" fill="#242424"/><rect x="694.61" y="674" width="1.4" height="17" fill="#242424"/><rect x="708.61" y="674" width="1.3" height="17" fill="#242424"/><rect x="667.81" y="674" width="12.3" height="17" fill="#9b9b9b"/><rect x="682.21" y="674" width="11.6" height="17" fill="#9b9b9b"/><rect x="696.01" y="674" width="11.8" height="17" fill="#a4a4a4"/><rect x="709.91" y="674" width="11.7" height="17" fill="#9b9b9b"/><rect x="667.21" y="691" width="55.8" height="17" fill="#5b5b5b"/><rect x="680.91" y="691" width="1.3" height="17" fill="#242424"/><rect x="694.61" y="691" width="1.4" height="17" fill="#242424"/><rect x="708.61" y="691" width="1.3" height="17" fill="#242424"/><rect x="667.81" y="691" width="12.3" height="17" fill="#9f9f9f"/><rect x="682.21" y="691" width="11.6" height="17" fill="#9b9b9b"/><rect x="696.01" y="691" width="11.8" height="17" fill="#9f9f9f"/><rect x="709.91" y="691" width="11.7" height="17" fill="#969696"/><rect x="667.21" y="708" width="55.8" height="32" fill="#5b5b5b"/><rect x="680.91" y="708" width="1.3" height="32" fill="#242424"/><rect x="694.61" y="708" width="1.4" height="32" fill="#242424"/><rect x="708.61" y="708" width="1.3" height="32" fill="#242424"/><rect x="667.81" y="708" width="12.3" height="32" fill="#adadad"/><rect x="682.21" y="708" width="11.6" height="32" fill="#9f9f9f"/><rect x="696.01" y="708" width="11.8" height="32" fill="#9f9f9f"/><rect x="709.91" y="708" width="11.7" height="32" fill="#969696"/></g>
<rect x="555.81" y="108" width="111.2" height="3" fill="#3b3b3b"/><rect x="722.41" y="108" width="10.3" height="3" fill="#3b3b3b"/><rect x="555.81" y="168" width="111.2" height="8" fill="#303030"/><rect x="722.41" y="168" width="10.3" height="8" fill="#303030"/><rect x="555.81" y="276" width="111.2" height="8" fill="#343434"/><rect x="722.41" y="276" width="10.3" height="8" fill="#343434"/><rect x="555.81" y="326" width="111.2" height="5" fill="#404040"/><rect x="722.41" y="326" width="10.3" height="5" fill="#404040"/><rect x="555.81" y="336" width="111.2" height="3" fill="#444444"/><rect x="722.41" y="336" width="10.3" height="3" fill="#444444"/><rect x="555.81" y="509" width="111.2" height="3" fill="#373737"/><rect x="722.41" y="509" width="10.3" height="3" fill="#373737"/><rect x="555.81" y="518" width="111.2" height="3" fill="#444444"/><rect x="722.41" y="518" width="10.3" height="3" fill="#444444"/><rect x="555.81" y="643" width="111.2" height="2" fill="#474747"/><rect x="722.41" y="643" width="10.3" height="2" fill="#474747"/><rect x="555.81" y="152" width="111.2" height="1" fill="#404040"/><rect x="722.41" y="152" width="10.3" height="1" fill="#404040"/><rect x="555.81" y="536" width="111.2" height="12" fill="#323232"/><rect x="722.41" y="536" width="10.3" height="12" fill="#323232"/><rect x="555.81" y="423" width="111.6" height="3" fill="#b2b2b2"/><rect x="722.01" y="423" width="10.7" height="3" fill="#a8a8a8"/><rect x="555.81" y="426" width="111.6" height="1" fill="#8d8d8d"/><rect x="722.01" y="426" width="10.7" height="1" fill="#848484"/><rect x="555.81" y="427" width="111.6" height="3" fill="#bfbfbf"/><rect x="722.01" y="427" width="10.7" height="3" fill="#b6b6b6"/><rect x="555.81" y="430" width="111.6" height="4" fill="#cbcbcb"/><rect x="722.01" y="430" width="10.7" height="4" fill="#c2c2c2"/><rect x="555.81" y="434" width="111.6" height="3" fill="#bbbbbb"/><rect x="722.01" y="434" width="10.7" height="3" fill="#b2b2b2"/><rect x="555.81" y="437" width="111.6" height="3" fill="#a8a8a8"/><rect x="722.01" y="437" width="10.7" height="3" fill="#9f9f9f"/><rect x="555.81" y="440" width="111.6" height="2" fill="#929292"/><rect x="722.01" y="440" width="10.7" height="2" fill="#898989"/><rect x="555.81" y="442" width="111.6" height="2" fill="#727272"/><rect x="722.01" y="442" width="10.7" height="2" fill="#696969"/><rect x="555.81" y="565" width="111.6" height="1" fill="#a8a8a8"/><rect x="722.01" y="565" width="10.7" height="1" fill="#9f9f9f"/><rect x="555.81" y="566" width="111.6" height="4" fill="#c2c2c2"/><rect x="722.01" y="566" width="10.7" height="4" fill="#b8b8b8"/><rect x="555.81" y="399" width="111.6" height="1" fill="#a8a8a8"/><rect x="722.01" y="399" width="10.7" height="1" fill="#9f9f9f"/>
</g>
<path d="M557 101h176v7h-176zM557 162h176v1h-176zM557 203h176v1h-176zM557 218h176v1h-176zM557 245h176v2h-176zM557 252h176v1h-176zM557 260h176v1h-176zM557 266h176v1h-176zM557 280h176v1h-176zM557 286h176v1h-176zM557 289h176v1h-176zM557 305h176v1h-176zM557 310h176v1h-176zM557 331h176v5h-176zM557 348h176v1h-176zM557 371h176v1h-176zM557 384h176v1h-176zM557 402h176v1h-176zM557 445h176v1h-176zM557 449h176v1h-176zM557 478h176v1h-176zM557 489h176v1h-176zM557 492h176v1h-176zM557 512h176v6h-176zM557 521h176v2h-176zM557 531h176v5h-176zM557 544h176v1h-176zM557 575h176v1h-176zM557 625h176v1h-176zM557 631h176v1h-176zM557 648h176v1h-176zM557 664h176v1h-176zM557 673h176v1h-176zM557 708h176v7h-176zM557 717h176v1h-176z" fill="#fff"/>
<path d="M557 111h176v1h-176zM557 133h176v1h-176zM557 156h176v1h-176zM557 176h176v1h-176zM557 192h176v1h-176zM557 200h176v1h-176zM557 208h176v1h-176zM557 216h176v1h-176zM557 224h176v1h-176zM557 232h176v1h-176zM557 240h176v1h-176zM557 248h176v2h-176zM557 275h176v1h-176zM557 284h176v2h-176zM557 291h176v2h-176zM557 299h176v1h-176zM557 307h176v2h-176zM557 315h176v1h-176zM557 321h176v2h-176zM557 324h176v2h-176zM557 339h176v1h-176zM557 395h176v1h-176zM557 397h176v1h-176zM557 400h176v1h-176zM557 508h176v1h-176zM557 536h176v1h-176zM557 538h176v1h-176zM557 543h176v1h-176zM557 548h176v1h-176zM557 552h176v1h-176zM557 554h176v1h-176zM557 565h176v1h-176zM557 570h176v1h-176zM557 589h176v1h-176zM557 611h176v1h-176zM557 633h176v1h-176zM557 637h176v1h-176zM557 642h176v1h-176zM557 645h176v3h-176zM557 690h176v1h-176z" fill="#000"/>
<path d="M556.5 720V80.5H733.5V720M556 720H734" fill="none" stroke="#000" stroke-width="1"/><path d="M556 720H734" fill="none" stroke="#000" stroke-width="1.3"/>
<path d="M556.5 720v-5.56M556.5 80.5v5.56M597.5 720v-5.56M597.5 80.5v5.56M639.5 720v-5.56M639.5 80.5v5.56M680.5 720v-5.56M680.5 80.5v5.56M722.5 720v-5.56M722.5 80.5v5.56M556.5 720.5h5.56M733.5 720.5h-5.56M556.5 586.5h5.56M733.5 586.5h-5.56M556.5 453.5h5.56M733.5 453.5h-5.56M556.5 320.5h5.56M733.5 320.5h-5.56M556.5 186.5h5.56M733.5 186.5h-5.56" stroke="#000" stroke-width="0.8" fill="none"/>
<text x="555.81" y="735.6" font-size="11.6" text-anchor="middle">320</text><text x="597.27" y="735.6" font-size="11.6" text-anchor="middle">335</text><text x="638.73" y="735.6" font-size="11.6" text-anchor="middle">350</text><text x="680.19" y="735.6" font-size="11.6" text-anchor="middle">365</text><text x="721.65" y="735.6" font-size="11.6" text-anchor="middle">380</text><text x="550.61" y="723.3" font-size="11.6" text-anchor="end">0</text><text x="550.61" y="589.97" font-size="11.6" text-anchor="end">5</text><text x="550.61" y="456.63" font-size="11.6" text-anchor="end">10</text><text x="550.61" y="323.3" font-size="11.6" text-anchor="end">15</text><text x="550.61" y="189.97" font-size="11.6" text-anchor="end">20</text>
<text x="644.26" y="73" font-size="16.67" font-family="DejaVu Sans Condensed,DejaVu Sans,sans-serif" font-stretch="condensed" text-anchor="middle">XY, V0*V12=EA17*EA10</text>
<g filter="url(#jet3)">
<g filter="url(#bs)"><rect x="756.09" y="60" width="200.9" height="680" fill="#252525"/><rect x="768.09" y="80" width="112" height="21" fill="#2c2c2c"/><rect x="818.09" y="336" width="50" height="64" fill="#313131"/><rect x="818.09" y="404" width="45" height="19" fill="#333333"/><rect x="808.09" y="523" width="40" height="8" fill="#383838"/><rect x="808.09" y="488" width="25" height="18" fill="#353535"/><rect x="854.09" y="120" width="10" height="15" fill="#303030"/><rect x="864.09" y="120" width="17" height="15" fill="#3b3b3b"/><rect x="933.09" y="120" width="6" height="15" fill="#303030"/><rect x="854.09" y="246" width="10" height="30" fill="#2d2d2d"/><rect x="864.09" y="246" width="17" height="30" fill="#343434"/><rect x="933.09" y="246" width="6" height="30" fill="#2d2d2d"/><rect x="854.09" y="403" width="10" height="20" fill="#3c3c3c"/><rect x="864.09" y="403" width="17" height="20" fill="#525252"/><rect x="933.09" y="403" width="6" height="20" fill="#3c3c3c"/><rect x="854.09" y="443" width="10" height="27" fill="#373737"/><rect x="864.09" y="443" width="17" height="27" fill="#494949"/><rect x="933.09" y="443" width="6" height="27" fill="#373737"/><rect x="854.09" y="470" width="10" height="40" fill="#2e2e2e"/><rect x="864.09" y="470" width="17" height="40" fill="#373737"/><rect x="933.09" y="470" width="6" height="40" fill="#2e2e2e"/><rect x="854.09" y="552" width="10" height="13" fill="#373737"/><rect x="864.09" y="552" width="17" height="13" fill="#494949"/><rect x="933.09" y="552" width="6" height="13" fill="#373737"/><rect x="854.09" y="571" width="10" height="29" fill="#393939"/><rect x="864.09" y="571" width="17" height="29" fill="#4d4d4d"/><rect x="933.09" y="571" width="6" height="29" fill="#393939"/><rect x="854.09" y="600" width="10" height="48" fill="#2e2e2e"/><rect x="864.09" y="600" width="17" height="48" fill="#373737"/><rect x="933.09" y="600" width="6" height="48" fill="#2e2e2e"/></g>
<g filter="url(#bm)"><rect x="879.09" y="60" width="55.8" height="48" fill="#5b5b5b"/><rect x="892.79" y="60" width="1.3" height="48" fill="#242424"/><rect x="906.49" y="60" width="1.4" height="48" fill="#242424"/><rect x="920.49" y="60" width="1.3" height="48" fill="#242424"/><rect x="880.09" y="60" width="12.3" height="48" fill="#9d9d9d"/><rect x="894.49" y="60" width="11.6" height="48" fill="#989898"/><rect x="908.29" y="60" width="11.8" height="48" fill="#8f8f8f"/><rect x="922.19" y="60" width="11.7" height="48" fill="#919191"/><rect x="879.09" y="108" width="55.8" height="3" fill="#5b5b5b"/><rect x="892.79" y="108" width="1.3" height="3" fill="#242424"/><rect x="906.49" y="108" width="1.4" height="3" fill="#242424"/><rect x="920.49" y="108" width="1.3" height="3" fill="#242424"/><rect x="880.09" y="108" width="12.3" height="3" fill="#989898"/><rect x="894.49" y="108" width="11.6" height="3" fill="#9d9d9d"/><rect x="908.29" y="108" width="11.8" height="3" fill="#9d9d9d"/><rect x="922.19" y="108" width="11.7" height="3" fill="#a1a1a1"/><rect x="879.09" y="111" width="55.8" height="11" fill="#5b5b5b"/><rect x="892.79" y="111" width="1.3" height="11" fill="#242424"/><rect x="906.49" y="111" width="1.4" height="11" fill="#242424"/><rect x="920.49" y="111" width="1.3" height="11" fill="#242424"/><rect x="880.09" y="111" width="12.3" height="11" fill="#989898"/><rect x="894.49" y="111" width="11.6" height="11" fill="#a3a3a3"/><rect x="908.29" y="111" width="11.8" height="11" fill="#a1a1a1"/><rect x="922.19" y="111" width="11.7" height="11" fill="#8f8f8f"/><rect x="879.09" y="122" width="55.8" height="11" fill="#5b5b5b"/><rect x="892.79" y="122" width="1.3" height="11" fill="#242424"/><rect x="906.49" y="122" width="1.4" height="11" fill="#242424"/><rect x="920.49" y="122" width="1.3" height="11" fill="#242424"/><rect x="880.09" y="122" width="12.3" height="11" fill="#9d9d9d"/><rect x="894.49" y="122" width="11.6" height="11" fill="#a1a1a1"/><rect x="908.29" y="122" width="11.8" height="11" fill="#9d9d9d"/><rect x="922.19" y="122" width="11.7" height="11" fill="#8f8f8f"/><rect x="879.09" y="133" width="55.8" height="12" fill="#5b5b5b"/><rect x="892.79" y="133" width="1.3" height="12" fill="#242424"/><rect x="906.49" y="133" width="1.4" height="12" fill="#242424"/><rect x="920.49" y="133" width="1.3" height="12" fill="#242424"/><rect x="880.09" y="133" width="12.3" height="12" fill="#949494"/><rect x="894.49" y="133" width="11.6" height="12" fill="#949494"/><rect x="908.29" y="133" width="11.8" height="12" fill="#989898"/><rect x="922.19" y="133" width="11.7" height="12" fill="#8a8a8a"/><rect x="879.09" y="145" width="55.8" height="11" fill="#5b5b5b"/><rect x="892.79" y="145" width="1.3" height="11" fill="#242424"/><rect x="906.49" y="145" width="1.4" height="11" fill="#242424"/><rect x="920.49" y="145" width="1.3" height="11" fill="#242424"/><rect x="880.09" y="145" width="12.3" height="11" fill="#989898"/><rect x="894.49" y="145" width="11.6" height="11" fill="#969696"/><rect x="908.29" y="145" width="11.8" height="11" fill="#a1a1a1"/><rect x="922.19" y="145" width="11.7" height="11" fill="#a3a3a3"/><rect x="879.09" y="156" width="55.8" height="6" fill="#5b5b5b"/><rect x="892.79" y="156" width="1.3" height="6" fill="#242424"/><rect x="906.49" y="156" width="1.4" height="6" fill="#242424"/><rect x="920.49" y="156" width="1.3" height="6" fill="#242424"/><rect x="880.09" y="156" width="12.3" height="6" fill="#989898"/><rect x="894.49" y="156" width="11.6" height="6" fill="#989898"/><rect x="908.29" y="156" width="11.8" height="6" fill="#8f8f8f"/><rect x="922.19" y="156" width="11.7" height="6" fill="#949494"/><rect x="879.09" y="162" width="55.8" height="10" fill="#5b5b5b"/><rect x="892.79" y="162" width="1.3" height="10" fill="#242424"/><rect x="906.49" y="162" width="1.4" height="10" fill="#242424"/><rect x="920.49" y="162" width="1.3" height="10" fill="#242424"/><rect x="880.09" y="162" width="12.3" height="10" fill="#a3a3a3"/><rect x="894.49" y="162" width="11.6" height="10" fill="#a3a3a3"/><rect x="908.29" y="162" width="11.8" height="10" fill="#949494"/><rect x="922.19" y="162" width="11.7" height="10" fill="#8f8f8f"/><rect x="879.09" y="172" width="55.8" height="4" fill="#5b5b5b"/><rect x="892.79" y="172" width="1.3" height="4" fill="#242424"/><rect x="906.49" y="172" width="1.4" height="4" fill="#242424"/><rect x="920.49" y="172" width="1.3" height="4" fill="#242424"/><rect x="880.09" y="172" width="12.3" height="4" fill="#989898"/><rect x="894.49" y="172" width="11.6" height="4" fill="#989898"/><rect x="908.29" y="172" width="11.8" height="4" fill="#989898"/><rect x="922.19" y="172" width="11.7" height="4" fill="#8f8f8f"/><rect x="879.09" y="176" width="55.8" height="16" fill="#5b5b5b"/><rect x="892.79" y="176" width="1.3" height="16" fill="#242424"/><rect x="906.49" y="176" width="1.4" height="16" fill="#242424"/><rect x="920.49" y="176" width="1.3" height="16" fill="#242424"/><rect x="880.09" y="176" width="12.3" height="16" fill="#9f9f9f"/><rect x="894.49" y="176" width="11.6" height="16" fill="#9d9d9d"/><rect x="908.29" y="176" width="11.8" height="16" fill="#989898"/><rect x="922.19" y="176" width="11.7" height="16" fill="#8f8f8f"/><rect x="879.09" y="192" width="55.8" height="8" fill="#5b5b5b"/><rect x="892.79" y="192" width="1.3" height="8" fill="#242424"/><rect x="906.49" y="192" width="1.4" height="8" fill="#242424"/><rect x="920.49" y="192" width="1.3" height="8" fill="#242424"/><rect x="880.09" y="192" width="12.3" height="8" fill="#949494"/><rect x="894.49" y="192" width="11.6" height="8" fill="#949494"/><rect x="908.29" y="192" width="11.8" height="8" fill="#8f8f8f"/><rect x="922.19" y="192" width="11.7" height="8" fill="#8f8f8f"/><rect x="879.09" y="200" width="55.8" height="8" fill="#5b5b5b"/><rect x="892.79" y="200" width="1.3" height="8" fill="#242424"/><rect x="906.49" y="200" width="1.4" height="8" fill="#242424"/><rect x="920.49" y="200" width="1.3" height="8" fill="#242424"/><rect x="880.09" y="200" width="12.3" height="8" fill="#949494"/><rect x="894.49" y="200" width="11.6" height="8" fill="#949494"/><rect x="908.29" y="200" width="11.8" height="8" fill="#8f8f8f"/><rect x="922.19" y="200" width="11.7" height="8" fill="#8f8f8f"/><rect x="879.09" y="208" width="55.8" height="10" fill="#5b5b5b"/><rect x="892.79" y="208" width="1.3" height="10" fill="#242424"/><rect x="906.49" y="208" width="1.4" height="10" fill="#242424"/><rect x="920.49" y="208" width="1.3" height="10" fill="#242424"/><rect x="880.09" y="208" width="12.3" height="10" fill="#8f8f8f"/><rect x="894.49" y="208" width="11.6" height="10" fill="#989898"/><rect x="908.29" y="208" width="11.8" height="10" fill="#8f8f8f"/><rect x="922.19" y="208" width="11.7" height="10" fill="#8a8a8a"/><rect x="879.09" y="218" width="55.8" height="6" fill="#5b5b5b"/><rect x="892.79" y="218" width="1.3" height="6" fill="#242424"/><rect x="906.49" y="218" width="1.4" height="6" fill="#242424"/><rect x="920.49" y="218" width="1.3" height="6" fill="#242424"/><rect x="880.09" y="218" width="12.3" height="6" fill="#8f8f8f"/><rect x="894.49" y="218" width="11.6" height="6" fill="#949494"/><rect x="908.29" y="218" width="11.8" height="6" fill="#8f8f8f"/><rect x="922.19" y="218" width="11.7" height="6" fill="#8a8a8a"/><rect x="879.09" y="224" width="55.8" height="8" fill="#5b5b5b"/><rect x="892.79" y="224" width="1.3" height="8" fill="#242424"/><rect x="906.49" y="224" width="1.4" height="8" fill="#242424"/><rect x="920.49" y="224" width="1.3" height="8" fill="#242424"/><rect x="880.09" y="224" width="12.3" height="8" fill="#a1a1a1"/><rect x="894.49" y="224" width="11.6" height="8" fill="#9f9f9f"/><rect x="908.29" y="224" width="11.8" height="8" fill="#989898"/><rect x="922.19" y="224" width="11.7" height="8" fill="#989898"/><rect x="879.09" y="232" width="55.8" height="8" fill="#5b5b5b"/><rect x="892.79" y="232" width="1.3" height="8" fill="#242424"/><rect x="906.49" y="232" width="1.4" height="8" fill="#242424"/><rect x="920.49" y="232" width="1.3" height="8" fill="#242424"/><rect x="880.09" y="232" width="12.3" height="8" fill="#a1a1a1"/><rect x="894.49" y="232" width="11.6" height="8" fill="#a1a1a1"/><rect x="908.29" y="232" width="11.8" height="8" fill="#9d9d9d"/><rect x="922.19" y="232" width="11.7" height="8" fill="#989898"/><rect x="879.09" y="240" width="55.8" height="7" fill="#5b5b5b"/><rect x="892.79" y="240" width="1.3" height="7" fill="#242424"/><rect x="906.49" y="240" width="1.4" height="7" fill="#242424"/><rect x="920.49" y="240" width="1.3" height="7" fill="#242424"/><rect x="880.09" y="240" width="12.3" height="7" fill="#a1a1a1"/><rect x="894.49" y="240" width="11.6" height="7" fill="#a1a1a1"/><rect x="908.29" y="240" width="11.8" height="7" fill="#9d9d9d"/><rect x="922.19" y="240" width="11.7" height="7" fill="#9d9d9d"/><rect x="879.09" y="247" width="55.8" height="6" fill="#5b5b5b"/><rect x="892.79" y="247" width="1.3" height="6" fill="#242424"/><rect x="906.49" y="247" width="1.4" height="6" fill="#242424"/><rect x="920.49" y="247" width="1.3" height="6" fill="#242424"/><rect x="880.09" y="247" width="12.3" height="6" fill="#9d9d9d"/><rect x="894.49" y="247" width="11.6" height="6" fill="#9d9d9d"/><rect x="908.29" y="247" width="11.8" height="6" fill="#989898"/><rect x="922.19" y="247" width="11.7" height="6" fill="#949494"/><rect x="879.09" y="253" width="55.8" height="8" fill="#5b5b5b"/><rect x="892.79" y="253" width="1.3" height="8" fill="#242424"/><rect x="906.49" y="253" width="1.4" height="8" fill="#242424"/><rect x="920.49" y="253" width="1.3" height="8" fill="#242424"/><rect x="880.09" y="253" width="12.3" height="8" fill="#a6a6a6"/><rect x="894.49" y="253" width="11.6" height="8" fill="#a6a6a6"/><rect x="908.29" y="253" width="11.8" height="8" fill="#a1a1a1"/><rect x="922.19" y="253" width="11.7" height="8" fill="#949494"/><rect x="879.09" y="261" width="55.8" height="7" fill="#5b5b5b"/><rect x="892.79" y="261" width="1.3" height="7" fill="#262626"/><rect x="906.49" y="261" width="1.4" height="7" fill="#262626"/><rect x="920.49" y="261" width="1.3" height="7" fill="#262626"/><rect x="880.09" y="261" width="12.3" height="7" fill="#aaaaaa"/><rect x="894.49" y="261" width="11.6" height="7" fill="#aaaaaa"/><rect x="908.29" y="261" width="11.8" height="7" fill="#a1a1a1"/><rect x="922.19" y="261" width="11.7" height="7" fill="#949494"/><rect x="879.09" y="268" width="55.8" height="8" fill="#5b5b5b"/><rect x="892.79" y="268" width="1.3" height="8" fill="#242424"/><rect x="906.49" y="268" width="1.4" height="8" fill="#242424"/><rect x="920.49" y="268" width="1.3" height="8" fill="#242424"/><rect x="880.09" y="268" width="12.3" height="8" fill="#a8a8a8"/><rect x="894.49" y="268" width="11.6" height="8" fill="#a8a8a8"/><rect x="908.29" y="268" width="11.8" height="8" fill="#9d9d9d"/><rect x="922.19" y="268" width="11.7" height="8" fill="#8f8f8f"/><rect x="879.09" y="276" width="55.8" height="10" fill="#5b5b5b"/><rect x="892.79" y="276" width="1.3" height="10" fill="#242424"/><rect x="906.49" y="276" width="1.4" height="10" fill="#242424"/><rect x="920.49" y="276" width="1.3" height="10" fill="#242424"/><rect x="880.09" y="276" width="12.3" height="10" fill="#8a8a8a"/><rect x="894.49" y="276" width="11.6" height="10" fill="#8a8a8a"/><rect x="908.29" y="276" width="11.8" height="10" fill="#8a8a8a"/><rect x="922.19" y="276" width="11.7" height="10" fill="#868686"/><rect x="879.09" y="286" width="55.8" height="7" fill="#5b5b5b"/><rect x="892.79" y="286" width="1.3" height="7" fill="#242424"/><rect x="906.49" y="286" width="1.4" height="7" fill="#242424"/><rect x="920.49" y="286" width="1.3" height="7" fill="#242424"/><rect x="880.09" y="286" width="12.3" height="7" fill="#9d9d9d"/><rect x="894.49" y="286" width="11.6" height="7" fill="#989898"/><rect x="908.29" y="286" width="11.8" height="7" fill="#949494"/><rect x="922.19" y="286" width="11.7" height="7" fill="#949494"/><rect x="879.09" y="293" width="55.8" height="7" fill="#5b5b5b"/><rect x="892.79" y="293" width="1.3" height="7" fill="#242424"/><rect x="906.49" y="293" width="1.4" height="7" fill="#242424"/><rect x="920.49" y="293" width="1.3" height="7" fill="#242424"/><rect x="880.09" y="293" width="12.3" height="7" fill="#9d9d9d"/><rect x="894.49" y="293" width="11.6" height="7" fill="#949494"/><rect x="908.29" y="293" width="11.8" height="7" fill="#989898"/><rect x="922.19" y="293" width="11.7" height="7" fill="#a1a1a1"/><rect x="879.09" y="300" width="55.8" height="9" fill="#5b5b5b"/><rect x="892.79" y="300" width="1.3" height="9" fill="#242424"/><rect x="906.49" y="300" width="1.4" height="9" fill="#242424"/><rect x="920.49" y="300" width="1.3" height="9" fill="#242424"/><rect x="880.09" y="300" width="12.3" height="9" fill="#949494"/><rect x="894.49" y="300" width="11.6" height="9" fill="#949494"/><rect x="908.29" y="300" width="11.8" height="9" fill="#949494"/><rect x="922.19" y="300" width="11.7" height="9" fill="#949494"/><rect x="879.09" y="309" width="55.8" height="7" fill="#5b5b5b"/><rect x="892.79" y="309" width="1.3" height="7" fill="#2e2e2e"/><rect x="906.49" y="309" width="1.4" height="7" fill="#2e2e2e"/><rect x="920.49" y="309" width="1.3" height="7" fill="#2e2e2e"/><rect x="880.09" y="309" width="12.3" height="7" fill="#afafaf"/><rect x="894.49" y="309" width="11.6" height="7" fill="#b1b1b1"/><rect x="908.29" y="309" width="11.8" height="7" fill="#aaaaaa"/><rect x="922.19" y="309" width="11.7" height="7" fill="#a1a1a1"/><rect x="879.09" y="316" width="55.8" height="8" fill="#5b5b5b"/><rect x="892.79" y="316" width="1.3" height="8" fill="#2a2a2a"/><rect x="906.49" y="316" width="1.4" height="8" fill="#2a2a2a"/><rect x="920.49" y="316" width="1.3" height="8" fill="#2a2a2a"/><rect x="880.09" y="316" width="12.3" height="8" fill="#aaaaaa"/><rect x="894.49" y="316" width="11.6" height="8" fill="#aaaaaa"/><rect x="908.29" y="316" width="11.8" height="8" fill="#a6a6a6"/><rect x="922.19" y="316" width="11.7" height="8" fill="#a1a1a1"/><rect x="879.09" y="324" width="55.8" height="12" fill="#5b5b5b"/><rect x="892.79" y="324" width="1.3" height="12" fill="#242424"/><rect x="906.49" y="324" width="1.4" height="12" fill="#242424"/><rect x="920.49" y="324" width="1.3" height="12" fill="#242424"/><rect x="880.09" y="324" width="12.3" height="12" fill="#9d9d9d"/><rect x="894.49" y="324" width="11.6" height="12" fill="#9d9d9d"/><rect x="908.29" y="324" width="11.8" height="12" fill="#989898"/><rect x="922.19" y="324" width="11.7" height="12" fill="#989898"/><rect x="879.09" y="336" width="55.8" height="13" fill="#5b5b5b"/><rect x="892.79" y="336" width="1.3" height="13" fill="#242424"/><rect x="906.49" y="336" width="1.4" height="13" fill="#242424"/><rect x="920.49" y="336" width="1.3" height="13" fill="#242424"/><rect x="880.09" y="336" width="12.3" height="13" fill="#949494"/><rect x="894.49" y="336" width="11.6" height="13" fill="#8f8f8f"/><rect x="908.29" y="336" width="11.8" height="13" fill="#8f8f8f"/><rect x="922.19" y="336" width="11.7" height="13" fill="#8f8f8f"/><rect x="879.09" y="349" width="55.8" height="13" fill="#5b5b5b"/><rect x="892.79" y="349" width="1.3" height="13" fill="#242424"/><rect x="906.49" y="349" width="1.4" height="13" fill="#242424"/><rect x="920.49" y="349" width="1.3" height="13" fill="#242424"/><rect x="880.09" y="349" width="12.3" height="13" fill="#a1a1a1"/><rect x="894.49" y="349" width="11.6" height="13" fill="#a1a1a1"/><rect x="908.29" y="349" width="11.8" height="13" fill="#9f9f9f"/><rect x="922.19" y="349" width="11.7" height="13" fill="#8f8f8f"/><rect x="879.09" y="362" width="55.8" height="10" fill="#5b5b5b"/><rect x="892.79" y="362" width="1.3" height="10" fill="#242424"/><rect x="906.49" y="362" width="1.4" height="10" fill="#242424"/><rect x="920.49" y="362" width="1.3" height="10" fill="#242424"/><rect x="880.09" y="362" width="12.3" height="10" fill="#8f8f8f"/><rect x="894.49" y="362" width="11.6" height="10" fill="#949494"/><rect x="908.29" y="362" width="11.8" height="10" fill="#8f8f8f"/><rect x="922.19" y="362" width="11.7" height="10" fill="#8a8a8a"/><rect x="879.09" y="372" width="55.8" height="14" fill="#5b5b5b"/><rect x="892.79" y="372" width="1.3" height="14" fill="#242424"/><rect x="906.49" y="372" width="1.4" height="14" fill="#242424"/><rect x="920.49" y="372" width="1.3" height="14" fill="#242424"/><rect x="880.09" y="372" width="12.3" height="14" fill="#949494"/><rect x="894.49" y="372" width="11.6" height="14" fill="#949494"/><rect x="908.29" y="372" width="11.8" height="14" fill="#8f8f8f"/><rect x="922.19" y="372" width="11.7" height="14" fill="#8a8a8a"/><rect x="879.09" y="386" width="55.8" height="10" fill="#5b5b5b"/><rect x="892.79" y="386" width="1.3" height="10" fill="#242424"/><rect x="906.49" y="386" width="1.4" height="10" fill="#242424"/><rect x="920.49" y="386" width="1.3" height="10" fill="#242424"/><rect x="880.09" y="386" width="12.3" height="10" fill="#a1a1a1"/><rect x="894.49" y="386" width="11.6" height="10" fill="#a1a1a1"/><rect x="908.29" y="386" width="11.8" height="10" fill="#9d9d9d"/><rect x="922.19" y="386" width="11.7" height="10" fill="#8f8f8f"/><rect x="879.09" y="396" width="55.8" height="7" fill="#5b5b5b"/><rect x="892.79" y="396" width="1.3" height="7" fill="#2a2a2a"/><rect x="906.49" y="396" width="1.4" height="7" fill="#2a2a2a"/><rect x="920.49" y="396" width="1.3" height="7" fill="#2a2a2a"/><rect x="880.09" y="396" width="12.3" height="7" fill="#aaaaaa"/><rect x="894.49" y="396" width="11.6" height="7" fill="#aaaaaa"/><rect x="908.29" y="396" width="11.8" height="7" fill="#a6a6a6"/><rect x="922.19" y="396" width="11.7" height="7" fill="#a1a1a1"/><rect x="879.09" y="403" width="55.8" height="9" fill="#5b5b5b"/><rect x="892.79" y="403" width="1.3" height="9" fill="#454545"/><rect x="906.49" y="403" width="1.4" height="9" fill="#454545"/><rect x="920.49" y="403" width="1.3" height="9" fill="#454545"/><rect x="880.09" y="403" width="12.3" height="9" fill="#c6c6c6"/><rect x="894.49" y="403" width="11.6" height="9" fill="#c6c6c6"/><rect x="908.29" y="403" width="11.8" height="9" fill="#c1c1c1"/><rect x="922.19" y="403" width="11.7" height="9" fill="#bdbdbd"/><rect x="879.09" y="412" width="55.8" height="8" fill="#5b5b5b"/><rect x="892.79" y="412" width="1.3" height="8" fill="#505050"/><rect x="906.49" y="412" width="1.4" height="8" fill="#505050"/><rect x="920.49" y="412" width="1.3" height="8" fill="#505050"/><rect x="880.09" y="412" width="12.3" height="8" fill="#d1d1d1"/><rect x="894.49" y="412" width="11.6" height="8" fill="#cfcfcf"/><rect x="908.29" y="412" width="11.8" height="8" fill="#cccccc"/><rect x="922.19" y="412" width="11.7" height="8" fill="#c6c6c6"/><rect x="879.09" y="420" width="55.8" height="3" fill="#5b5b5b"/><rect x="892.79" y="420" width="1.3" height="3" fill="#4c4c4c"/><rect x="906.49" y="420" width="1.4" height="3" fill="#4c4c4c"/><rect x="920.49" y="420" width="1.3" height="3" fill="#4c4c4c"/><rect x="880.09" y="420" width="12.3" height="3" fill="#cacaca"/><rect x="894.49" y="420" width="11.6" height="3" fill="#cacaca"/><rect x="908.29" y="420" width="11.8" height="3" fill="#cacaca"/><rect x="922.19" y="420" width="11.7" height="3" fill="#c6c6c6"/><rect x="879.09" y="423" width="55.8" height="20" fill="#bfbfbf"/><rect x="892.79" y="423" width="1.3" height="20" fill="#dbdbdb"/><rect x="906.49" y="423" width="1.4" height="20" fill="#dbdbdb"/><rect x="920.49" y="423" width="1.3" height="20" fill="#dbdbdb"/><rect x="880.09" y="423" width="12.3" height="20" fill="#fafafa"/><rect x="894.49" y="423" width="11.6" height="20" fill="#fafafa"/><rect x="908.29" y="423" width="11.8" height="20" fill="#fafafa"/><rect x="922.19" y="423" width="11.7" height="20" fill="#fafafa"/><rect x="879.09" y="443" width="55.8" height="7" fill="#898989"/><rect x="892.79" y="443" width="1.3" height="7" fill="#525252"/><rect x="906.49" y="443" width="1.4" height="7" fill="#525252"/><rect x="920.49" y="443" width="1.3" height="7" fill="#525252"/><rect x="880.09" y="443" width="12.3" height="7" fill="#cfcfcf"/><rect x="894.49" y="443" width="11.6" height="7" fill="#cfcfcf"/><rect x="908.29" y="443" width="11.8" height="7" fill="#cfcfcf"/><rect x="922.19" y="443" width="11.7" height="7" fill="#cfcfcf"/><rect x="879.09" y="450" width="55.8" height="5" fill="#898989"/><rect x="892.79" y="450" width="1.3" height="5" fill="#535353"/><rect x="906.49" y="450" width="1.4" height="5" fill="#535353"/><rect x="920.49" y="450" width="1.3" height="5" fill="#535353"/><rect x="880.09" y="450" width="12.3" height="5" fill="#d3d3d3"/><rect x="894.49" y="450" width="11.6" height="5" fill="#cfcfcf"/><rect x="908.29" y="450" width="11.8" height="5" fill="#cfcfcf"/><rect x="922.19" y="450" width="11.7" height="5" fill="#cfcfcf"/><rect x="879.09" y="455" width="55.8" height="13" fill="#5b5b5b"/><rect x="892.79" y="455" width="1.3" height="13" fill="#3c3c3c"/><rect x="906.49" y="455" width="1.4" height="13" fill="#3c3c3c"/><rect x="920.49" y="455" width="1.3" height="13" fill="#3c3c3c"/><rect x="880.09" y="455" width="12.3" height="13" fill="#bdbdbd"/><rect x="894.49" y="455" width="11.6" height="13" fill="#b8b8b8"/><rect x="908.29" y="455" width="11.8" height="13" fill="#b8b8b8"/><rect x="922.19" y="455" width="11.7" height="13" fill="#b8b8b8"/><rect x="879.09" y="468" width="55.8" height="11" fill="#5b5b5b"/><rect x="892.79" y="468" width="1.3" height="11" fill="#323232"/><rect x="906.49" y="468" width="1.4" height="11" fill="#323232"/><rect x="920.49" y="468" width="1.3" height="11" fill="#323232"/><rect x="880.09" y="468" width="12.3" height="11" fill="#afafaf"/><rect x="894.49" y="468" width="11.6" height="11" fill="#afafaf"/><rect x="908.29" y="468" width="11.8" height="11" fill="#afafaf"/><rect x="922.19" y="468" width="11.7" height="11" fill="#afafaf"/><rect x="879.09" y="479" width="55.8" height="14" fill="#5b5b5b"/><rect x="892.79" y="479" width="1.3" height="14" fill="#242424"/><rect x="906.49" y="479" width="1.4" height="14" fill="#242424"/><rect x="920.49" y="479" width="1.3" height="14" fill="#242424"/><rect x="880.09" y="479" width="12.3" height="14" fill="#a1a1a1"/><rect x="894.49" y="479" width="11.6" height="14" fill="#9f9f9f"/><rect x="908.29" y="479" width="11.8" height="14" fill="#9d9d9d"/><rect x="922.19" y="479" width="11.7" height="14" fill="#9d9d9d"/><rect x="879.09" y="493" width="55.8" height="10" fill="#5b5b5b"/><rect x="892.79" y="493" width="1.3" height="10" fill="#2b2b2b"/><rect x="906.49" y="493" width="1.4" height="10" fill="#2b2b2b"/><rect x="920.49" y="493" width="1.3" height="10" fill="#2b2b2b"/><rect x="880.09" y="493" width="12.3" height="10" fill="#b3b3b3"/><rect x="894.49" y="493" width="11.6" height="10" fill="#afafaf"/><rect x="908.29" y="493" width="11.8" height="10" fill="#a1a1a1"/><rect x="922.19" y="493" width="11.7" height="10" fill="#9d9d9d"/><rect x="879.09" y="503" width="55.8" height="15" fill="#5b5b5b"/><rect x="892.79" y="503" width="1.3" height="15" fill="#242424"/><rect x="906.49" y="503" width="1.4" height="15" fill="#242424"/><rect x="920.49" y="503" width="1.3" height="15" fill="#242424"/><rect x="880.09" y="503" width="12.3" height="15" fill="#a1a1a1"/><rect x="894.49" y="503" width="11.6" height="15" fill="#a6a6a6"/><rect x="908.29" y="503" width="11.8" height="15" fill="#a1a1a1"/><rect x="922.19" y="503" width="11.7" height="15" fill="#989898"/><rect x="879.09" y="518" width="55.8" height="5" fill="#5b5b5b"/><rect x="892.79" y="518" width="1.3" height="5" fill="#242424"/><rect x="906.49" y="518" width="1.4" height="5" fill="#242424"/><rect x="920.49" y="518" width="1.3" height="5" fill="#242424"/><rect x="880.09" y="518" width="12.3" height="5" fill="#949494"/><rect x="894.49" y="518" width="11.6" height="5" fill="#949494"/><rect x="908.29" y="518" width="11.8" height="5" fill="#949494"/><rect x="922.19" y="518" width="11.7" height="5" fill="#949494"/><rect x="879.09" y="523" width="55.8" height="14" fill="#5b5b5b"/><rect x="892.79" y="523" width="1.3" height="14" fill="#242424"/><rect x="906.49" y="523" width="1.4" height="14" fill="#242424"/><rect x="920.49" y="523" width="1.3" height="14" fill="#242424"/><rect x="880.09" y="523" width="12.3" height="14" fill="#9d9d9d"/><rect x="894.49" y="523" width="11.6" height="14" fill="#a1a1a1"/><rect x="908.29" y="523" width="11.8" height="14" fill="#9d9d9d"/><rect x="922.19" y="523" width="11.7" height="14" fill="#949494"/><rect x="879.09" y="537" width="55.8" height="8" fill="#5b5b5b"/><rect x="892.79" y="537" width="1.3" height="8" fill="#242424"/><rect x="906.49" y="537" width="1.4" height="8" fill="#242424"/><rect x="920.49" y="537" width="1.3" height="8" fill="#242424"/><rect x="880.09" y="537" width="12.3" height="8" fill="#a1a1a1"/><rect x="894.49" y="537" width="11.6" height="8" fill="#a1a1a1"/><rect x="908.29" y="537" width="11.8" height="8" fill="#9d9d9d"/><rect x="922.19" y="537" width="11.7" height="8" fill="#989898"/><rect x="879.09" y="545" width="55.8" height="7" fill="#5b5b5b"/><rect x="892.79" y="545" width="1.3" height="7" fill="#2c2c2c"/><rect x="906.49" y="545" width="1.4" height="7" fill="#2c2c2c"/><rect x="920.49" y="545" width="1.3" height="7" fill="#2c2c2c"/><rect x="880.09" y="545" width="12.3" height="7" fill="#aaaaaa"/><rect x="894.49" y="545" width="11.6" height="7" fill="#aaaaaa"/><rect x="908.29" y="545" width="11.8" height="7" fill="#aaaaaa"/><rect x="922.19" y="545" width="11.7" height="7" fill="#a6a6a6"/><rect x="879.09" y="552" width="55.8" height="8" fill="#5b5b5b"/><rect x="892.79" y="552" width="1.3" height="8" fill="#464646"/><rect x="906.49" y="552" width="1.4" height="8" fill="#464646"/><rect x="920.49" y="552" width="1.3" height="8" fill="#464646"/><rect x="880.09" y="552" width="12.3" height="8" fill="#c5c5c5"/><rect x="894.49" y="552" width="11.6" height="8" fill="#c5c5c5"/><rect x="908.29" y="552" width="11.8" height="8" fill="#c5c5c5"/><rect x="922.19" y="552" width="11.7" height="8" fill="#bcbcbc"/><rect x="879.09" y="560" width="55.8" height="5" fill="#5b5b5b"/><rect x="892.79" y="560" width="1.3" height="5" fill="#4c4c4c"/><rect x="906.49" y="560" width="1.4" height="5" fill="#4c4c4c"/><rect x="920.49" y="560" width="1.3" height="5" fill="#4c4c4c"/><rect x="880.09" y="560" width="12.3" height="5" fill="#cecece"/><rect x="894.49" y="560" width="11.6" height="5" fill="#c9c9c9"/><rect x="908.29" y="560" width="11.8" height="5" fill="#c9c9c9"/><rect x="922.19" y="560" width="11.7" height="5" fill="#c5c5c5"/><rect x="879.09" y="565" width="55.8" height="6" fill="#898989"/><rect x="892.79" y="565" width="1.3" height="6" fill="#5c5c5c"/><rect x="906.49" y="565" width="1.4" height="6" fill="#5c5c5c"/><rect x="920.49" y="565" width="1.3" height="6" fill="#5c5c5c"/><rect x="880.09" y="565" width="12.3" height="6" fill="#e0e0e0"/><rect x="894.49" y="565" width="11.6" height="6" fill="#d7d7d7"/><rect x="908.29" y="565" width="11.8" height="6" fill="#dbdbdb"/><rect x="922.19" y="565" width="11.7" height="6" fill="#d2d2d2"/><rect x="879.09" y="571" width="55.8" height="5" fill="#5b5b5b"/><rect x="892.79" y="571" width="1.3" height="5" fill="#484848"/><rect x="906.49" y="571" width="1.4" height="5" fill="#484848"/><rect x="920.49" y="571" width="1.3" height="5" fill="#484848"/><rect x="880.09" y="571" width="12.3" height="5" fill="#c9c9c9"/><rect x="894.49" y="571" width="11.6" height="5" fill="#c5c5c5"/><rect x="908.29" y="571" width="11.8" height="5" fill="#c5c5c5"/><rect x="922.19" y="571" width="11.7" height="5" fill="#c0c0c0"/><rect x="879.09" y="576" width="55.8" height="7" fill="#5b5b5b"/><rect x="892.79" y="576" width="1.3" height="7" fill="#4a4a4a"/><rect x="906.49" y="576" width="1.4" height="7" fill="#4a4a4a"/><rect x="920.49" y="576" width="1.3" height="7" fill="#4a4a4a"/><rect x="880.09" y="576" width="12.3" height="7" fill="#cecece"/><rect x="894.49" y="576" width="11.6" height="7" fill="#c5c5c5"/><rect x="908.29" y="576" width="11.8" height="7" fill="#c5c5c5"/><rect x="922.19" y="576" width="11.7" height="7" fill="#c5c5c5"/><rect x="879.09" y="583" width="55.8" height="6" fill="#5b5b5b"/><rect x="892.79" y="583" width="1.3" height="6" fill="#454545"/><rect x="906.49" y="583" width="1.4" height="6" fill="#454545"/><rect x="920.49" y="583" width="1.3" height="6" fill="#454545"/><rect x="880.09" y="583" width="12.3" height="6" fill="#c5c5c5"/><rect x="894.49" y="583" width="11.6" height="6" fill="#c0c0c0"/><rect x="908.29" y="583" width="11.8" height="6" fill="#c0c0c0"/><rect x="922.19" y="583" width="11.7" height="6" fill="#c0c0c0"/><rect x="879.09" y="589" width="55.8" height="11" fill="#5b5b5b"/><rect x="892.79" y="589" width="1.3" height="11" fill="#393939"/><rect x="906.49" y="589" width="1.4" height="11" fill="#393939"/><rect x="920.49" y="589" width="1.3" height="11" fill="#393939"/><rect x="880.09" y="589" width="12.3" height="11" fill="#b8b8b8"/><rect x="894.49" y="589" width="11.6" height="11" fill="#b3b3b3"/><rect x="908.29" y="589" width="11.8" height="11" fill="#b3b3b3"/><rect x="922.19" y="589" width="11.7" height="11" fill="#b8b8b8"/><rect x="879.09" y="600" width="55.8" height="11" fill="#5b5b5b"/><rect x="892.79" y="600" width="1.3" height="11" fill="#2b2b2b"/><rect x="906.49" y="600" width="1.4" height="11" fill="#2b2b2b"/><rect x="920.49" y="600" width="1.3" height="11" fill="#2b2b2b"/><rect x="880.09" y="600" width="12.3" height="11" fill="#a6a6a6"/><rect x="894.49" y="600" width="11.6" height="11" fill="#a6a6a6"/><rect x="908.29" y="600" width="11.8" height="11" fill="#a8a8a8"/><rect x="922.19" y="600" width="11.7" height="11" fill="#aaaaaa"/><rect x="879.09" y="611" width="55.8" height="9" fill="#5b5b5b"/><rect x="892.79" y="611" width="1.3" height="9" fill="#242424"/><rect x="906.49" y="611" width="1.4" height="9" fill="#242424"/><rect x="920.49" y="611" width="1.3" height="9" fill="#242424"/><rect x="880.09" y="611" width="12.3" height="9" fill="#a1a1a1"/><rect x="894.49" y="611" width="11.6" height="9" fill="#9d9d9d"/><rect x="908.29" y="611" width="11.8" height="9" fill="#9d9d9d"/><rect x="922.19" y="611" width="11.7" height="9" fill="#a1a1a1"/><rect x="879.09" y="620" width="55.8" height="6" fill="#5b5b5b"/><rect x="892.79" y="620" width="1.3" height="6" fill="#2b2b2b"/><rect x="906.49" y="620" width="1.4" height="6" fill="#2b2b2b"/><rect x="920.49" y="620" width="1.3" height="6" fill="#2b2b2b"/><rect x="880.09" y="620" width="12.3" height="6" fill="#afafaf"/><rect x="894.49" y="620" width="11.6" height="6" fill="#a6a6a6"/><rect x="908.29" y="620" width="11.8" height="6" fill="#a1a1a1"/><rect x="922.19" y="620" width="11.7" height="6" fill="#aaaaaa"/><rect x="879.09" y="626" width="55.8" height="8" fill="#5b5b5b"/><rect x="892.79" y="626" width="1.3" height="8" fill="#2c2c2c"/><rect x="906.49" y="626" width="1.4" height="8" fill="#2c2c2c"/><rect x="920.49" y="626" width="1.3" height="8" fill="#2c2c2c"/><rect x="880.09" y="626" width="12.3" height="8" fill="#afafaf"/><rect x="894.49" y="626" width="11.6" height="8" fill="#a6a6a6"/><rect x="908.29" y="626" width="11.8" height="8" fill="#a6a6a6"/><rect x="922.19" y="626" width="11.7" height="8" fill="#aaaaaa"/><rect x="879.09" y="634" width="55.8" height="14" fill="#5b5b5b"/><rect x="892.79" y="634" width="1.3" height="14" fill="#262626"/><rect x="906.49" y="634" width="1.4" height="14" fill="#262626"/><rect x="920.49" y="634" width="1.3" height="14" fill="#262626"/><rect x="880.09" y="634" width="12.3" height="14" fill="#a6a6a6"/><rect x="894.49" y="634" width="11.6" height="14" fill="#a1a1a1"/><rect x="908.29" y="634" width="11.8" height="14" fill="#a1a1a1"/><rect x="922.19" y="634" width="11.7" height="14" fill="#a1a1a1"/><rect x="879.09" y="648" width="55.8" height="17" fill="#5b5b5b"/><rect x="892.79" y="648" width="1.3" height="17" fill="#242424"/><rect x="906.49" y="648" width="1.4" height="17" fill="#242424"/><rect x="920.49" y="648" width="1.3" height="17" fill="#242424"/><rect x="880.09" y="648" width="12.3" height="17" fill="#9d9d9d"/><rect x="894.49" y="648" width="11.6" height="17" fill="#949494"/><rect x="908.29" y="648" width="11.8" height="17" fill="#989898"/><rect x="922.19" y="648" width="11.7" height="17" fill="#8f8f8f"/><rect x="879.09" y="665" width="55.8" height="9" fill="#5b5b5b"/><rect x="892.79" y="665" width="1.3" height="9" fill="#242424"/><rect x="906.49" y="665" width="1.4" height="9" fill="#242424"/><rect x="920.49" y="665" width="1.3" height="9" fill="#242424"/><rect x="880.09" y="665" width="12.3" height="9" fill="#a1a1a1"/><rect x="894.49" y="665" width="11.6" height="9" fill="#989898"/><rect x="908.29" y="665" width="11.8" height="9" fill="#9d9d9d"/><rect x="922.19" y="665" width="11.7" height="9" fill="#949494"/><rect x="879.09" y="674" width="55.8" height="17" fill="#5b5b5b"/><rect x="892.79" y="674" width="1.3" height="17" fill="#242424"/><rect x="906.49" y="674" width="1.4" height="17" fill="#242424"/><rect x="920.49" y="674" width="1.3" height="17" fill="#242424"/><rect x="880.09" y="674" width="12.3" height="17" fill="#9a9a9a"/><rect x="894.49" y="674" width="11.6" height="17" fill="#949494"/><rect x="908.29" y="674" width="11.8" height="17" fill="#a1a1a1"/><rect x="922.19" y="674" width="11.7" height="17" fill="#989898"/><rect x="879.09" y="691" width="55.8" height="17" fill="#5b5b5b"/><rect x="892.79" y="691" width="1.3" height="17" fill="#242424"/><rect x="906.49" y="691" width="1.4" height="17" fill="#242424"/><rect x="920.49" y="691" width="1.3" height="17" fill="#242424"/><rect x="880.09" y="691" width="12.3" height="17" fill="#949494"/><rect x="894.49" y="691" width="11.6" height="17" fill="#949494"/><rect x="908.29" y="691" width="11.8" height="17" fill="#9d9d9d"/><rect x="922.19" y="691" width="11.7" height="17" fill="#8f8f8f"/><rect x="879.09" y="708" width="55.8" height="32" fill="#5b5b5b"/><rect x="892.79" y="708" width="1.3" height="32" fill="#242424"/><rect x="906.49" y="708" width="1.4" height="32" fill="#242424"/><rect x="920.49" y="708" width="1.3" height="32" fill="#242424"/><rect x="880.09" y="708" width="12.3" height="32" fill="#afafaf"/><rect x="894.49" y="708" width="11.6" height="32" fill="#a1a1a1"/><rect x="908.29" y="708" width="11.8" height="32" fill="#9d9d9d"/><rect x="922.19" y="708" width="11.7" height="32" fill="#949494"/></g>
<rect x="768.09" y="108" width="111.2" height="3" fill="#3b3b3b"/><rect x="934.69" y="108" width="10.3" height="3" fill="#3b3b3b"/><rect x="768.09" y="168" width="111.2" height="8" fill="#303030"/><rect x="934.69" y="168" width="10.3" height="8" fill="#303030"/><rect x="768.09" y="276" width="111.2" height="8" fill="#343434"/><rect x="934.69" y="276" width="10.3" height="8" fill="#343434"/><rect x="768.09" y="326" width="111.2" height="5" fill="#404040"/><rect x="934.69" y="326" width="10.3" height="5" fill="#404040"/><rect x="768.09" y="336" width="111.2" height="3" fill="#444444"/><rect x="934.69" y="336" width="10.3" height="3" fill="#444444"/><rect x="768.09" y="509" width="111.2" height="3" fill="#373737"/><rect x="934.69" y="509" width="10.3" height="3" fill="#373737"/><rect x="768.09" y="518" width="111.2" height="3" fill="#444444"/><rect x="934.69" y="518" width="10.3" height="3" fill="#444444"/><rect x="768.09" y="643" width="111.2" height="2" fill="#474747"/><rect x="934.69" y="643" width="10.3" height="2" fill="#474747"/><rect x="768.09" y="152" width="111.2" height="1" fill="#404040"/><rect x="934.69" y="152" width="10.3" height="1" fill="#404040"/><rect x="768.09" y="536" width="111.2" height="12" fill="#323232"/><rect x="934.69" y="536" width="10.3" height="12" fill="#323232"/><rect x="768.09" y="423" width="111.6" height="3" fill="#adadad"/><rect x="934.29" y="423" width="10.7" height="3" fill="#a4a4a4"/><rect x="768.09" y="426" width="111.6" height="1" fill="#898989"/><rect x="934.29" y="426" width="10.7" height="1" fill="#7f7f7f"/><rect x="768.09" y="427" width="111.6" height="5" fill="#c8c8c8"/><rect x="934.29" y="427" width="10.7" height="5" fill="#bfbfbf"/><rect x="768.09" y="432" width="111.6" height="4" fill="#b2b2b2"/><rect x="934.29" y="432" width="10.7" height="4" fill="#a8a8a8"/><rect x="768.09" y="436" width="111.6" height="5" fill="#969696"/><rect x="934.29" y="436" width="10.7" height="5" fill="#8d8d8d"/><rect x="768.09" y="441" width="111.6" height="2" fill="#767676"/><rect x="934.29" y="441" width="10.7" height="2" fill="#6d6d6d"/><rect x="768.09" y="565" width="111.6" height="1" fill="#6d6d6d"/><rect x="934.29" y="565" width="10.7" height="1" fill="#646464"/><rect x="768.09" y="566" width="111.6" height="3" fill="#929292"/><rect x="934.29" y="566" width="10.7" height="3" fill="#898989"/><rect x="768.09" y="569" width="111.6" height="1" fill="#6d6d6d"/><rect x="934.29" y="569" width="10.7" height="1" fill="#646464"/><rect x="768.09" y="399" width="111.6" height="1" fill="#a8a8a8"/><rect x="934.29" y="399" width="10.7" height="1" fill="#9f9f9f"/>
</g>
<path d="M769 101h176v7h-176zM769 162h176v1h-176zM769 203h176v1h-176zM769 218h176v1h-176zM769 245h176v2h-176zM769 252h176v1h-176zM769 260h176v1h-176zM769 266h176v1h-176zM769 280h176v1h-176zM769 286h176v1h-176zM769 289h176v1h-176zM769 305h176v1h-176zM769 310h176v1h-176zM769 331h176v5h-176zM769 348h176v1h-176zM769 371h176v1h-176zM769 384h176v1h-176zM769 402h176v1h-176zM769 445h176v1h-176zM769 449h176v1h-176zM769 478h176v1h-176zM769 489h176v1h-176zM769 492h176v1h-176zM769 512h176v6h-176zM769 521h176v2h-176zM769 531h176v5h-176zM769 544h176v1h-176zM769 575h176v1h-176zM769 625h176v1h-176zM769 631h176v1h-176zM769 648h176v1h-176zM769 664h176v1h-176zM769 673h176v1h-176zM769 708h176v7h-176zM769 717h176v1h-176z" fill="#fff"/>
<path d="M769 111h176v1h-176zM769 133h176v1h-176zM769 156h176v1h-176zM769 176h176v1h-176zM769 192h176v1h-176zM769 200h176v1h-176zM769 208h176v1h-176zM769 216h176v1h-176zM769 224h176v1h-176zM769 232h176v1h-176zM769 240h176v1h-176zM769 248h176v2h-176zM769 275h176v1h-176zM769 284h176v2h-176zM769 291h176v2h-176zM769 299h176v1h-176zM769 307h176v2h-176zM769 315h176v1h-176zM769 321h176v2h-176zM769 324h176v2h-176zM769 339h176v1h-176zM769 395h176v1h-176zM769 397h176v1h-176zM769 400h176v1h-176zM769 508h176v1h-176zM769 536h176v1h-176zM769 538h176v1h-176zM769 543h176v1h-176zM769 548h176v1h-176zM769 552h176v1h-176zM769 554h176v1h-176zM769 565h176v1h-176zM769 570h176v1h-176zM769 589h176v1h-176zM769 611h176v1h-176zM769 633h176v1h-176zM769 637h176v1h-176zM769 642h176v1h-176zM769 645h176v3h-176zM769 690h176v1h-176z" fill="#000"/>
<path d="M768.5 720V80.5H945.5V720M768 720H946" fill="none" stroke="#000" stroke-width="1"/><path d="M768 720H946" fill="none" stroke="#000" stroke-width="1.3"/>
<path d="M768.5 720v-5.56M768.5 80.5v5.56M809.5 720v-5.56M809.5 80.5v5.56M851.5 720v-5.56M851.5 80.5v5.56M892.5 720v-5.56M892.5 80.5v5.56M934.5 720v-5.56M934.5 80.5v5.56M768.5 720.5h5.56M945.5 720.5h-5.56M768.5 586.5h5.56M945.5 586.5h-5.56M768.5 453.5h5.56M945.5 453.5h-5.56M768.5 320.5h5.56M945.5 320.5h-5.56M768.5 186.5h5.56M945.5 186.5h-5.56" stroke="#000" stroke-width="0.8" fill="none"/>
<text x="768.09" y="735.6" font-size="11.6" text-anchor="middle">320</text><text x="809.55" y="735.6" font-size="11.6" text-anchor="middle">335</text><text x="851.01" y="735.6" font-size="11.6" text-anchor="middle">350</text><text x="892.47" y="735.6" font-size="11.6" text-anchor="middle">365</text><text x="933.93" y="735.6" font-size="11.6" text-anchor="middle">380</text><text x="762.89" y="723.3" font-size="11.6" text-anchor="end">0</text><text x="762.89" y="589.97" font-size="11.6" text-anchor="end">5</text><text x="762.89" y="456.63" font-size="11.6" text-anchor="end">10</text><text x="762.89" y="323.3" font-size="11.6" text-anchor="end">15</text><text x="762.89" y="189.97" font-size="11.6" text-anchor="end">20</text>
<text x="856.54" y="73" font-size="16.67" font-family="DejaVu Sans Condensed,DejaVu Sans,sans-serif" font-stretch="condensed" text-anchor="middle">YX, V0*V12=EA17*EA10</text>
<text x="483.6" y="755" font-size="12.5" text-anchor="middle">frequency (MHz)</text>
<text transform="translate(101,400) rotate(-90)" font-size="12.5" text-anchor="middle">UT (hours)</text>
<rect x="1020" y="160.5" width="14.2" height="479.5" fill="url(#cb)" stroke="#000" stroke-width="1"/>
<path d="M1020 160h5.56M1034.2 160h-5.56M1020 256h5.56M1034.2 256h-5.56M1020 352h5.56M1034.2 352h-5.56M1020 448h5.56M1034.2 448h-5.56M1020 544h5.56M1034.2 544h-5.56M1020 640h5.56M1034.2 640h-5.56M1022.84 160v5.56M1022.84 640v-5.56M1025.68 160v5.56M1025.68 640v-5.56M1028.52 160v5.56M1028.52 640v-5.56M1031.36 160v5.56M1031.36 640v-5.56" stroke="#000" stroke-width="0.8" fill="none"/>
<text x="1020.00" y="647.2" font-size="1.1" fill="#555" text-anchor="middle">0.0</text><text x="1022.84" y="647.2" font-size="1.1" fill="#555" text-anchor="middle">0.2</text><text x="1025.68" y="647.2" font-size="1.1" fill="#555" text-anchor="middle">0.4</text><text x="1028.52" y="647.2" font-size="1.1" fill="#555" text-anchor="middle">0.6</text><text x="1031.36" y="647.2" font-size="1.1" fill="#555" text-anchor="middle">0.8</text><text x="1034.20" y="647.2" font-size="1.1" fill="#555" text-anchor="middle">1.0</text>
<text x="1012.8" y="163.2" font-size="9.8" text-anchor="end">1</text><text x="1012.8" y="259.2" font-size="9.8" text-anchor="end">0</text><text x="1012.8" y="355.2" font-size="9.8" text-anchor="end">−1</text><text x="1012.8" y="451.2" font-size="9.8" text-anchor="end">−2</text><text x="1012.8" y="547.2" font-size="9.8" text-anchor="end">−3</text><text x="1012.8" y="643.2" font-size="9.8" text-anchor="end">−4</text>
<text transform="translate(984.8,400) rotate(-90)" font-size="12.5" text-anchor="middle">log<tspan font-size="7.4" dy="2.6">10</tspan><tspan dy="-2.6"> amplitude</tspan></text>
</svg>
</body></html>
